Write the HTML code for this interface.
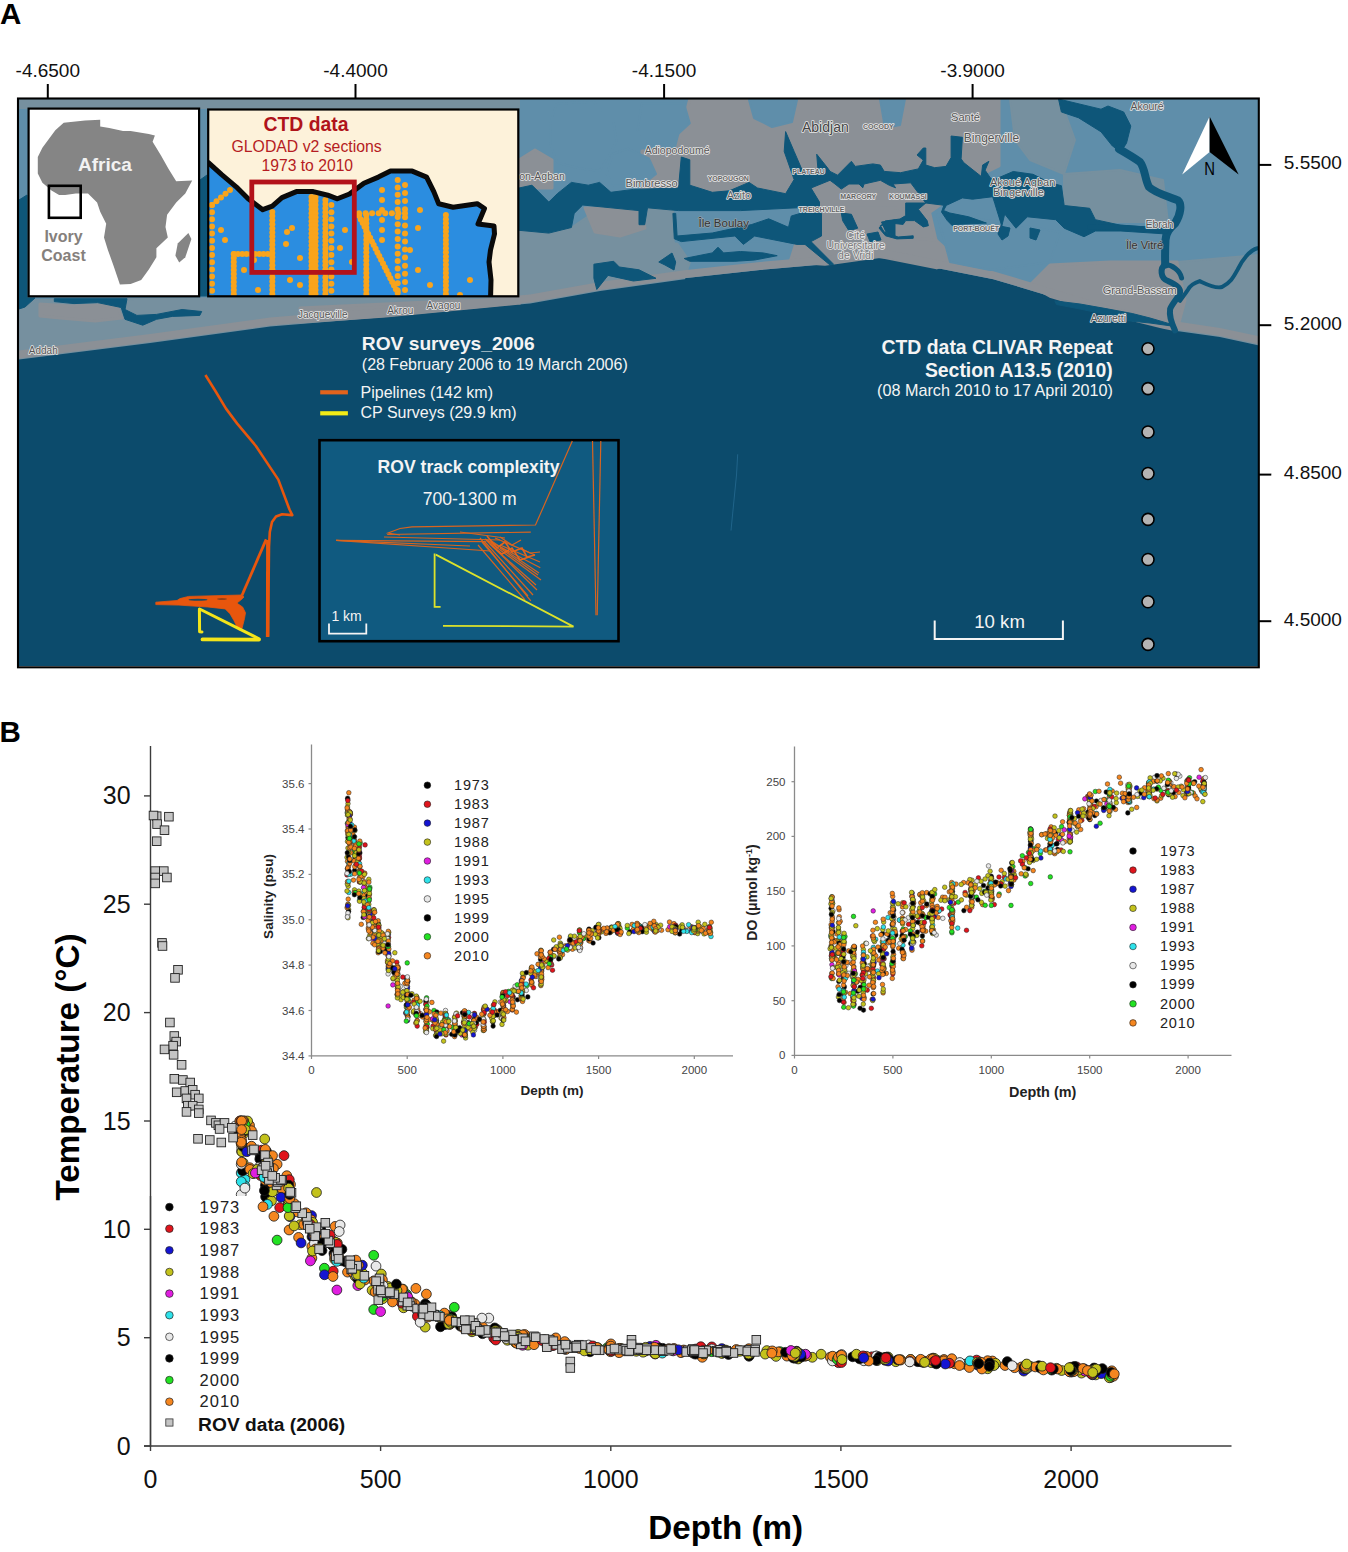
<!DOCTYPE html>
<html><head><meta charset="utf-8"><title>Figure</title>
<style>html,body{margin:0;padding:0;background:#fff;width:1348px;height:1552px;overflow:hidden}svg{display:block}.k0{fill:#000000;stroke:#1a1a1a;stroke-width:.8px}.s0{fill:#000000;stroke:#222;stroke-width:.5px}.k1{fill:#e0141c;stroke:#1a1a1a;stroke-width:.8px}.s1{fill:#e0141c;stroke:#222;stroke-width:.5px}.k2{fill:#1414d2;stroke:#1a1a1a;stroke-width:.8px}.s2{fill:#1414d2;stroke:#222;stroke-width:.5px}.k3{fill:#c3c21c;stroke:#1a1a1a;stroke-width:.8px}.s3{fill:#c3c21c;stroke:#222;stroke-width:.5px}.k4{fill:#e01ee0;stroke:#1a1a1a;stroke-width:.8px}.s4{fill:#e01ee0;stroke:#222;stroke-width:.5px}.k5{fill:#2ee2ea;stroke:#1a1a1a;stroke-width:.8px}.s5{fill:#2ee2ea;stroke:#222;stroke-width:.5px}.k6{fill:#e8e8e8;stroke:#1a1a1a;stroke-width:.8px}.s6{fill:#e8e8e8;stroke:#222;stroke-width:.5px}.k7{fill:#000000;stroke:#1a1a1a;stroke-width:.8px}.s7{fill:#000000;stroke:#222;stroke-width:.5px}.k8{fill:#22e222;stroke:#1a1a1a;stroke-width:.8px}.s8{fill:#22e222;stroke:#222;stroke-width:.5px}.k9{fill:#f5861f;stroke:#1a1a1a;stroke-width:.8px}.s9{fill:#f5861f;stroke:#222;stroke-width:.5px}.sq{width:8.6px;height:8.6px;fill:#c4c4c4;stroke:#222;stroke-width:.9px}</style>
</head><body>
<svg width="1348" height="1552" viewBox="0 0 1348 1552">
<rect width="1348" height="1552" fill="#fff"/>
<defs><clipPath id="mc"><rect x="19" y="99" width="1239" height="567"/></clipPath><clipPath id="cc"><rect x="208.2" y="109.5" width="310.1" height="186.8"/></clipPath></defs>
<g clip-path="url(#mc)">
<rect x="19" y="99" width="1239" height="567" fill="#0c4b6c"/>
<polygon points="19.0,99.0 1259.0,99.0 1259.7,344.4 1220.0,335.9 1163.4,327.4 1106.7,313.2 1050.0,296.2 993.3,279.2 936.7,267.9 880.0,256.5 860.0,259.0 825.1,264.2 760.0,270.0 684.2,278.3 600.0,290.0 530.0,302.4 385.7,315.9 270.0,325.5 150.0,342.0 19.0,358.6" fill="#5f8eaa"/>
<polygon points="519.0,232.0 571.0,228.0 600.0,208.0 673.0,208.0 675.0,240.0 690.0,262.0 684.2,278.3 600.0,290.0 530.0,302.4 519.0,303.5" fill="#76909f" stroke="#76909f" stroke-width="2" stroke-linejoin="round"/>
<polygon points="1064.0,174.0 1120.0,170.0 1163.0,180.0 1168.0,222.0 1100.0,222.0 1064.0,210.0" fill="#76909f" stroke="#76909f" stroke-width="2" stroke-linejoin="round"/>
<polygon points="1177.0,262.0 1259.0,255.0 1259.0,344.4 1220.0,335.9 1177.0,330.0" fill="#76909f" stroke="#76909f" stroke-width="2" stroke-linejoin="round"/>
<polygon points="19.0,300.0 520.0,296.0 520.0,303.0 385.7,315.9 270.0,325.5 150.0,342.0 19.0,358.6" fill="#76909f" stroke="#76909f" stroke-width="2" stroke-linejoin="round"/>
<polygon points="19.0,99.0 519.0,99.0 519.0,108.0 19.0,108.0" fill="#76909f" stroke="#76909f" stroke-width="2" stroke-linejoin="round"/>
<polygon points="1010.0,99.0 1060.0,99.0 1075.0,140.0 1064.0,174.0 1030.0,160.0 1015.0,140.0" fill="#76909f" stroke="#76909f" stroke-width="2" stroke-linejoin="round"/>
<polygon points="672.9,165.5 689.8,99.0 895.0,99.0 999.0,99.0 999.0,166.0 960.0,185.0 940.0,205.0 930.0,212.0 880.0,207.8 811.0,207.8 689.8,207.8" fill="#8b9096" stroke="#8b9096" stroke-width="3" stroke-linejoin="round"/>
<polygon points="519.0,160.0 535.0,150.0 552.0,160.0 552.0,188.0 519.0,188.0" fill="#8b9096" stroke="#8b9096" stroke-width="3" stroke-linejoin="round"/>
<polygon points="642.0,151.0 690.0,150.0 690.0,190.0 642.0,190.0" fill="#8b9096" stroke="#8b9096" stroke-width="3" stroke-linejoin="round"/>
<polygon points="585.0,208.0 640.0,208.0 645.0,228.0 620.0,236.0 595.0,232.0" fill="#8b9096" stroke="#8b9096" stroke-width="3" stroke-linejoin="round"/>
<polygon points="797.0,240.0 811.0,207.8 895.0,207.8 930.0,214.0 936.0,240.0 915.0,260.0 880.0,256.5 825.0,264.2 790.0,262.0" fill="#8b9096" stroke="#8b9096" stroke-width="3" stroke-linejoin="round"/>
<polygon points="1050.0,265.0 1110.0,262.0 1177.0,262.0 1185.0,300.0 1177.0,330.0 1163.4,327.4 1106.7,313.2 1050.0,296.2 1030.0,285.0" fill="#8b9096" stroke="#8b9096" stroke-width="3" stroke-linejoin="round"/>
<polygon points="880.0,236.0 936.0,240.0 960.0,262.0 936.7,267.9 880.0,256.5" fill="#8b9096" stroke="#8b9096" stroke-width="3" stroke-linejoin="round"/>
<polygon points="40.0,304.0 70.0,306.0 100.0,305.0 118.0,308.0 122.0,318.0 95.0,321.0 60.0,318.0 40.0,316.0" fill="#8b9096" stroke="#8b9096" stroke-width="3" stroke-linejoin="round"/>
<polygon points="300.0,308.0 385.0,304.0 450.0,301.0 520.0,300.0 520.0,303.0 385.7,315.9 300.0,322.0" fill="#8b9096" stroke="#8b9096" stroke-width="3" stroke-linejoin="round"/>
<polygon points="19.0,358.6 150.0,342.0 270.0,325.5 385.7,315.9 530.0,302.4 600.0,290.0 684.2,278.3 760.0,270.0 825.1,264.2 860.0,259.0 880.0,256.5 936.7,267.9 993.3,279.2 1050.0,296.2 1106.7,313.2 1163.4,327.4 1220.0,335.9 1259.7,344.4 1259.7,336.4 1220.0,327.9 1163.4,319.4 1106.7,305.2 1050.0,288.2 993.3,271.2 936.7,259.9 880.0,248.5 860.0,251.0 825.1,256.2 760.0,262.0 684.2,270.3 600.0,282.0 530.0,294.4 385.7,307.9 270.0,317.5 150.0,334.0 19.0,350.6" fill="#8b9096"/>
<polygon points="749.0,100.0 797.0,100.0 792.0,122.0 772.0,127.0 754.0,118.0" fill="#5f8eaa" stroke="#5f8eaa" stroke-width="2" stroke-linejoin="round"/>
<polygon points="550.0,123.0 557.0,103.5 594.0,102.0 613.7,123.0 616.5,141.5 606.6,159.8 599.6,171.0 578.4,168.3 557.3,162.7 550.2,144.3" fill="#5f8eaa" stroke="#5f8eaa" stroke-width="2" stroke-linejoin="round"/>
<polygon points="612.3,154.2 627.8,148.6 648.9,158.4 656.0,174.0 641.8,185.2 613.7,185.2 606.6,174.0" fill="#5f8eaa" stroke="#5f8eaa" stroke-width="2" stroke-linejoin="round"/>
<polygon points="641.8,103.5 684.1,103.5 689.8,123.2 670.0,141.5 648.9,144.3 637.6,130.2" fill="#5f8eaa" stroke="#5f8eaa" stroke-width="2" stroke-linejoin="round"/>
<polygon points="675.7,207.8 797.0,207.8 797.0,241.6 675.7,241.6" fill="#5f8eaa" stroke="#5f8eaa" stroke-width="2" stroke-linejoin="round"/>
<polygon points="937.0,214.0 1000.0,222.0 1060.0,232.0 1050.0,262.0 990.0,270.0 950.0,262.0" fill="#5f8eaa" stroke="#5f8eaa" stroke-width="2" stroke-linejoin="round"/>
<polygon points="880.0,99.0 905.0,99.0 900.0,125.0 885.0,128.0" fill="#5f8eaa" stroke="#5f8eaa" stroke-width="2" stroke-linejoin="round"/>
<polygon points="519.0,188.0 532.0,185.2 548.8,202.1 557.3,193.7 571.4,182.4 588.3,185.2 599.6,182.4 610.9,192.3 633.4,189.4 678.5,188.0 681.3,157.0 689.8,159.8 689.8,185.2 712.3,192.3 729.3,190.8 749.0,182.4 757.5,188.0 785.6,193.7 794.1,179.6 784.2,151.4 785.6,131.6 794.1,151.4 802.6,171.1 818.1,171.1 816.7,154.2 827.9,168.3 830.0,171.4 837.6,175.2 851.4,161.3 855.2,166.4 872.9,163.9 880.4,165.1 884.2,171.4 900.6,172.7 918.3,168.9 923.3,160.1 917.0,155.0 923.3,148.0 925.8,148.0 925.8,165.1 934.7,167.7 946.0,166.4 951.1,157.6 951.1,136.0 962.4,137.3 961.1,158.8 963.7,162.6 981.3,176.5 982.6,165.1 988.9,161.3 985.1,170.2 990.2,177.7 993.3,180.0 1013.2,171.5 1033.0,174.3 1050.0,182.8 1061.4,185.7 1064.2,205.5 1089.7,208.3 1095.4,219.7 1120.9,225.3 1163.4,228.2 1163.4,233.8 1120.9,231.0 1095.4,231.0 1084.0,236.7 1064.2,228.2 1055.7,219.7 1027.4,216.8 1016.0,228.2 1004.7,214.0 1001.8,226.1 994.8,203.5 992.7,196.7 972.5,199.2 962.4,197.9 946.0,205.5 925.8,203.0 910.7,182.8 893.0,184.0 895.6,187.8 889.3,185.3 880.4,180.3 864.0,184.0 862.8,187.8 859.0,184.0 848.9,184.0 841.3,189.1 835.0,184.0 830.0,180.3 811.0,188.0 819.5,202.1 819.5,207.8 797.0,207.8 740.5,210.6 678.5,210.6 647.5,207.8 644.7,224.7 639.0,224.7 639.0,210.6 610.9,207.8 582.7,205.0 574.2,213.4 571.4,227.5 548.8,233.1 519.0,230.3" fill="#0e5679" stroke="#0e5679" stroke-width="1" stroke-linejoin="round"/>
<polygon points="905.7,203.0 925.8,203.0 918.3,209.3 927.1,220.6 928.4,225.7 923.3,226.9 914.5,220.6 905.7,220.6 903.1,224.4 890.5,223.1 880.4,225.7 884.2,232.0 898.1,237.0 913.2,235.8 913.2,238.3 896.8,238.9 885.5,235.8 879.0,228.0 885.0,221.0 900.0,219.0 905.7,215.6" fill="#0e5679" stroke="#0e5679" stroke-width="1" stroke-linejoin="round"/>
<polygon points="944.0,205.0 946.0,206.0 943.5,210.5 949.8,213.0 968.7,216.8 986.4,223.1 956.1,224.4 952.3,225.7 947.3,220.6 941.5,212.0" fill="#0e5679" stroke="#0e5679" stroke-width="1" stroke-linejoin="round"/>
<polygon points="1000.0,226.0 1010.0,228.0 1008.0,236.0 1002.0,240.0 998.0,234.0" fill="#0e5679" stroke="#0e5679" stroke-width="1" stroke-linejoin="round"/>
<polygon points="1030.0,228.0 1040.0,230.0 1036.0,240.0 1030.0,238.0" fill="#0e5679" stroke="#0e5679" stroke-width="1" stroke-linejoin="round"/>
<polygon points="672.9,213.4 675.7,213.4 677.1,236.0 712.3,233.0 751.8,224.5 768.7,218.8 788.5,227.3 791.3,216.0 819.5,207.8 821.5,213.4 821.5,236.0 811.0,241.6 833.6,264.2 830.0,265.0 805.0,244.4 797.0,244.4 768.7,238.8 754.6,236.0 743.4,244.4 734.9,236.0 681.3,241.6 674.3,238.8" fill="#0e5679" stroke="#0e5679" stroke-width="1" stroke-linejoin="round"/>
<polygon points="684.2,258.5 712.3,252.9 718.0,247.2 723.6,252.9 740.5,251.5 763.1,252.9 777.2,255.7 754.6,260.0 734.9,261.3 689.8,261.3" fill="#0e5679" stroke="#0e5679" stroke-width="1" stroke-linejoin="round"/>
<polygon points="593.9,264.2 613.7,261.3 619.3,267.0 639.0,269.8 656.0,278.3 633.4,281.0 608.0,275.4 596.8,289.5 593.9,278.3" fill="#0e5679" stroke="#0e5679" stroke-width="1" stroke-linejoin="round"/>
<polygon points="658.8,262.0 672.0,253.0 675.7,262.0 674.0,270.0 665.0,265.0" fill="#0e5679" stroke="#0e5679" stroke-width="1" stroke-linejoin="round"/>
<polygon points="841.3,213.0 851.4,214.3 857.7,228.2 848.9,230.7 842.6,220.6" fill="#0e5679" stroke="#0e5679" stroke-width="1" stroke-linejoin="round"/>
<polygon points="867.0,234.0 878.0,232.0 881.0,240.0 870.0,241.6" fill="#0e5679" stroke="#0e5679" stroke-width="1" stroke-linejoin="round"/>
<polygon points="881.5,222.0 895.0,220.0 895.0,236.0 886.0,232.0" fill="#0e5679" stroke="#0e5679" stroke-width="1" stroke-linejoin="round"/>
<polygon points="1058.5,99.0 1101.0,109.2 1108.0,106.0 1123.7,112.0 1130.8,126.0 1126.5,143.2 1120.9,151.7 1112.4,146.0 1101.0,131.8 1078.4,117.7 1061.4,112.0" fill="#0e5679" stroke="#0e5679" stroke-width="1" stroke-linejoin="round"/>
<polygon points="54.3,298.7 127.0,298.7 125.0,309.5 136.9,315.4 156.5,314.4 182.1,309.5 201.7,311.5 199.8,315.4 172.3,316.4 156.5,319.3 142.8,325.2 125.0,319.3 121.2,307.5 97.6,302.6 74.0,303.6 54.3,301.6" fill="#0e5679" stroke="#0e5679" stroke-width="1" stroke-linejoin="round"/>
<polygon points="19.0,298.0 35.0,298.0 25.0,307.0 19.0,309.0" fill="#0e5679" stroke="#0e5679" stroke-width="1" stroke-linejoin="round"/>
<polygon points="1054.8,300.9 1080.0,304.0 1105.9,308.6 1132.2,313.5 1150.0,318.0 1170.1,323.9 1170.1,325.8 1150.0,323.0 1125.6,320.6 1105.9,314.5 1080.0,309.0 1056.5,304.5" fill="#0e5679" stroke="#0e5679" stroke-width="1" stroke-linejoin="round"/>
<polygon points="19.0,200.0 27.0,195.0 27.0,298.0 19.0,298.0" fill="#0e5679" stroke="#0e5679" stroke-width="1" stroke-linejoin="round"/>
<polygon points="200.0,180.0 207.0,175.0 207.0,296.0 200.0,296.0" fill="#0e5679" stroke="#0e5679" stroke-width="1" stroke-linejoin="round"/>
<path d="M1119,149 C1126,153 1133,157 1140,162 C1145,168 1145,180 1149,187 C1155,193 1170,197 1178,200.4 C1182,204 1181,214 1175,223.5 C1170,228 1166,232 1165.5,240 C1165,250 1165,258 1165.2,264.6" fill="none" stroke="#0e5679" stroke-width="8" stroke-linejoin="round" stroke-linecap="round"/>
<path d="M1165.2,264.6 C1160,268 1160,278 1168,281 C1175,284 1181,288 1180,292.6 C1178,298 1172,304 1170.1,309.1 C1169,316 1171,322 1175,330.5" fill="none" stroke="#0e5679" stroke-width="6" stroke-linejoin="round" stroke-linecap="round"/>
<path d="M1165.2,264.6 C1172,265 1180,270 1181.6,278" fill="none" stroke="#0e5679" stroke-width="5" stroke-linejoin="round" stroke-linecap="round"/>
<path d="M1257.4,248.2 C1250,250 1242,260 1237.6,269.6 C1233,278 1230,283 1222,287 C1215,289 1206,284 1199.7,281.1 C1194,283 1190,286 1188.2,289.3 C1185,294 1182,298 1180,300.9" fill="none" stroke="#0e5679" stroke-width="4" stroke-linejoin="round" stroke-linecap="round"/>
<path d="M1090,227 C1110,226 1140,229 1166,230.5" fill="none" stroke="#0e5679" stroke-width="5.5" stroke-linejoin="round" stroke-linecap="round"/>
<text x="802" y="131.9" style="font-family:'Liberation Sans',sans-serif;paint-order:stroke;stroke:#e6e6e6;stroke-width:1.6px;stroke-linejoin:round;font-size:14px;font-weight:normal;fill:#444">Abidjan</text>
<text x="863" y="128.8" style="font-family:'Liberation Sans',sans-serif;paint-order:stroke;stroke:#e6e6e6;stroke-width:1.6px;stroke-linejoin:round;font-size:7px;font-weight:bold;fill:#666">COCODY</text>
<text x="707.7" y="181" style="font-family:'Liberation Sans',sans-serif;paint-order:stroke;stroke:#e6e6e6;stroke-width:1.6px;stroke-linejoin:round;font-size:7px;font-weight:bold;fill:#666">YOPOUGON</text>
<text x="726.7" y="199.3" style="font-family:'Liberation Sans',sans-serif;paint-order:stroke;stroke:#e6e6e6;stroke-width:1.6px;stroke-linejoin:round;font-size:11px;font-weight:normal;fill:#666">Azito</text>
<text x="792.3" y="173.9" style="font-family:'Liberation Sans',sans-serif;paint-order:stroke;stroke:#e6e6e6;stroke-width:1.6px;stroke-linejoin:round;font-size:7px;font-weight:bold;fill:#666">PLATEAU</text>
<text x="840.2" y="198.6" style="font-family:'Liberation Sans',sans-serif;paint-order:stroke;stroke:#e6e6e6;stroke-width:1.6px;stroke-linejoin:round;font-size:7px;font-weight:bold;fill:#666">MARCORY</text>
<text x="798.6" y="212" style="font-family:'Liberation Sans',sans-serif;paint-order:stroke;stroke:#e6e6e6;stroke-width:1.6px;stroke-linejoin:round;font-size:7px;font-weight:bold;fill:#666">TREICHVILLE</text>
<text x="698.5" y="226.8" style="font-family:'Liberation Sans',sans-serif;paint-order:stroke;stroke:#e6e6e6;stroke-width:1.6px;stroke-linejoin:round;font-size:11.5px;font-weight:normal;fill:#333;stroke:#9aa6ad;stroke-width:1.2px">Île Boulay</text>
<text x="644.7" y="153.5" style="font-family:'Liberation Sans',sans-serif;paint-order:stroke;stroke:#e6e6e6;stroke-width:1.6px;stroke-linejoin:round;font-size:10.5px;font-weight:normal;fill:#555">Adiopodoumé</text>
<text x="625.6" y="187.3" style="font-family:'Liberation Sans',sans-serif;paint-order:stroke;stroke:#e6e6e6;stroke-width:1.6px;stroke-linejoin:round;font-size:11px;font-weight:normal;fill:#555">Bimbresso</text>
<text x="519.2" y="179.6" style="font-family:'Liberation Sans',sans-serif;paint-order:stroke;stroke:#e6e6e6;stroke-width:1.6px;stroke-linejoin:round;font-size:10.5px;font-weight:normal;fill:#555">on-Agban</text>
<text x="951.1" y="121.1" style="font-family:'Liberation Sans',sans-serif;paint-order:stroke;stroke:#e6e6e6;stroke-width:1.6px;stroke-linejoin:round;font-size:11px;font-weight:normal;fill:#555">Santé</text>
<text x="963.8" y="141.5" style="font-family:'Liberation Sans',sans-serif;paint-order:stroke;stroke:#e6e6e6;stroke-width:1.6px;stroke-linejoin:round;font-size:12px;font-weight:normal;fill:#555">Bingerville</text>
<text x="889.1" y="199.3" style="font-family:'Liberation Sans',sans-serif;paint-order:stroke;stroke:#e6e6e6;stroke-width:1.6px;stroke-linejoin:round;font-size:7px;font-weight:bold;fill:#666">KOUMASSI</text>
<text x="953.2" y="231" style="font-family:'Liberation Sans',sans-serif;paint-order:stroke;stroke:#e6e6e6;stroke-width:1.6px;stroke-linejoin:round;font-size:7px;font-weight:bold;fill:#666">PORT-BOUËT</text>
<text x="989.9" y="185.9" style="font-family:'Liberation Sans',sans-serif;paint-order:stroke;stroke:#e6e6e6;stroke-width:1.6px;stroke-linejoin:round;font-size:11px;font-weight:normal;fill:#555">Akoué Agban</text>
<text x="993" y="195.8" style="font-family:'Liberation Sans',sans-serif;paint-order:stroke;stroke:#e6e6e6;stroke-width:1.6px;stroke-linejoin:round;font-size:11px;font-weight:normal;fill:#555">Bingerville</text>
<text x="1130.4" y="110" style="font-family:'Liberation Sans',sans-serif;paint-order:stroke;stroke:#e6e6e6;stroke-width:1.6px;stroke-linejoin:round;font-size:10.5px;font-weight:normal;fill:#555">Akouré</text>
<text x="1145.4" y="227.6" style="font-family:'Liberation Sans',sans-serif;paint-order:stroke;stroke:#e6e6e6;stroke-width:1.6px;stroke-linejoin:round;font-size:10.5px;font-weight:normal;fill:#555">Ebrah</text>
<text x="1126" y="248.6" style="font-family:'Liberation Sans',sans-serif;paint-order:stroke;stroke:#e6e6e6;stroke-width:1.6px;stroke-linejoin:round;font-size:11px;font-weight:normal;fill:#333;stroke:#9aa6ad;stroke-width:1.2px">Île Vitré</text>
<text x="1102.7" y="293.6" style="font-family:'Liberation Sans',sans-serif;paint-order:stroke;stroke:#e6e6e6;stroke-width:1.6px;stroke-linejoin:round;font-size:11px;font-weight:normal;fill:#555">Grand-Bassam</text>
<text x="1090.4" y="321.5" style="font-family:'Liberation Sans',sans-serif;paint-order:stroke;stroke:#e6e6e6;stroke-width:1.6px;stroke-linejoin:round;font-size:10.5px;font-weight:normal;fill:#555">Azuretti</text>
<text x="298" y="318.4" style="font-family:'Liberation Sans',sans-serif;paint-order:stroke;stroke:#e6e6e6;stroke-width:1.6px;stroke-linejoin:round;font-size:10px;font-weight:normal;fill:#555">Jacqueville</text>
<text x="387.2" y="314" style="font-family:'Liberation Sans',sans-serif;paint-order:stroke;stroke:#e6e6e6;stroke-width:1.6px;stroke-linejoin:round;font-size:10px;font-weight:normal;fill:#555">Akrou</text>
<text x="426.6" y="309.4" style="font-family:'Liberation Sans',sans-serif;paint-order:stroke;stroke:#e6e6e6;stroke-width:1.6px;stroke-linejoin:round;font-size:10px;font-weight:normal;fill:#555">Avagou</text>
<text x="28.8" y="353.7" style="font-family:'Liberation Sans',sans-serif;paint-order:stroke;stroke:#e6e6e6;stroke-width:1.6px;stroke-linejoin:round;font-size:10px;font-weight:normal;fill:#555">Addah</text>
<text x="855.7" y="238.8" text-anchor="middle" style="font-family:'Liberation Sans',sans-serif;paint-order:stroke;stroke:#e6e6e6;stroke-width:1.6px;stroke-linejoin:round;font-size:10.5px;fill:#777">Cité</text>
<text x="855.7" y="248.7" text-anchor="middle" style="font-family:'Liberation Sans',sans-serif;paint-order:stroke;stroke:#e6e6e6;stroke-width:1.6px;stroke-linejoin:round;font-size:10.5px;fill:#777">Universitaire</text>
<text x="855.7" y="258.6" text-anchor="middle" style="font-family:'Liberation Sans',sans-serif;paint-order:stroke;stroke:#e6e6e6;stroke-width:1.6px;stroke-linejoin:round;font-size:10.5px;fill:#777">de Vridi</text>
<rect x="28.6" y="108.6" width="170.5" height="187.7" fill="#fff" stroke="#000" stroke-width="2.2"/>
<polygon points="37.8,156.9 42.4,147.8 55.3,130.3 63.7,122.7 85.0,120.4 100.2,119.7 100.2,126.5 109.3,128.0 123.0,131.0 130.6,131.0 148.8,134.1 154.9,135.6 152.6,141.7 161.0,155.4 168.6,169.0 176.2,181.2 192.2,180.5 185.3,193.4 176.2,202.5 167.1,214.7 165.5,226.9 167.8,237.5 156.4,248.2 156.4,257.3 148.8,269.4 141.2,280.1 130.6,283.9 119.9,284.6 113.8,266.4 107.8,249.7 104.0,237.5 106.2,223.8 100.2,211.7 97.1,202.5 88.0,193.4 75.8,193.4 65.2,194.9 59.1,194.9 51.5,190.4 42.4,182.8 37.8,173.6" fill="#858585"/>
<polygon points="188.4,233.0 191.4,239.0 185.3,257.3 179.2,262.6 175.4,255.8 177.7,243.6" fill="#858585"/>
<rect x="48.9" y="185.8" width="31.8" height="32" fill="none" stroke="#000" stroke-width="2.6"/>
<text x="105" y="171.4" text-anchor="middle" style="font-family:'Liberation Sans',sans-serif;font-weight:bold;font-size:19px;fill:#f2f2f2">Africa</text>
<text x="63.5" y="242" text-anchor="middle" style="font-family:'Liberation Sans',sans-serif;font-weight:bold;font-size:16px;fill:#85807c">Ivory</text>
<text x="63.5" y="261" text-anchor="middle" style="font-family:'Liberation Sans',sans-serif;font-weight:bold;font-size:16px;fill:#85807c">Coast</text>
<rect x="208.2" y="109.5" width="310.1" height="186.8" fill="#fdf2da"/>
<g clip-path="url(#cc)">
<polygon points="208.4,162.7 221.7,174.7 236.2,186.8 248.2,198.8 262.7,209.7 272.3,206.1 282.0,197.6 296.4,191.6 313.3,191.6 327.8,195.2 337.4,198.8 349.5,194.0 363.9,183.2 378.4,177.1 390.5,171.1 412.2,171.1 426.6,177.1 433.8,191.6 438.7,203.7 453.1,207.3 477.2,203.7 484.5,208.5 478.0,224.0 494.0,226.0 494.5,234.0 490.5,250.0 489.0,262.0 491.0,280.0 490.5,300.0 205.0,300.0 205.0,162.0" fill="#2b8de0"/>
<circle cx="272.3" cy="212.0" r="3.0" fill="#f9a41c"/>
<circle cx="272.3" cy="216.1" r="3.0" fill="#f9a41c"/>
<circle cx="272.3" cy="220.2" r="3.0" fill="#f9a41c"/>
<circle cx="272.3" cy="224.3" r="3.0" fill="#f9a41c"/>
<circle cx="272.3" cy="228.4" r="3.0" fill="#f9a41c"/>
<circle cx="272.3" cy="232.5" r="3.0" fill="#f9a41c"/>
<circle cx="272.3" cy="236.6" r="3.0" fill="#f9a41c"/>
<circle cx="272.3" cy="240.7" r="3.0" fill="#f9a41c"/>
<circle cx="272.3" cy="244.8" r="3.0" fill="#f9a41c"/>
<circle cx="272.3" cy="248.9" r="3.0" fill="#f9a41c"/>
<circle cx="272.3" cy="253.0" r="3.0" fill="#f9a41c"/>
<circle cx="272.3" cy="257.0" r="3.0" fill="#f9a41c"/>
<circle cx="272.3" cy="261.1" r="3.0" fill="#f9a41c"/>
<circle cx="272.3" cy="265.2" r="3.0" fill="#f9a41c"/>
<circle cx="272.3" cy="269.3" r="3.0" fill="#f9a41c"/>
<circle cx="272.3" cy="273.4" r="3.0" fill="#f9a41c"/>
<circle cx="272.3" cy="277.5" r="3.0" fill="#f9a41c"/>
<circle cx="272.3" cy="281.6" r="3.0" fill="#f9a41c"/>
<circle cx="272.3" cy="285.7" r="3.0" fill="#f9a41c"/>
<circle cx="272.3" cy="289.8" r="3.0" fill="#f9a41c"/>
<circle cx="272.3" cy="293.9" r="3.0" fill="#f9a41c"/>
<circle cx="272.3" cy="298.0" r="3.0" fill="#f9a41c"/>
<circle cx="311.5" cy="197.0" r="3.0" fill="#f9a41c"/>
<circle cx="311.5" cy="201.0" r="3.0" fill="#f9a41c"/>
<circle cx="311.5" cy="205.1" r="3.0" fill="#f9a41c"/>
<circle cx="311.5" cy="209.1" r="3.0" fill="#f9a41c"/>
<circle cx="311.5" cy="213.2" r="3.0" fill="#f9a41c"/>
<circle cx="311.5" cy="217.2" r="3.0" fill="#f9a41c"/>
<circle cx="311.5" cy="221.2" r="3.0" fill="#f9a41c"/>
<circle cx="311.5" cy="225.3" r="3.0" fill="#f9a41c"/>
<circle cx="311.5" cy="229.3" r="3.0" fill="#f9a41c"/>
<circle cx="311.5" cy="233.4" r="3.0" fill="#f9a41c"/>
<circle cx="311.5" cy="237.4" r="3.0" fill="#f9a41c"/>
<circle cx="311.5" cy="241.4" r="3.0" fill="#f9a41c"/>
<circle cx="311.5" cy="245.5" r="3.0" fill="#f9a41c"/>
<circle cx="311.5" cy="249.5" r="3.0" fill="#f9a41c"/>
<circle cx="311.5" cy="253.6" r="3.0" fill="#f9a41c"/>
<circle cx="311.5" cy="257.6" r="3.0" fill="#f9a41c"/>
<circle cx="311.5" cy="261.6" r="3.0" fill="#f9a41c"/>
<circle cx="311.5" cy="265.7" r="3.0" fill="#f9a41c"/>
<circle cx="311.5" cy="269.7" r="3.0" fill="#f9a41c"/>
<circle cx="311.5" cy="273.8" r="3.0" fill="#f9a41c"/>
<circle cx="311.5" cy="277.8" r="3.0" fill="#f9a41c"/>
<circle cx="311.5" cy="281.8" r="3.0" fill="#f9a41c"/>
<circle cx="311.5" cy="285.9" r="3.0" fill="#f9a41c"/>
<circle cx="311.5" cy="289.9" r="3.0" fill="#f9a41c"/>
<circle cx="311.5" cy="294.0" r="3.0" fill="#f9a41c"/>
<circle cx="311.5" cy="298.0" r="3.0" fill="#f9a41c"/>
<circle cx="315.5" cy="197.0" r="3.0" fill="#f9a41c"/>
<circle cx="315.5" cy="201.0" r="3.0" fill="#f9a41c"/>
<circle cx="315.5" cy="205.1" r="3.0" fill="#f9a41c"/>
<circle cx="315.5" cy="209.1" r="3.0" fill="#f9a41c"/>
<circle cx="315.5" cy="213.2" r="3.0" fill="#f9a41c"/>
<circle cx="315.5" cy="217.2" r="3.0" fill="#f9a41c"/>
<circle cx="315.5" cy="221.2" r="3.0" fill="#f9a41c"/>
<circle cx="315.5" cy="225.3" r="3.0" fill="#f9a41c"/>
<circle cx="315.5" cy="229.3" r="3.0" fill="#f9a41c"/>
<circle cx="315.5" cy="233.4" r="3.0" fill="#f9a41c"/>
<circle cx="315.5" cy="237.4" r="3.0" fill="#f9a41c"/>
<circle cx="315.5" cy="241.4" r="3.0" fill="#f9a41c"/>
<circle cx="315.5" cy="245.5" r="3.0" fill="#f9a41c"/>
<circle cx="315.5" cy="249.5" r="3.0" fill="#f9a41c"/>
<circle cx="315.5" cy="253.6" r="3.0" fill="#f9a41c"/>
<circle cx="315.5" cy="257.6" r="3.0" fill="#f9a41c"/>
<circle cx="315.5" cy="261.6" r="3.0" fill="#f9a41c"/>
<circle cx="315.5" cy="265.7" r="3.0" fill="#f9a41c"/>
<circle cx="315.5" cy="269.7" r="3.0" fill="#f9a41c"/>
<circle cx="315.5" cy="273.8" r="3.0" fill="#f9a41c"/>
<circle cx="315.5" cy="277.8" r="3.0" fill="#f9a41c"/>
<circle cx="315.5" cy="281.8" r="3.0" fill="#f9a41c"/>
<circle cx="315.5" cy="285.9" r="3.0" fill="#f9a41c"/>
<circle cx="315.5" cy="289.9" r="3.0" fill="#f9a41c"/>
<circle cx="315.5" cy="294.0" r="3.0" fill="#f9a41c"/>
<circle cx="315.5" cy="298.0" r="3.0" fill="#f9a41c"/>
<circle cx="325.4" cy="200.0" r="3.0" fill="#f9a41c"/>
<circle cx="325.4" cy="204.1" r="3.0" fill="#f9a41c"/>
<circle cx="325.4" cy="208.2" r="3.0" fill="#f9a41c"/>
<circle cx="325.4" cy="212.2" r="3.0" fill="#f9a41c"/>
<circle cx="325.4" cy="216.3" r="3.0" fill="#f9a41c"/>
<circle cx="325.4" cy="220.4" r="3.0" fill="#f9a41c"/>
<circle cx="325.4" cy="224.5" r="3.0" fill="#f9a41c"/>
<circle cx="325.4" cy="228.6" r="3.0" fill="#f9a41c"/>
<circle cx="325.4" cy="232.7" r="3.0" fill="#f9a41c"/>
<circle cx="325.4" cy="236.8" r="3.0" fill="#f9a41c"/>
<circle cx="325.4" cy="240.8" r="3.0" fill="#f9a41c"/>
<circle cx="325.4" cy="244.9" r="3.0" fill="#f9a41c"/>
<circle cx="325.4" cy="249.0" r="3.0" fill="#f9a41c"/>
<circle cx="325.4" cy="253.1" r="3.0" fill="#f9a41c"/>
<circle cx="325.4" cy="257.2" r="3.0" fill="#f9a41c"/>
<circle cx="325.4" cy="261.2" r="3.0" fill="#f9a41c"/>
<circle cx="325.4" cy="265.3" r="3.0" fill="#f9a41c"/>
<circle cx="325.4" cy="269.4" r="3.0" fill="#f9a41c"/>
<circle cx="325.4" cy="273.5" r="3.0" fill="#f9a41c"/>
<circle cx="325.4" cy="277.6" r="3.0" fill="#f9a41c"/>
<circle cx="325.4" cy="281.7" r="3.0" fill="#f9a41c"/>
<circle cx="325.4" cy="285.8" r="3.0" fill="#f9a41c"/>
<circle cx="325.4" cy="289.8" r="3.0" fill="#f9a41c"/>
<circle cx="325.4" cy="293.9" r="3.0" fill="#f9a41c"/>
<circle cx="325.4" cy="298.0" r="3.0" fill="#f9a41c"/>
<circle cx="331.4" cy="205.0" r="3.0" fill="#f9a41c"/>
<circle cx="331.4" cy="212.2" r="3.0" fill="#f9a41c"/>
<circle cx="331.4" cy="219.3" r="3.0" fill="#f9a41c"/>
<circle cx="331.4" cy="226.5" r="3.0" fill="#f9a41c"/>
<circle cx="331.4" cy="233.6" r="3.0" fill="#f9a41c"/>
<circle cx="331.4" cy="240.8" r="3.0" fill="#f9a41c"/>
<circle cx="331.4" cy="247.9" r="3.0" fill="#f9a41c"/>
<circle cx="331.4" cy="255.1" r="3.0" fill="#f9a41c"/>
<circle cx="331.4" cy="262.2" r="3.0" fill="#f9a41c"/>
<circle cx="331.4" cy="269.4" r="3.0" fill="#f9a41c"/>
<circle cx="331.4" cy="276.5" r="3.0" fill="#f9a41c"/>
<circle cx="331.4" cy="283.7" r="3.0" fill="#f9a41c"/>
<circle cx="331.4" cy="290.8" r="3.0" fill="#f9a41c"/>
<circle cx="331.4" cy="298.0" r="3.0" fill="#f9a41c"/>
<circle cx="445.9" cy="215.0" r="3.0" fill="#f9a41c"/>
<circle cx="445.9" cy="219.2" r="3.0" fill="#f9a41c"/>
<circle cx="445.9" cy="223.3" r="3.0" fill="#f9a41c"/>
<circle cx="445.9" cy="227.4" r="3.0" fill="#f9a41c"/>
<circle cx="445.9" cy="231.6" r="3.0" fill="#f9a41c"/>
<circle cx="445.9" cy="235.8" r="3.0" fill="#f9a41c"/>
<circle cx="445.9" cy="239.9" r="3.0" fill="#f9a41c"/>
<circle cx="445.9" cy="244.1" r="3.0" fill="#f9a41c"/>
<circle cx="445.9" cy="248.2" r="3.0" fill="#f9a41c"/>
<circle cx="445.9" cy="252.3" r="3.0" fill="#f9a41c"/>
<circle cx="445.9" cy="256.5" r="3.0" fill="#f9a41c"/>
<circle cx="445.9" cy="260.6" r="3.0" fill="#f9a41c"/>
<circle cx="445.9" cy="264.8" r="3.0" fill="#f9a41c"/>
<circle cx="445.9" cy="268.9" r="3.0" fill="#f9a41c"/>
<circle cx="445.9" cy="273.1" r="3.0" fill="#f9a41c"/>
<circle cx="445.9" cy="277.2" r="3.0" fill="#f9a41c"/>
<circle cx="445.9" cy="281.4" r="3.0" fill="#f9a41c"/>
<circle cx="445.9" cy="285.6" r="3.0" fill="#f9a41c"/>
<circle cx="445.9" cy="289.7" r="3.0" fill="#f9a41c"/>
<circle cx="445.9" cy="293.9" r="3.0" fill="#f9a41c"/>
<circle cx="445.9" cy="298.0" r="3.0" fill="#f9a41c"/>
<circle cx="359.0" cy="213.3" r="3.0" fill="#f9a41c"/>
<circle cx="365.6" cy="213.3" r="3.0" fill="#f9a41c"/>
<circle cx="372.1" cy="213.3" r="3.0" fill="#f9a41c"/>
<circle cx="378.7" cy="213.3" r="3.0" fill="#f9a41c"/>
<circle cx="385.3" cy="213.3" r="3.0" fill="#f9a41c"/>
<circle cx="391.9" cy="213.3" r="3.0" fill="#f9a41c"/>
<circle cx="398.4" cy="213.3" r="3.0" fill="#f9a41c"/>
<circle cx="405.0" cy="213.3" r="3.0" fill="#f9a41c"/>
<circle cx="359.0" cy="215.7" r="3.0" fill="#f9a41c"/>
<circle cx="360.8" cy="219.4" r="3.0" fill="#f9a41c"/>
<circle cx="362.7" cy="223.1" r="3.0" fill="#f9a41c"/>
<circle cx="364.5" cy="226.7" r="3.0" fill="#f9a41c"/>
<circle cx="366.4" cy="230.4" r="3.0" fill="#f9a41c"/>
<circle cx="368.2" cy="234.1" r="3.0" fill="#f9a41c"/>
<circle cx="370.1" cy="237.8" r="3.0" fill="#f9a41c"/>
<circle cx="371.9" cy="241.4" r="3.0" fill="#f9a41c"/>
<circle cx="373.7" cy="245.1" r="3.0" fill="#f9a41c"/>
<circle cx="375.6" cy="248.8" r="3.0" fill="#f9a41c"/>
<circle cx="377.4" cy="252.5" r="3.0" fill="#f9a41c"/>
<circle cx="379.3" cy="256.1" r="3.0" fill="#f9a41c"/>
<circle cx="381.1" cy="259.8" r="3.0" fill="#f9a41c"/>
<circle cx="383.0" cy="263.5" r="3.0" fill="#f9a41c"/>
<circle cx="384.8" cy="267.2" r="3.0" fill="#f9a41c"/>
<circle cx="386.6" cy="270.8" r="3.0" fill="#f9a41c"/>
<circle cx="388.5" cy="274.5" r="3.0" fill="#f9a41c"/>
<circle cx="390.3" cy="278.2" r="3.0" fill="#f9a41c"/>
<circle cx="392.2" cy="281.9" r="3.0" fill="#f9a41c"/>
<circle cx="394.0" cy="285.5" r="3.0" fill="#f9a41c"/>
<circle cx="395.9" cy="289.2" r="3.0" fill="#f9a41c"/>
<circle cx="397.7" cy="292.9" r="3.0" fill="#f9a41c"/>
<circle cx="366.3" cy="215.0" r="3.0" fill="#f9a41c"/>
<circle cx="366.3" cy="219.2" r="3.0" fill="#f9a41c"/>
<circle cx="366.3" cy="223.3" r="3.0" fill="#f9a41c"/>
<circle cx="366.3" cy="227.4" r="3.0" fill="#f9a41c"/>
<circle cx="366.3" cy="231.6" r="3.0" fill="#f9a41c"/>
<circle cx="366.3" cy="235.8" r="3.0" fill="#f9a41c"/>
<circle cx="366.3" cy="239.9" r="3.0" fill="#f9a41c"/>
<circle cx="366.3" cy="244.1" r="3.0" fill="#f9a41c"/>
<circle cx="366.3" cy="248.2" r="3.0" fill="#f9a41c"/>
<circle cx="366.3" cy="252.3" r="3.0" fill="#f9a41c"/>
<circle cx="366.3" cy="256.5" r="3.0" fill="#f9a41c"/>
<circle cx="366.3" cy="260.6" r="3.0" fill="#f9a41c"/>
<circle cx="366.3" cy="264.8" r="3.0" fill="#f9a41c"/>
<circle cx="366.3" cy="268.9" r="3.0" fill="#f9a41c"/>
<circle cx="366.3" cy="273.1" r="3.0" fill="#f9a41c"/>
<circle cx="366.3" cy="277.2" r="3.0" fill="#f9a41c"/>
<circle cx="366.3" cy="281.4" r="3.0" fill="#f9a41c"/>
<circle cx="366.3" cy="285.6" r="3.0" fill="#f9a41c"/>
<circle cx="366.3" cy="289.7" r="3.0" fill="#f9a41c"/>
<circle cx="366.3" cy="293.9" r="3.0" fill="#f9a41c"/>
<circle cx="366.3" cy="298.0" r="3.0" fill="#f9a41c"/>
<circle cx="397.7" cy="180.0" r="3.0" fill="#f9a41c"/>
<circle cx="397.7" cy="187.4" r="3.0" fill="#f9a41c"/>
<circle cx="397.7" cy="194.8" r="3.0" fill="#f9a41c"/>
<circle cx="397.7" cy="202.1" r="3.0" fill="#f9a41c"/>
<circle cx="397.7" cy="209.5" r="3.0" fill="#f9a41c"/>
<circle cx="397.7" cy="216.9" r="3.0" fill="#f9a41c"/>
<circle cx="397.7" cy="224.2" r="3.0" fill="#f9a41c"/>
<circle cx="397.7" cy="231.6" r="3.0" fill="#f9a41c"/>
<circle cx="397.7" cy="239.0" r="3.0" fill="#f9a41c"/>
<circle cx="397.7" cy="246.4" r="3.0" fill="#f9a41c"/>
<circle cx="397.7" cy="253.8" r="3.0" fill="#f9a41c"/>
<circle cx="397.7" cy="261.1" r="3.0" fill="#f9a41c"/>
<circle cx="397.7" cy="268.5" r="3.0" fill="#f9a41c"/>
<circle cx="397.7" cy="275.9" r="3.0" fill="#f9a41c"/>
<circle cx="397.7" cy="283.2" r="3.0" fill="#f9a41c"/>
<circle cx="397.7" cy="290.6" r="3.0" fill="#f9a41c"/>
<circle cx="397.7" cy="298.0" r="3.0" fill="#f9a41c"/>
<circle cx="405.0" cy="185.0" r="3.0" fill="#f9a41c"/>
<circle cx="405.0" cy="193.1" r="3.0" fill="#f9a41c"/>
<circle cx="405.0" cy="201.1" r="3.0" fill="#f9a41c"/>
<circle cx="405.0" cy="209.2" r="3.0" fill="#f9a41c"/>
<circle cx="405.0" cy="217.3" r="3.0" fill="#f9a41c"/>
<circle cx="405.0" cy="225.4" r="3.0" fill="#f9a41c"/>
<circle cx="405.0" cy="233.4" r="3.0" fill="#f9a41c"/>
<circle cx="405.0" cy="241.5" r="3.0" fill="#f9a41c"/>
<circle cx="405.0" cy="249.6" r="3.0" fill="#f9a41c"/>
<circle cx="405.0" cy="257.6" r="3.0" fill="#f9a41c"/>
<circle cx="405.0" cy="265.7" r="3.0" fill="#f9a41c"/>
<circle cx="405.0" cy="273.8" r="3.0" fill="#f9a41c"/>
<circle cx="405.0" cy="281.9" r="3.0" fill="#f9a41c"/>
<circle cx="405.0" cy="289.9" r="3.0" fill="#f9a41c"/>
<circle cx="405.0" cy="298.0" r="3.0" fill="#f9a41c"/>
<circle cx="233.8" cy="254.0" r="3.0" fill="#f9a41c"/>
<circle cx="233.8" cy="258.0" r="3.0" fill="#f9a41c"/>
<circle cx="233.8" cy="262.0" r="3.0" fill="#f9a41c"/>
<circle cx="233.8" cy="266.0" r="3.0" fill="#f9a41c"/>
<circle cx="233.8" cy="270.0" r="3.0" fill="#f9a41c"/>
<circle cx="233.8" cy="274.0" r="3.0" fill="#f9a41c"/>
<circle cx="233.8" cy="278.0" r="3.0" fill="#f9a41c"/>
<circle cx="233.8" cy="282.0" r="3.0" fill="#f9a41c"/>
<circle cx="233.8" cy="286.0" r="3.0" fill="#f9a41c"/>
<circle cx="233.8" cy="290.0" r="3.0" fill="#f9a41c"/>
<circle cx="233.8" cy="294.0" r="3.0" fill="#f9a41c"/>
<circle cx="233.8" cy="298.0" r="3.0" fill="#f9a41c"/>
<circle cx="233.8" cy="254.0" r="3.0" fill="#f9a41c"/>
<circle cx="238.0" cy="254.0" r="3.0" fill="#f9a41c"/>
<circle cx="242.3" cy="254.0" r="3.0" fill="#f9a41c"/>
<circle cx="246.5" cy="254.0" r="3.0" fill="#f9a41c"/>
<circle cx="250.8" cy="254.0" r="3.0" fill="#f9a41c"/>
<circle cx="255.0" cy="254.0" r="3.0" fill="#f9a41c"/>
<circle cx="259.3" cy="254.0" r="3.0" fill="#f9a41c"/>
<circle cx="263.5" cy="254.0" r="3.0" fill="#f9a41c"/>
<circle cx="267.8" cy="254.0" r="3.0" fill="#f9a41c"/>
<circle cx="272.0" cy="254.0" r="3.0" fill="#f9a41c"/>
<circle cx="212.0" cy="205.0" r="3.0" fill="#f9a41c"/>
<circle cx="212.0" cy="212.2" r="3.0" fill="#f9a41c"/>
<circle cx="212.0" cy="219.3" r="3.0" fill="#f9a41c"/>
<circle cx="212.0" cy="226.5" r="3.0" fill="#f9a41c"/>
<circle cx="212.0" cy="233.6" r="3.0" fill="#f9a41c"/>
<circle cx="212.0" cy="240.8" r="3.0" fill="#f9a41c"/>
<circle cx="212.0" cy="247.9" r="3.0" fill="#f9a41c"/>
<circle cx="212.0" cy="255.1" r="3.0" fill="#f9a41c"/>
<circle cx="212.0" cy="262.2" r="3.0" fill="#f9a41c"/>
<circle cx="212.0" cy="269.4" r="3.0" fill="#f9a41c"/>
<circle cx="212.0" cy="276.5" r="3.0" fill="#f9a41c"/>
<circle cx="212.0" cy="283.7" r="3.0" fill="#f9a41c"/>
<circle cx="212.0" cy="290.8" r="3.0" fill="#f9a41c"/>
<circle cx="212.0" cy="298.0" r="3.0" fill="#f9a41c"/>
<circle cx="212.0" cy="205.0" r="3.0" fill="#f9a41c"/>
<circle cx="216.5" cy="201.2" r="3.0" fill="#f9a41c"/>
<circle cx="221.0" cy="197.5" r="3.0" fill="#f9a41c"/>
<circle cx="225.5" cy="193.8" r="3.0" fill="#f9a41c"/>
<circle cx="230.0" cy="190.0" r="3.0" fill="#f9a41c"/>
<circle cx="382.0" cy="190.0" r="3.0" fill="#f9a41c"/>
<circle cx="382.0" cy="200.0" r="3.0" fill="#f9a41c"/>
<circle cx="382.0" cy="210.0" r="3.0" fill="#f9a41c"/>
<circle cx="382.0" cy="220.0" r="3.0" fill="#f9a41c"/>
<circle cx="382.0" cy="230.0" r="3.0" fill="#f9a41c"/>
<circle cx="382.0" cy="240.0" r="3.0" fill="#f9a41c"/>
<circle cx="287.0" cy="232.0" r="3.0" fill="#f9a41c"/>
<circle cx="292.0" cy="228.0" r="3.0" fill="#f9a41c"/>
<circle cx="286.0" cy="244.0" r="3.0" fill="#f9a41c"/>
<circle cx="300.0" cy="258.0" r="3.0" fill="#f9a41c"/>
<circle cx="340.0" cy="248.0" r="3.0" fill="#f9a41c"/>
<circle cx="244.0" cy="270.0" r="3.0" fill="#f9a41c"/>
<circle cx="254.0" cy="260.0" r="3.0" fill="#f9a41c"/>
<circle cx="345.0" cy="230.0" r="3.0" fill="#f9a41c"/>
<circle cx="420.0" cy="210.0" r="3.0" fill="#f9a41c"/>
<circle cx="418.0" cy="228.0" r="3.0" fill="#f9a41c"/>
<circle cx="470.0" cy="280.0" r="3.0" fill="#f9a41c"/>
<circle cx="460.0" cy="295.0" r="3.0" fill="#f9a41c"/>
<circle cx="430.0" cy="285.0" r="3.0" fill="#f9a41c"/>
<circle cx="290.0" cy="280.0" r="3.0" fill="#f9a41c"/>
<circle cx="300.0" cy="285.0" r="3.0" fill="#f9a41c"/>
<circle cx="410.0" cy="250.0" r="3.0" fill="#f9a41c"/>
<circle cx="418.0" cy="270.0" r="3.0" fill="#f9a41c"/>
<circle cx="352.0" cy="262.0" r="3.0" fill="#f9a41c"/>
<circle cx="258.0" cy="290.0" r="3.0" fill="#f9a41c"/>
<circle cx="225.0" cy="240.0" r="3.0" fill="#f9a41c"/>
<circle cx="221.0" cy="230.0" r="3.0" fill="#f9a41c"/>
<polyline points="208.4,162.7 221.7,174.7 236.2,186.8 248.2,198.8 262.7,209.7 272.3,206.1 282.0,197.6 296.4,191.6 313.3,191.6 327.8,195.2 337.4,198.8 349.5,194.0 363.9,183.2 378.4,177.1 390.5,171.1 412.2,171.1 426.6,177.1 433.8,191.6 438.7,203.7 453.1,207.3 477.2,203.7 484.5,208.5 478.0,224.0 494.0,226.0 494.5,234.0 490.5,250.0 489.0,262.0 491.0,280.0 490.5,300.0" fill="none" stroke="#0a0a0a" stroke-width="5" stroke-linejoin="round" stroke-linecap="round"/>
</g>
<rect x="208.2" y="109.5" width="310.1" height="186.8" fill="none" stroke="#000" stroke-width="2.2"/>
<rect x="251.8" y="182" width="102.5" height="90.4" fill="none" stroke="#b3121a" stroke-width="4.8"/>
<text x="306" y="131.3" text-anchor="middle" style="font-family:'Liberation Sans',sans-serif;font-weight:bold;font-size:19.4px;fill:#b0141a">CTD data</text>
<text x="306.6" y="151.8" text-anchor="middle" style="font-family:'Liberation Sans',sans-serif;font-size:15.8px;fill:#b51c22">GLODAD v2 sections</text>
<text x="307.3" y="171.1" text-anchor="middle" style="font-family:'Liberation Sans',sans-serif;font-size:15.7px;fill:#b51c22">1973 to 2010</text>
<polygon points="1209.6,116.6 1182.2,174.6 1209.6,152" fill="#fff"/>
<polygon points="1209.6,116.6 1238.6,174.6 1209.6,152" fill="#000"/>
<text transform="translate(1209.7,174.6) scale(0.8,1)" text-anchor="middle" style="font-family:'Liberation Sans',sans-serif;font-size:18.6px;fill:#000">N</text>
<text x="361.8" y="350" style="font-family:'Liberation Sans',sans-serif;fill:#f4f4f4;font-weight:bold;font-size:19.2px">ROV surveys_2006</text>
<text x="361.8" y="370.4" style="font-family:'Liberation Sans',sans-serif;fill:#f4f4f4;font-size:16px">(28 February 2006 to 19 March 2006)</text>
<line x1="320.2" y1="392.3" x2="347.9" y2="392.3" stroke="#e3631c" stroke-width="4.2"/>
<line x1="320.2" y1="413.3" x2="347.9" y2="413.3" stroke="#f2ec16" stroke-width="4.2"/>
<text x="360.5" y="397.6" style="font-family:'Liberation Sans',sans-serif;fill:#f4f4f4;font-size:16px">Pipelines (142 km)</text>
<text x="360.5" y="418.3" style="font-family:'Liberation Sans',sans-serif;fill:#f4f4f4;font-size:16px">CP Surveys (29.9 km)</text>
<polyline points="205.4,375.0 216.0,392.0 226.0,408.6 237.2,423.6 255.9,446.0 270.8,468.4 278.3,479.6 289.5,509.5 292.3,515.1 282.1,514.2 276.0,516.5 272.0,522.0 269.8,532.0 269.0,547.0 268.0,636.6" fill="none" stroke="#e8560d" stroke-width="2.6" stroke-linejoin="round"/>
<line x1="267.8" y1="540" x2="267.6" y2="637" stroke="#e8560d" stroke-width="3.4"/>
<polyline points="266.2,539.4 241.9,595.5" fill="none" stroke="#e8560d" stroke-width="2.8" stroke-linejoin="round"/>
<polygon points="155.8,602.2 177.0,600.5 180.0,598.6 188.6,596.4 241.6,595.0 244.0,597.0 240.6,600.2 236.8,603.1 242.6,607.0 245.5,612.8 244.5,618.6 241.6,630.1 238.7,630.1 233.9,620.5 230.0,613.8 225.2,608.9 207.9,607.0 178.9,605.1 155.8,604.6" fill="#e8560d" stroke="#e8560d" stroke-width="0.8" stroke-linejoin="round"/>
<ellipse cx="198" cy="599.8" rx="9.5" ry="1" fill="#1b4a63"/>
<ellipse cx="222" cy="599" rx="5" ry="0.7" fill="#7a3a1a"/>
<polyline points="199.4,609.5 199.6,631.8 202,632" fill="none" stroke="#f3e41a" stroke-width="3" stroke-linecap="round" stroke-linejoin="round"/>
<line x1="199.6" y1="609" x2="259" y2="638.8" stroke="#f3e41a" stroke-width="3" stroke-linecap="round"/>
<line x1="202.5" y1="639.4" x2="259" y2="639.6" stroke="#f3e41a" stroke-width="3.8" stroke-linecap="round"/>
<rect x="319.5" y="440.2" width="299" height="201" fill="#105a80" stroke="#000" stroke-width="2.6"/>
<text x="468.5" y="472.7" text-anchor="middle" style="font-family:'Liberation Sans',sans-serif;fill:#f4f4f4;font-weight:bold;font-size:17.6px">ROV track complexity</text>
<text x="469.6" y="504.8" text-anchor="middle" style="font-family:'Liberation Sans',sans-serif;fill:#f4f4f4;font-size:17.6px">700-1300 m</text>
<text x="346.6" y="620.6" text-anchor="middle" style="font-family:'Liberation Sans',sans-serif;fill:#f4f4f4;font-size:14px">1 km</text>
<polyline points="329,623.5 329,633.7 366.3,633.7 366.3,623.5" fill="none" stroke="#f4f4f4" stroke-width="1.8"/>
<polyline points="572.3,441.0 535.5,525.0 412.0,526.9 400.0,528.5 388.0,533.0 400.0,535.0" fill="none" stroke="#d9641e" stroke-width="1.2"/>
<polyline points="592.5,441.0 596.0,615.2" fill="none" stroke="#d9641e" stroke-width="1.2"/>
<polyline points="600.8,441.0 597.2,615.2" fill="none" stroke="#d9641e" stroke-width="1.2"/>
<polyline points="336.1,540.4 485.7,541.6" fill="none" stroke="#d9641e" stroke-width="1.2"/>
<polyline points="336.1,540.4 490.4,551.0" fill="none" stroke="#d9641e" stroke-width="1.2"/>
<polyline points="336.1,540.4 470.0,546.0" fill="none" stroke="#d9641e" stroke-width="1.2"/>
<polyline points="387.2,534.5 530.8,532.1" fill="none" stroke="#d9641e" stroke-width="1.2"/>
<polyline points="384.0,537.0 500.0,540.0" fill="none" stroke="#d9641e" stroke-width="1.2"/>
<polyline points="460.0,532.0 505.0,538.0" fill="none" stroke="#d9641e" stroke-width="1.2"/>
<polyline points="480.0,538.0 530.8,600.9" fill="none" stroke="#d9641e" stroke-width="1.2"/>
<polyline points="485.0,539.0 540.3,567.7" fill="none" stroke="#d9641e" stroke-width="1.2"/>
<polyline points="486.0,540.0 537.0,590.0" fill="none" stroke="#d9641e" stroke-width="1.2"/>
<polyline points="488.0,541.0 541.0,580.0" fill="none" stroke="#d9641e" stroke-width="1.2"/>
<polyline points="484.0,541.0 533.0,595.0" fill="none" stroke="#d9641e" stroke-width="1.2"/>
<polyline points="490.0,540.0 539.0,573.0" fill="none" stroke="#d9641e" stroke-width="1.2"/>
<polyline points="482.0,542.0 528.0,596.0" fill="none" stroke="#d9641e" stroke-width="1.2"/>
<polyline points="495.0,538.0 535.0,555.0" fill="none" stroke="#d9641e" stroke-width="1.2"/>
<polyline points="500.0,545.0 540.0,562.0" fill="none" stroke="#d9641e" stroke-width="1.2"/>
<polyline points="492.0,546.0 536.0,585.0" fill="none" stroke="#d9641e" stroke-width="1.2"/>
<polyline points="478.0,545.0 525.0,600.0" fill="none" stroke="#d9641e" stroke-width="1.2"/>
<polyline points="500.0,548.0 538.0,575.0" fill="none" stroke="#d9641e" stroke-width="1.2"/>
<polyline points="520.0,548.0 530.0,553.0 540.0,552.0" fill="none" stroke="#d9641e" stroke-width="1.2"/>
<polyline points="500.0,537.0 512.0,545.0 521.0,540.0" fill="none" stroke="#d9641e" stroke-width="1.2"/>
<path d="M 487 536 l 10 12 l 8 -6 l 7 10 l 10 -4 l 5 9 l 8 -2" fill="none" stroke="#e5651c" stroke-width="1.6"/>
<path d="M 490 544 l 12 10 l 10 -6 l 8 12 l 9 -3" fill="none" stroke="#e5651c" stroke-width="1.6"/>
<polyline points="434.6,553.4 434.6,606.9 440.6,606.9" fill="none" stroke="#dde22a" stroke-width="1.8"/>
<polyline points="435.8,554.6 573.5,626.6 443,625.8" fill="none" stroke="#dde22a" stroke-width="1.8"/>
<path d="M737.7,454.3 L736.5,475 L734,500 L731,530.5" fill="none" stroke="#20648a" stroke-width="1"/>
<text x="1112.8" y="353.5" text-anchor="end" style="font-family:'Liberation Sans',sans-serif;fill:#f4f4f4;font-weight:bold;font-size:19.4px">CTD data CLIVAR Repeat</text>
<text x="1112.8" y="376.8" text-anchor="end" style="font-family:'Liberation Sans',sans-serif;fill:#f4f4f4;font-weight:bold;font-size:19.4px">Section A13.5 (2010)</text>
<text x="1112.8" y="396.2" text-anchor="end" style="font-family:'Liberation Sans',sans-serif;fill:#f4f4f4;font-size:16.2px">(08 March 2010 to 17 April 2010)</text>
<circle cx="1148" cy="348.7" r="6" fill="#b3b3b3" stroke="#000" stroke-width="1.6"/>
<circle cx="1148" cy="388.6" r="6" fill="#b3b3b3" stroke="#000" stroke-width="1.6"/>
<circle cx="1148" cy="432" r="6" fill="#b3b3b3" stroke="#000" stroke-width="1.6"/>
<circle cx="1148" cy="473.5" r="6" fill="#b3b3b3" stroke="#000" stroke-width="1.6"/>
<circle cx="1148" cy="519.4" r="6" fill="#b3b3b3" stroke="#000" stroke-width="1.6"/>
<circle cx="1148" cy="559.5" r="6" fill="#b3b3b3" stroke="#000" stroke-width="1.6"/>
<circle cx="1148" cy="601.7" r="6" fill="#b3b3b3" stroke="#000" stroke-width="1.6"/>
<circle cx="1148" cy="644.4" r="6" fill="#b3b3b3" stroke="#000" stroke-width="1.6"/>
<polyline points="934.7,620.4 934.7,639 1062.9,639 1062.9,620.4" fill="none" stroke="#f4f4f4" stroke-width="2"/>
<text x="999.6" y="627.8" text-anchor="middle" style="font-family:'Liberation Sans',sans-serif;fill:#f4f4f4;font-size:18.6px">10 km</text>
</g>
<rect x="18" y="98.5" width="1240.8" height="568.8" fill="none" stroke="#000" stroke-width="2.1"/>
<line x1="47.8" y1="84" x2="47.8" y2="98" stroke="#000" stroke-width="2"/>
<text x="47.8" y="77" text-anchor="middle" style="font-family:'Liberation Sans',sans-serif;font-size:19px;fill:#111">-4.6500</text>
<line x1="355.5" y1="84" x2="355.5" y2="98" stroke="#000" stroke-width="2"/>
<text x="355.5" y="77" text-anchor="middle" style="font-family:'Liberation Sans',sans-serif;font-size:19px;fill:#111">-4.4000</text>
<line x1="664.1" y1="84" x2="664.1" y2="98" stroke="#000" stroke-width="2"/>
<text x="664.1" y="77" text-anchor="middle" style="font-family:'Liberation Sans',sans-serif;font-size:19px;fill:#111">-4.1500</text>
<line x1="972.6" y1="84" x2="972.6" y2="98" stroke="#000" stroke-width="2"/>
<text x="972.6" y="77" text-anchor="middle" style="font-family:'Liberation Sans',sans-serif;font-size:19px;fill:#111">-3.9000</text>
<line x1="1259" y1="164.9" x2="1271.3" y2="164.9" stroke="#000" stroke-width="2"/>
<text x="1283.8" y="169.4" style="font-family:'Liberation Sans',sans-serif;font-size:19px;fill:#111">5.5500</text>
<line x1="1259" y1="325.2" x2="1271.3" y2="325.2" stroke="#000" stroke-width="2"/>
<text x="1283.8" y="329.7" style="font-family:'Liberation Sans',sans-serif;font-size:19px;fill:#111">5.2000</text>
<line x1="1259" y1="474.6" x2="1271.3" y2="474.6" stroke="#000" stroke-width="2"/>
<text x="1283.8" y="479.1" style="font-family:'Liberation Sans',sans-serif;font-size:19px;fill:#111">4.8500</text>
<line x1="1259" y1="621.2" x2="1271.3" y2="621.2" stroke="#000" stroke-width="2"/>
<text x="1283.8" y="625.7" style="font-family:'Liberation Sans',sans-serif;font-size:19px;fill:#111">4.5000</text>
<text x="0" y="23.8" style="font-family:'Liberation Sans',sans-serif;font-weight:bold;font-size:29.5px;fill:#000">A</text>
<line x1="150.5" y1="746" x2="150.5" y2="1446.5" stroke="#3c3c3c" stroke-width="1.4"/>
<line x1="144" y1="1446" x2="1231.5" y2="1446" stroke="#3c3c3c" stroke-width="1.4"/>
<line x1="144" y1="1446.0" x2="150.5" y2="1446.0" stroke="#3c3c3c" stroke-width="1.4"/>
<text x="130.6" y="1454.5" text-anchor="end" style="font-family:'Liberation Sans',sans-serif;font-size:25px;fill:#111">0</text>
<line x1="144" y1="1337.7" x2="150.5" y2="1337.7" stroke="#3c3c3c" stroke-width="1.4"/>
<text x="130.6" y="1346.2" text-anchor="end" style="font-family:'Liberation Sans',sans-serif;font-size:25px;fill:#111">5</text>
<line x1="144" y1="1229.3" x2="150.5" y2="1229.3" stroke="#3c3c3c" stroke-width="1.4"/>
<text x="130.6" y="1237.8" text-anchor="end" style="font-family:'Liberation Sans',sans-serif;font-size:25px;fill:#111">10</text>
<line x1="144" y1="1121.0" x2="150.5" y2="1121.0" stroke="#3c3c3c" stroke-width="1.4"/>
<text x="130.6" y="1129.5" text-anchor="end" style="font-family:'Liberation Sans',sans-serif;font-size:25px;fill:#111">15</text>
<line x1="144" y1="1012.6" x2="150.5" y2="1012.6" stroke="#3c3c3c" stroke-width="1.4"/>
<text x="130.6" y="1021.1" text-anchor="end" style="font-family:'Liberation Sans',sans-serif;font-size:25px;fill:#111">20</text>
<line x1="144" y1="904.2" x2="150.5" y2="904.2" stroke="#3c3c3c" stroke-width="1.4"/>
<text x="130.6" y="912.8" text-anchor="end" style="font-family:'Liberation Sans',sans-serif;font-size:25px;fill:#111">25</text>
<line x1="144" y1="795.9" x2="150.5" y2="795.9" stroke="#3c3c3c" stroke-width="1.4"/>
<text x="130.6" y="804.4" text-anchor="end" style="font-family:'Liberation Sans',sans-serif;font-size:25px;fill:#111">30</text>
<line x1="150.5" y1="1446" x2="150.5" y2="1451" stroke="#3c3c3c" stroke-width="1.4"/>
<text x="150.5" y="1487.6" text-anchor="middle" style="font-family:'Liberation Sans',sans-serif;font-size:25px;fill:#111">0</text>
<line x1="380.6" y1="1446" x2="380.6" y2="1451" stroke="#3c3c3c" stroke-width="1.4"/>
<text x="380.6" y="1487.6" text-anchor="middle" style="font-family:'Liberation Sans',sans-serif;font-size:25px;fill:#111">500</text>
<line x1="610.8" y1="1446" x2="610.8" y2="1451" stroke="#3c3c3c" stroke-width="1.4"/>
<text x="610.8" y="1487.6" text-anchor="middle" style="font-family:'Liberation Sans',sans-serif;font-size:25px;fill:#111">1000</text>
<line x1="840.9" y1="1446" x2="840.9" y2="1451" stroke="#3c3c3c" stroke-width="1.4"/>
<text x="840.9" y="1487.6" text-anchor="middle" style="font-family:'Liberation Sans',sans-serif;font-size:25px;fill:#111">1500</text>
<line x1="1071.1" y1="1446" x2="1071.1" y2="1451" stroke="#3c3c3c" stroke-width="1.4"/>
<text x="1071.1" y="1487.6" text-anchor="middle" style="font-family:'Liberation Sans',sans-serif;font-size:25px;fill:#111">2000</text>
<text x="725.7" y="1539" text-anchor="middle" style="font-family:'Liberation Sans',sans-serif;font-weight:bold;font-size:33.2px;fill:#000">Depth (m)</text>
<text transform="translate(79,1067) rotate(-90)" text-anchor="middle" style="font-family:'Liberation Sans',sans-serif;font-weight:bold;font-size:33.2px;fill:#000">Temperature (°C)</text>
<circle cx="514.5" cy="1335.9" r="4.9" class="k9"/>
<circle cx="249.5" cy="1125.3" r="4.9" class="k9"/>
<circle cx="873.1" cy="1357.6" r="4.9" class="k3"/>
<circle cx="466.4" cy="1327.6" r="4.9" class="k9"/>
<circle cx="978.6" cy="1363.6" r="4.9" class="k5"/>
<circle cx="474.3" cy="1328.6" r="4.9" class="k3"/>
<circle cx="284.0" cy="1155.6" r="4.9" class="k1"/>
<circle cx="919.8" cy="1361.6" r="4.9" class="k9"/>
<circle cx="383.5" cy="1290.3" r="4.9" class="k0"/>
<circle cx="862.8" cy="1358.1" r="4.9" class="k3"/>
<circle cx="611.2" cy="1348.4" r="4.9" class="k6"/>
<circle cx="467.8" cy="1327.4" r="4.9" class="k3"/>
<circle cx="388.1" cy="1286.5" r="4.9" class="k3"/>
<circle cx="718.2" cy="1352.1" r="4.9" class="k0"/>
<circle cx="316.5" cy="1192.5" r="4.9" class="k3"/>
<circle cx="378.8" cy="1285.5" r="4.9" class="k8"/>
<circle cx="1023.8" cy="1371.1" r="4.9" class="k2"/>
<circle cx="334.9" cy="1248.1" r="4.9" class="k8"/>
<circle cx="939.8" cy="1360.9" r="4.9" class="k3"/>
<circle cx="519.1" cy="1336.8" r="4.9" class="k3"/>
<circle cx="1111.6" cy="1375.8" r="4.9" class="k9"/>
<circle cx="312.0" cy="1236.8" r="4.9" class="k0"/>
<circle cx="347.5" cy="1272.1" r="4.9" class="k9"/>
<circle cx="885.1" cy="1360.3" r="4.9" class="k0"/>
<circle cx="312.7" cy="1228.2" r="4.9" class="k3"/>
<circle cx="447.0" cy="1316.7" r="4.9" class="k8"/>
<circle cx="1111.7" cy="1373.1" r="4.9" class="k3"/>
<circle cx="265.6" cy="1196.8" r="4.9" class="k7"/>
<circle cx="271.5" cy="1200.8" r="4.9" class="k3"/>
<circle cx="507.4" cy="1340.3" r="4.9" class="k3"/>
<circle cx="405.6" cy="1297.2" r="4.9" class="k3"/>
<circle cx="723.0" cy="1352.1" r="4.9" class="k9"/>
<circle cx="780.2" cy="1351.7" r="4.9" class="k8"/>
<circle cx="244.9" cy="1121.0" r="4.9" class="k3"/>
<circle cx="944.0" cy="1359.5" r="4.9" class="k9"/>
<circle cx="1025.4" cy="1368.6" r="4.9" class="k9"/>
<circle cx="1112.0" cy="1376.4" r="4.9" class="k3"/>
<circle cx="1069.4" cy="1371.4" r="4.9" class="k3"/>
<circle cx="341.4" cy="1260.7" r="4.9" class="k0"/>
<circle cx="449.9" cy="1315.5" r="4.9" class="k6"/>
<circle cx="288.8" cy="1193.3" r="4.9" class="k3"/>
<circle cx="1023.4" cy="1368.1" r="4.9" class="k9"/>
<circle cx="426.7" cy="1307.3" r="4.9" class="k8"/>
<circle cx="711.8" cy="1346.9" r="4.9" class="k1"/>
<circle cx="776.0" cy="1356.4" r="4.9" class="k3"/>
<circle cx="277.1" cy="1164.3" r="4.9" class="k9"/>
<circle cx="793.3" cy="1353.0" r="4.9" class="k8"/>
<circle cx="922.7" cy="1362.3" r="4.9" class="k0"/>
<circle cx="523.8" cy="1340.5" r="4.9" class="k8"/>
<circle cx="711.8" cy="1349.0" r="4.9" class="k6"/>
<circle cx="887.6" cy="1359.2" r="4.9" class="k3"/>
<circle cx="621.1" cy="1348.4" r="4.9" class="k3"/>
<circle cx="311.5" cy="1215.6" r="4.9" class="k2"/>
<circle cx="877.8" cy="1356.8" r="4.9" class="k7"/>
<circle cx="886.9" cy="1358.3" r="4.9" class="k9"/>
<circle cx="451.2" cy="1323.1" r="4.9" class="k9"/>
<circle cx="593.5" cy="1347.2" r="4.9" class="k7"/>
<circle cx="662.7" cy="1348.3" r="4.9" class="k7"/>
<circle cx="798.0" cy="1358.5" r="4.9" class="k3"/>
<circle cx="241.2" cy="1173.0" r="4.9" class="k5"/>
<circle cx="354.4" cy="1266.3" r="4.9" class="k9"/>
<circle cx="778.2" cy="1351.9" r="4.9" class="k9"/>
<circle cx="635.6" cy="1348.0" r="4.9" class="k0"/>
<circle cx="949.7" cy="1361.7" r="4.9" class="k3"/>
<circle cx="564.8" cy="1343.9" r="4.9" class="k4"/>
<circle cx="311.0" cy="1221.0" r="4.9" class="k3"/>
<circle cx="799.3" cy="1353.4" r="4.9" class="k3"/>
<circle cx="300.2" cy="1224.7" r="4.9" class="k3"/>
<circle cx="805.1" cy="1356.3" r="4.9" class="k9"/>
<circle cx="910.6" cy="1359.5" r="4.9" class="k8"/>
<circle cx="494.8" cy="1333.8" r="4.9" class="k3"/>
<circle cx="609.6" cy="1349.8" r="4.9" class="k3"/>
<circle cx="668.9" cy="1348.6" r="4.9" class="k9"/>
<circle cx="402.7" cy="1292.3" r="4.9" class="k9"/>
<circle cx="334.3" cy="1241.6" r="4.9" class="k7"/>
<circle cx="426.6" cy="1307.9" r="4.9" class="k3"/>
<circle cx="450.5" cy="1323.8" r="4.9" class="k9"/>
<circle cx="681.0" cy="1352.7" r="4.9" class="k9"/>
<circle cx="497.4" cy="1329.7" r="4.9" class="k6"/>
<circle cx="841.0" cy="1357.6" r="4.9" class="k3"/>
<circle cx="588.6" cy="1345.0" r="4.9" class="k6"/>
<circle cx="748.1" cy="1352.9" r="4.9" class="k9"/>
<circle cx="636.3" cy="1351.3" r="4.9" class="k3"/>
<circle cx="594.2" cy="1348.4" r="4.9" class="k3"/>
<circle cx="332.9" cy="1246.0" r="4.9" class="k3"/>
<circle cx="337.3" cy="1243.0" r="4.9" class="k9"/>
<circle cx="288.3" cy="1204.4" r="4.9" class="k1"/>
<circle cx="931.7" cy="1361.4" r="4.9" class="k1"/>
<circle cx="1071.9" cy="1370.1" r="4.9" class="k0"/>
<circle cx="243.0" cy="1129.8" r="4.9" class="k3"/>
<circle cx="472.1" cy="1323.3" r="4.9" class="k0"/>
<circle cx="441.3" cy="1318.5" r="4.9" class="k3"/>
<circle cx="287.5" cy="1190.6" r="4.9" class="k1"/>
<circle cx="497.8" cy="1330.6" r="4.9" class="k3"/>
<circle cx="380.2" cy="1285.2" r="4.9" class="k3"/>
<circle cx="730.6" cy="1352.7" r="4.9" class="k3"/>
<circle cx="1081.5" cy="1373.1" r="4.9" class="k3"/>
<circle cx="241.6" cy="1151.3" r="4.9" class="k9"/>
<circle cx="656.5" cy="1351.1" r="4.9" class="k9"/>
<circle cx="288.6" cy="1201.1" r="4.9" class="k2"/>
<circle cx="336.9" cy="1247.3" r="4.9" class="k9"/>
<circle cx="564.8" cy="1349.2" r="4.9" class="k3"/>
<circle cx="656.1" cy="1349.1" r="4.9" class="k9"/>
<circle cx="524.7" cy="1334.5" r="4.9" class="k9"/>
<circle cx="265.4" cy="1185.3" r="4.9" class="k0"/>
<circle cx="510.1" cy="1337.0" r="4.9" class="k1"/>
<circle cx="496.8" cy="1331.0" r="4.9" class="k9"/>
<circle cx="876.1" cy="1356.1" r="4.9" class="k9"/>
<circle cx="359.1" cy="1276.1" r="4.9" class="k6"/>
<circle cx="838.6" cy="1357.3" r="4.9" class="k0"/>
<circle cx="579.4" cy="1348.5" r="4.9" class="k9"/>
<circle cx="994.8" cy="1364.5" r="4.9" class="k0"/>
<circle cx="497.7" cy="1336.5" r="4.9" class="k9"/>
<circle cx="1095.8" cy="1374.9" r="4.9" class="k3"/>
<circle cx="402.8" cy="1299.3" r="4.9" class="k3"/>
<circle cx="917.8" cy="1361.7" r="4.9" class="k0"/>
<circle cx="395.9" cy="1293.3" r="4.9" class="k9"/>
<circle cx="383.1" cy="1291.7" r="4.9" class="k9"/>
<circle cx="261.6" cy="1150.2" r="4.9" class="k1"/>
<circle cx="934.6" cy="1362.9" r="4.9" class="k9"/>
<circle cx="888.1" cy="1357.0" r="4.9" class="k3"/>
<circle cx="910.5" cy="1359.5" r="4.9" class="k9"/>
<circle cx="324.6" cy="1240.4" r="4.9" class="k9"/>
<circle cx="288.4" cy="1205.0" r="4.9" class="k9"/>
<circle cx="527.9" cy="1345.2" r="4.9" class="k3"/>
<circle cx="1021.6" cy="1366.9" r="4.9" class="k9"/>
<circle cx="356.5" cy="1272.2" r="4.9" class="k6"/>
<circle cx="380.4" cy="1288.6" r="4.9" class="k3"/>
<circle cx="703.7" cy="1351.2" r="4.9" class="k3"/>
<circle cx="379.0" cy="1285.0" r="4.9" class="k3"/>
<circle cx="1071.7" cy="1370.0" r="4.9" class="k3"/>
<circle cx="445.4" cy="1315.7" r="4.9" class="k6"/>
<circle cx="357.6" cy="1264.3" r="4.9" class="k2"/>
<circle cx="645.7" cy="1351.0" r="4.9" class="k9"/>
<circle cx="693.0" cy="1353.1" r="4.9" class="k9"/>
<circle cx="427.0" cy="1310.0" r="4.9" class="k9"/>
<circle cx="336.0" cy="1254.4" r="4.9" class="k3"/>
<circle cx="277.1" cy="1240.1" r="4.9" class="k8"/>
<circle cx="362.8" cy="1273.4" r="4.9" class="k3"/>
<circle cx="290.3" cy="1207.6" r="4.9" class="k3"/>
<circle cx="749.2" cy="1352.1" r="4.9" class="k3"/>
<circle cx="345.4" cy="1261.9" r="4.9" class="k0"/>
<circle cx="598.2" cy="1348.0" r="4.9" class="k8"/>
<circle cx="355.0" cy="1276.1" r="4.9" class="k3"/>
<circle cx="1108.4" cy="1375.6" r="4.9" class="k1"/>
<circle cx="737.1" cy="1351.2" r="4.9" class="k3"/>
<circle cx="607.4" cy="1347.6" r="4.9" class="k8"/>
<circle cx="841.4" cy="1357.9" r="4.9" class="k3"/>
<circle cx="867.7" cy="1358.9" r="4.9" class="k9"/>
<circle cx="895.8" cy="1361.7" r="4.9" class="k3"/>
<circle cx="790.6" cy="1355.8" r="4.9" class="k3"/>
<circle cx="650.0" cy="1346.5" r="4.9" class="k2"/>
<circle cx="357.7" cy="1270.7" r="4.9" class="k9"/>
<circle cx="1024.2" cy="1368.7" r="4.9" class="k9"/>
<circle cx="243.1" cy="1162.7" r="4.9" class="k3"/>
<circle cx="406.6" cy="1294.4" r="4.9" class="k8"/>
<circle cx="238.8" cy="1134.3" r="4.9" class="k0"/>
<circle cx="311.8" cy="1246.5" r="4.9" class="k9"/>
<circle cx="702.9" cy="1351.1" r="4.9" class="k7"/>
<circle cx="1030.2" cy="1366.3" r="4.9" class="k3"/>
<circle cx="977.8" cy="1361.4" r="4.9" class="k3"/>
<circle cx="931.2" cy="1362.6" r="4.9" class="k3"/>
<circle cx="552.7" cy="1345.0" r="4.9" class="k3"/>
<circle cx="936.4" cy="1360.3" r="4.9" class="k6"/>
<circle cx="721.9" cy="1353.5" r="4.9" class="k3"/>
<circle cx="683.7" cy="1350.0" r="4.9" class="k9"/>
<circle cx="262.8" cy="1173.8" r="4.9" class="k9"/>
<circle cx="403.8" cy="1302.4" r="4.9" class="k9"/>
<circle cx="379.5" cy="1298.3" r="4.9" class="k9"/>
<circle cx="427.9" cy="1313.1" r="4.9" class="k9"/>
<circle cx="425.5" cy="1305.2" r="4.9" class="k6"/>
<circle cx="838.5" cy="1362.7" r="4.9" class="k1"/>
<circle cx="646.3" cy="1350.5" r="4.9" class="k3"/>
<circle cx="555.8" cy="1337.9" r="4.9" class="k9"/>
<circle cx="260.2" cy="1155.7" r="4.9" class="k0"/>
<circle cx="702.4" cy="1349.5" r="4.9" class="k9"/>
<circle cx="1094.1" cy="1368.0" r="4.9" class="k0"/>
<circle cx="245.3" cy="1147.8" r="4.9" class="k3"/>
<circle cx="1110.7" cy="1377.5" r="4.9" class="k9"/>
<circle cx="427.7" cy="1315.7" r="4.9" class="k8"/>
<circle cx="244.9" cy="1179.5" r="4.9" class="k5"/>
<circle cx="269.0" cy="1177.0" r="4.9" class="k4"/>
<circle cx="532.1" cy="1338.3" r="4.9" class="k3"/>
<circle cx="704.3" cy="1349.9" r="4.9" class="k3"/>
<circle cx="992.4" cy="1361.0" r="4.9" class="k9"/>
<circle cx="838.2" cy="1360.0" r="4.9" class="k3"/>
<circle cx="830.3" cy="1357.1" r="4.9" class="k9"/>
<circle cx="657.2" cy="1348.7" r="4.9" class="k3"/>
<circle cx="380.8" cy="1294.5" r="4.9" class="k1"/>
<circle cx="786.9" cy="1356.1" r="4.9" class="k9"/>
<circle cx="498.5" cy="1336.2" r="4.9" class="k9"/>
<circle cx="382.1" cy="1287.0" r="4.9" class="k3"/>
<circle cx="278.5" cy="1187.3" r="4.9" class="k3"/>
<circle cx="450.0" cy="1321.4" r="4.9" class="k6"/>
<circle cx="410.5" cy="1302.6" r="4.9" class="k3"/>
<circle cx="887.0" cy="1357.2" r="4.9" class="k8"/>
<circle cx="247.6" cy="1121.0" r="4.9" class="k3"/>
<circle cx="496.8" cy="1335.9" r="4.9" class="k9"/>
<circle cx="400.5" cy="1295.9" r="4.9" class="k1"/>
<circle cx="380.6" cy="1290.5" r="4.9" class="k7"/>
<circle cx="314.4" cy="1243.4" r="4.9" class="k6"/>
<circle cx="524.1" cy="1336.3" r="4.9" class="k9"/>
<circle cx="242.6" cy="1170.8" r="4.9" class="k0"/>
<circle cx="954.5" cy="1363.8" r="4.9" class="k9"/>
<circle cx="766.8" cy="1350.6" r="4.9" class="k3"/>
<circle cx="657.4" cy="1350.3" r="4.9" class="k3"/>
<circle cx="266.5" cy="1151.5" r="4.9" class="k0"/>
<circle cx="357.4" cy="1271.1" r="4.9" class="k4"/>
<circle cx="241.1" cy="1121.0" r="4.9" class="k9"/>
<circle cx="471.2" cy="1327.3" r="4.9" class="k5"/>
<circle cx="693.3" cy="1352.4" r="4.9" class="k3"/>
<circle cx="655.9" cy="1345.3" r="4.9" class="k4"/>
<circle cx="728.5" cy="1354.5" r="4.9" class="k7"/>
<circle cx="1070.0" cy="1371.3" r="4.9" class="k5"/>
<circle cx="877.2" cy="1360.6" r="4.9" class="k3"/>
<circle cx="653.9" cy="1348.1" r="4.9" class="k3"/>
<circle cx="376.0" cy="1266.1" r="4.9" class="k6"/>
<circle cx="660.3" cy="1350.1" r="4.9" class="k9"/>
<circle cx="963.9" cy="1364.2" r="4.9" class="k9"/>
<circle cx="381.6" cy="1287.9" r="4.9" class="k1"/>
<circle cx="960.0" cy="1364.0" r="4.9" class="k6"/>
<circle cx="332.0" cy="1245.1" r="4.9" class="k7"/>
<circle cx="373.7" cy="1309.5" r="4.9" class="k8"/>
<circle cx="1094.5" cy="1371.6" r="4.9" class="k7"/>
<circle cx="450.4" cy="1319.6" r="4.9" class="k3"/>
<circle cx="619.8" cy="1351.0" r="4.9" class="k1"/>
<circle cx="725.9" cy="1350.1" r="4.9" class="k3"/>
<circle cx="436.1" cy="1315.0" r="4.9" class="k8"/>
<circle cx="1084.3" cy="1368.8" r="4.9" class="k2"/>
<circle cx="590.0" cy="1351.8" r="4.9" class="k0"/>
<circle cx="496.0" cy="1336.2" r="4.9" class="k3"/>
<circle cx="335.3" cy="1242.2" r="4.9" class="k3"/>
<circle cx="357.1" cy="1277.4" r="4.9" class="k6"/>
<circle cx="377.6" cy="1292.5" r="4.9" class="k9"/>
<circle cx="933.1" cy="1358.1" r="4.9" class="k9"/>
<circle cx="553.7" cy="1344.4" r="4.9" class="k1"/>
<circle cx="243.0" cy="1134.4" r="4.9" class="k3"/>
<circle cx="888.7" cy="1359.4" r="4.9" class="k7"/>
<circle cx="273.4" cy="1168.5" r="4.9" class="k9"/>
<circle cx="518.2" cy="1334.4" r="4.9" class="k3"/>
<circle cx="449.6" cy="1319.6" r="4.9" class="k9"/>
<circle cx="336.6" cy="1255.1" r="4.9" class="k3"/>
<circle cx="465.5" cy="1325.9" r="4.9" class="k2"/>
<circle cx="379.5" cy="1293.8" r="4.9" class="k1"/>
<circle cx="372.1" cy="1290.3" r="4.9" class="k3"/>
<circle cx="313.2" cy="1235.9" r="4.9" class="k2"/>
<circle cx="867.8" cy="1359.4" r="4.9" class="k9"/>
<circle cx="886.3" cy="1357.2" r="4.9" class="k3"/>
<circle cx="403.5" cy="1307.8" r="4.9" class="k3"/>
<circle cx="812.3" cy="1357.3" r="4.9" class="k3"/>
<circle cx="296.8" cy="1211.8" r="4.9" class="k9"/>
<circle cx="271.4" cy="1182.7" r="4.9" class="k9"/>
<circle cx="401.0" cy="1291.8" r="4.9" class="k9"/>
<circle cx="565.1" cy="1345.8" r="4.9" class="k9"/>
<circle cx="449.8" cy="1317.2" r="4.9" class="k3"/>
<circle cx="1069.8" cy="1368.4" r="4.9" class="k5"/>
<circle cx="1038.8" cy="1365.7" r="4.9" class="k0"/>
<circle cx="839.0" cy="1356.5" r="4.9" class="k7"/>
<circle cx="841.6" cy="1357.0" r="4.9" class="k9"/>
<circle cx="451.8" cy="1316.6" r="4.9" class="k7"/>
<circle cx="1056.5" cy="1368.3" r="4.9" class="k3"/>
<circle cx="509.5" cy="1336.9" r="4.9" class="k9"/>
<circle cx="863.9" cy="1360.8" r="4.9" class="k6"/>
<circle cx="1071.2" cy="1372.1" r="4.9" class="k2"/>
<circle cx="488.8" cy="1318.1" r="4.9" class="k6"/>
<circle cx="1084.9" cy="1371.2" r="4.9" class="k4"/>
<circle cx="427.4" cy="1313.9" r="4.9" class="k6"/>
<circle cx="886.4" cy="1358.5" r="4.9" class="k9"/>
<circle cx="471.7" cy="1326.3" r="4.9" class="k3"/>
<circle cx="840.4" cy="1357.1" r="4.9" class="k3"/>
<circle cx="496.7" cy="1335.0" r="4.9" class="k3"/>
<circle cx="403.7" cy="1296.6" r="4.9" class="k2"/>
<circle cx="839.4" cy="1359.4" r="4.9" class="k3"/>
<circle cx="703.8" cy="1350.9" r="4.9" class="k3"/>
<circle cx="934.3" cy="1359.9" r="4.9" class="k9"/>
<circle cx="333.2" cy="1271.2" r="4.9" class="k1"/>
<circle cx="242.1" cy="1132.7" r="4.9" class="k1"/>
<circle cx="336.6" cy="1255.6" r="4.9" class="k6"/>
<circle cx="377.8" cy="1283.9" r="4.9" class="k3"/>
<circle cx="673.2" cy="1350.9" r="4.9" class="k4"/>
<circle cx="711.7" cy="1351.7" r="4.9" class="k8"/>
<circle cx="610.7" cy="1348.5" r="4.9" class="k6"/>
<circle cx="553.0" cy="1345.7" r="4.9" class="k1"/>
<circle cx="612.0" cy="1350.4" r="4.9" class="k3"/>
<circle cx="450.5" cy="1320.1" r="4.9" class="k9"/>
<circle cx="522.6" cy="1345.3" r="4.9" class="k4"/>
<circle cx="426.2" cy="1304.9" r="4.9" class="k0"/>
<circle cx="289.9" cy="1216.6" r="4.9" class="k2"/>
<circle cx="656.2" cy="1351.8" r="4.9" class="k3"/>
<circle cx="1110.2" cy="1374.5" r="4.9" class="k2"/>
<circle cx="749.6" cy="1355.0" r="4.9" class="k9"/>
<circle cx="978.5" cy="1361.7" r="4.9" class="k7"/>
<circle cx="494.7" cy="1327.9" r="4.9" class="k0"/>
<circle cx="721.8" cy="1348.6" r="4.9" class="k2"/>
<circle cx="311.3" cy="1229.7" r="4.9" class="k6"/>
<circle cx="806.7" cy="1355.6" r="4.9" class="k9"/>
<circle cx="427.3" cy="1314.2" r="4.9" class="k6"/>
<circle cx="609.0" cy="1348.5" r="4.9" class="k9"/>
<circle cx="1109.4" cy="1377.8" r="4.9" class="k3"/>
<circle cx="315.4" cy="1249.0" r="4.9" class="k9"/>
<circle cx="259.8" cy="1159.1" r="4.9" class="k0"/>
<circle cx="772.3" cy="1350.9" r="4.9" class="k9"/>
<circle cx="518.0" cy="1340.4" r="4.9" class="k0"/>
<circle cx="1068.9" cy="1369.8" r="4.9" class="k7"/>
<circle cx="984.9" cy="1363.7" r="4.9" class="k6"/>
<circle cx="373.9" cy="1280.8" r="4.9" class="k9"/>
<circle cx="673.9" cy="1348.4" r="4.9" class="k9"/>
<circle cx="335.1" cy="1256.3" r="4.9" class="k3"/>
<circle cx="355.4" cy="1273.2" r="4.9" class="k1"/>
<circle cx="1112.8" cy="1373.6" r="4.9" class="k9"/>
<circle cx="494.7" cy="1332.5" r="4.9" class="k0"/>
<circle cx="243.8" cy="1121.0" r="4.9" class="k9"/>
<circle cx="633.9" cy="1348.2" r="4.9" class="k7"/>
<circle cx="381.4" cy="1284.0" r="4.9" class="k6"/>
<circle cx="303.7" cy="1224.5" r="4.9" class="k9"/>
<circle cx="923.6" cy="1362.1" r="4.9" class="k9"/>
<circle cx="794.9" cy="1353.7" r="4.9" class="k0"/>
<circle cx="272.5" cy="1191.8" r="4.9" class="k3"/>
<circle cx="335.2" cy="1249.8" r="4.9" class="k9"/>
<circle cx="403.6" cy="1296.0" r="4.9" class="k9"/>
<circle cx="840.9" cy="1355.2" r="4.9" class="k7"/>
<circle cx="702.3" cy="1357.3" r="4.9" class="k9"/>
<circle cx="884.6" cy="1357.5" r="4.9" class="k9"/>
<circle cx="749.2" cy="1354.6" r="4.9" class="k3"/>
<circle cx="249.7" cy="1167.7" r="4.9" class="k9"/>
<circle cx="645.6" cy="1347.3" r="4.9" class="k3"/>
<circle cx="426.7" cy="1306.9" r="4.9" class="k1"/>
<circle cx="264.7" cy="1139.0" r="4.9" class="k3"/>
<circle cx="594.0" cy="1346.8" r="4.9" class="k0"/>
<circle cx="884.7" cy="1359.7" r="4.9" class="k3"/>
<circle cx="524.0" cy="1336.9" r="4.9" class="k3"/>
<circle cx="259.1" cy="1167.1" r="4.9" class="k6"/>
<circle cx="287.4" cy="1186.0" r="4.9" class="k9"/>
<circle cx="470.6" cy="1326.1" r="4.9" class="k9"/>
<circle cx="936.0" cy="1360.0" r="4.9" class="k3"/>
<circle cx="584.3" cy="1350.9" r="4.9" class="k3"/>
<circle cx="520.6" cy="1342.9" r="4.9" class="k3"/>
<circle cx="652.6" cy="1351.4" r="4.9" class="k3"/>
<circle cx="740.2" cy="1350.6" r="4.9" class="k3"/>
<circle cx="361.8" cy="1279.7" r="4.9" class="k9"/>
<circle cx="338.5" cy="1255.7" r="4.9" class="k9"/>
<circle cx="977.6" cy="1365.0" r="4.9" class="k7"/>
<circle cx="414.9" cy="1304.0" r="4.9" class="k9"/>
<circle cx="323.3" cy="1238.8" r="4.9" class="k9"/>
<circle cx="495.6" cy="1331.0" r="4.9" class="k1"/>
<circle cx="887.0" cy="1359.3" r="4.9" class="k9"/>
<circle cx="473.6" cy="1328.5" r="4.9" class="k7"/>
<circle cx="749.0" cy="1356.3" r="4.9" class="k7"/>
<circle cx="659.1" cy="1347.9" r="4.9" class="k7"/>
<circle cx="923.6" cy="1361.0" r="4.9" class="k9"/>
<circle cx="534.0" cy="1344.7" r="4.9" class="k9"/>
<circle cx="242.2" cy="1126.7" r="4.9" class="k9"/>
<circle cx="841.7" cy="1354.6" r="4.9" class="k6"/>
<circle cx="452.2" cy="1322.7" r="4.9" class="k8"/>
<circle cx="472.7" cy="1326.2" r="4.9" class="k3"/>
<circle cx="695.4" cy="1354.2" r="4.9" class="k7"/>
<circle cx="794.3" cy="1352.7" r="4.9" class="k9"/>
<circle cx="610.6" cy="1349.1" r="4.9" class="k3"/>
<circle cx="289.2" cy="1216.0" r="4.9" class="k3"/>
<circle cx="662.3" cy="1353.1" r="4.9" class="k5"/>
<circle cx="274.8" cy="1178.2" r="4.9" class="k0"/>
<circle cx="412.6" cy="1306.4" r="4.9" class="k1"/>
<circle cx="1113.5" cy="1376.2" r="4.9" class="k9"/>
<circle cx="563.4" cy="1346.2" r="4.9" class="k3"/>
<circle cx="265.3" cy="1149.4" r="4.9" class="k9"/>
<circle cx="266.6" cy="1155.9" r="4.9" class="k9"/>
<circle cx="933.4" cy="1360.0" r="4.9" class="k3"/>
<circle cx="445.1" cy="1324.6" r="4.9" class="k0"/>
<circle cx="310.3" cy="1229.3" r="4.9" class="k0"/>
<circle cx="995.6" cy="1363.3" r="4.9" class="k3"/>
<circle cx="263.8" cy="1167.1" r="4.9" class="k1"/>
<circle cx="402.9" cy="1289.1" r="4.9" class="k3"/>
<circle cx="516.6" cy="1339.6" r="4.9" class="k0"/>
<circle cx="1092.5" cy="1374.8" r="4.9" class="k2"/>
<circle cx="936.5" cy="1363.3" r="4.9" class="k3"/>
<circle cx="1071.5" cy="1370.0" r="4.9" class="k1"/>
<circle cx="425.2" cy="1327.1" r="4.9" class="k3"/>
<circle cx="260.6" cy="1175.6" r="4.9" class="k1"/>
<circle cx="852.7" cy="1356.8" r="4.9" class="k7"/>
<circle cx="404.5" cy="1298.8" r="4.9" class="k3"/>
<circle cx="244.1" cy="1130.8" r="4.9" class="k0"/>
<circle cx="978.8" cy="1363.5" r="4.9" class="k7"/>
<circle cx="279.7" cy="1207.6" r="4.9" class="k1"/>
<circle cx="621.0" cy="1349.6" r="4.9" class="k9"/>
<circle cx="518.1" cy="1336.0" r="4.9" class="k9"/>
<circle cx="519.8" cy="1339.0" r="4.9" class="k9"/>
<circle cx="544.1" cy="1339.6" r="4.9" class="k7"/>
<circle cx="519.4" cy="1339.3" r="4.9" class="k5"/>
<circle cx="749.4" cy="1353.7" r="4.9" class="k3"/>
<circle cx="871.9" cy="1356.8" r="4.9" class="k1"/>
<circle cx="294.3" cy="1203.6" r="4.9" class="k9"/>
<circle cx="440.5" cy="1326.8" r="4.9" class="k0"/>
<circle cx="447.4" cy="1316.0" r="4.9" class="k7"/>
<circle cx="444.4" cy="1313.1" r="4.9" class="k9"/>
<circle cx="1091.1" cy="1370.3" r="4.9" class="k9"/>
<circle cx="1111.4" cy="1371.6" r="4.9" class="k3"/>
<circle cx="459.8" cy="1322.4" r="4.9" class="k3"/>
<circle cx="240.3" cy="1137.1" r="4.9" class="k9"/>
<circle cx="472.0" cy="1331.8" r="4.9" class="k3"/>
<circle cx="983.0" cy="1363.6" r="4.9" class="k7"/>
<circle cx="542.1" cy="1340.6" r="4.9" class="k1"/>
<circle cx="793.7" cy="1355.2" r="4.9" class="k9"/>
<circle cx="272.5" cy="1155.6" r="4.9" class="k9"/>
<circle cx="708.0" cy="1350.6" r="4.9" class="k9"/>
<circle cx="417.4" cy="1316.3" r="4.9" class="k1"/>
<circle cx="651.0" cy="1349.7" r="4.9" class="k9"/>
<circle cx="473.3" cy="1325.7" r="4.9" class="k9"/>
<circle cx="794.5" cy="1353.1" r="4.9" class="k9"/>
<circle cx="426.5" cy="1305.9" r="4.9" class="k3"/>
<circle cx="495.4" cy="1330.7" r="4.9" class="k3"/>
<circle cx="249.9" cy="1169.4" r="4.9" class="k9"/>
<circle cx="515.5" cy="1342.7" r="4.9" class="k3"/>
<circle cx="1061.6" cy="1370.5" r="4.9" class="k3"/>
<circle cx="395.6" cy="1299.3" r="4.9" class="k3"/>
<circle cx="748.4" cy="1350.5" r="4.9" class="k0"/>
<circle cx="381.9" cy="1281.6" r="4.9" class="k9"/>
<circle cx="267.4" cy="1204.4" r="4.9" class="k5"/>
<circle cx="288.6" cy="1199.8" r="4.9" class="k3"/>
<circle cx="805.5" cy="1354.2" r="4.9" class="k4"/>
<circle cx="866.3" cy="1356.3" r="4.9" class="k9"/>
<circle cx="1027.3" cy="1368.3" r="4.9" class="k3"/>
<circle cx="678.4" cy="1349.8" r="4.9" class="k2"/>
<circle cx="1071.4" cy="1367.4" r="4.9" class="k7"/>
<circle cx="482.5" cy="1326.6" r="4.9" class="k9"/>
<circle cx="288.0" cy="1207.6" r="4.9" class="k8"/>
<circle cx="244.9" cy="1186.0" r="4.9" class="k5"/>
<circle cx="876.4" cy="1356.0" r="4.9" class="k6"/>
<circle cx="993.9" cy="1365.6" r="4.9" class="k3"/>
<circle cx="324.4" cy="1268.2" r="4.9" class="k8"/>
<circle cx="289.1" cy="1230.0" r="4.9" class="k9"/>
<circle cx="241.2" cy="1194.6" r="4.9" class="k6"/>
<circle cx="591.5" cy="1349.7" r="4.9" class="k2"/>
<circle cx="607.4" cy="1349.0" r="4.9" class="k6"/>
<circle cx="793.8" cy="1355.0" r="4.9" class="k9"/>
<circle cx="798.2" cy="1359.0" r="4.9" class="k3"/>
<circle cx="703.3" cy="1350.4" r="4.9" class="k9"/>
<circle cx="380.6" cy="1311.6" r="4.9" class="k4"/>
<circle cx="1109.4" cy="1373.1" r="4.9" class="k3"/>
<circle cx="482.5" cy="1333.7" r="4.9" class="k7"/>
<circle cx="364.9" cy="1280.0" r="4.9" class="k9"/>
<circle cx="794.9" cy="1358.2" r="4.9" class="k7"/>
<circle cx="821.1" cy="1354.2" r="4.9" class="k3"/>
<circle cx="401.7" cy="1303.2" r="4.9" class="k1"/>
<circle cx="357.8" cy="1285.6" r="4.9" class="k4"/>
<circle cx="244.1" cy="1128.7" r="4.9" class="k3"/>
<circle cx="610.4" cy="1351.7" r="4.9" class="k9"/>
<circle cx="749.7" cy="1351.4" r="4.9" class="k9"/>
<circle cx="362.3" cy="1265.2" r="4.9" class="k2"/>
<circle cx="422.7" cy="1314.8" r="4.9" class="k0"/>
<circle cx="307.4" cy="1223.2" r="4.9" class="k9"/>
<circle cx="311.1" cy="1219.8" r="4.9" class="k9"/>
<circle cx="324.5" cy="1274.8" r="4.9" class="k2"/>
<circle cx="289.1" cy="1194.6" r="4.9" class="k3"/>
<circle cx="472.6" cy="1329.6" r="4.9" class="k9"/>
<circle cx="263.0" cy="1206.7" r="4.9" class="k9"/>
<circle cx="241.7" cy="1147.5" r="4.9" class="k6"/>
<circle cx="1094.7" cy="1369.8" r="4.9" class="k5"/>
<circle cx="987.6" cy="1360.7" r="4.9" class="k9"/>
<circle cx="257.4" cy="1169.2" r="4.9" class="k3"/>
<circle cx="609.1" cy="1348.2" r="4.9" class="k0"/>
<circle cx="840.6" cy="1359.0" r="4.9" class="k3"/>
<circle cx="406.2" cy="1295.7" r="4.9" class="k5"/>
<circle cx="884.7" cy="1357.8" r="4.9" class="k3"/>
<circle cx="655.1" cy="1351.7" r="4.9" class="k6"/>
<circle cx="724.3" cy="1352.6" r="4.9" class="k0"/>
<circle cx="311.9" cy="1258.1" r="4.9" class="k9"/>
<circle cx="322.7" cy="1242.5" r="4.9" class="k7"/>
<circle cx="1071.1" cy="1367.2" r="4.9" class="k9"/>
<circle cx="910.0" cy="1361.5" r="4.9" class="k1"/>
<circle cx="1078.6" cy="1370.1" r="4.9" class="k3"/>
<circle cx="376.5" cy="1284.4" r="4.9" class="k9"/>
<circle cx="403.6" cy="1296.3" r="4.9" class="k6"/>
<circle cx="886.7" cy="1357.9" r="4.9" class="k9"/>
<circle cx="265.4" cy="1180.4" r="4.9" class="k9"/>
<circle cx="335.1" cy="1226.4" r="4.9" class="k9"/>
<circle cx="474.9" cy="1323.5" r="4.9" class="k3"/>
<circle cx="1073.7" cy="1371.7" r="4.9" class="k9"/>
<circle cx="879.1" cy="1357.0" r="4.9" class="k7"/>
<circle cx="235.3" cy="1126.0" r="4.9" class="k6"/>
<circle cx="1025.4" cy="1368.4" r="4.9" class="k5"/>
<circle cx="241.2" cy="1181.6" r="4.9" class="k5"/>
<circle cx="978.4" cy="1363.4" r="4.9" class="k1"/>
<circle cx="320.8" cy="1229.3" r="4.9" class="k0"/>
<circle cx="567.3" cy="1347.2" r="4.9" class="k9"/>
<circle cx="645.2" cy="1350.0" r="4.9" class="k6"/>
<circle cx="519.3" cy="1336.9" r="4.9" class="k1"/>
<circle cx="319.7" cy="1248.4" r="4.9" class="k3"/>
<circle cx="656.9" cy="1348.6" r="4.9" class="k9"/>
<circle cx="358.4" cy="1265.2" r="4.9" class="k9"/>
<circle cx="1035.3" cy="1366.9" r="4.9" class="k9"/>
<circle cx="377.8" cy="1291.2" r="4.9" class="k9"/>
<circle cx="497.3" cy="1334.1" r="4.9" class="k5"/>
<circle cx="335.5" cy="1257.6" r="4.9" class="k1"/>
<circle cx="440.2" cy="1315.8" r="4.9" class="k5"/>
<circle cx="951.0" cy="1362.3" r="4.9" class="k7"/>
<circle cx="1101.4" cy="1373.6" r="4.9" class="k2"/>
<circle cx="832.4" cy="1360.9" r="4.9" class="k6"/>
<circle cx="334.6" cy="1259.3" r="4.9" class="k3"/>
<circle cx="897.8" cy="1359.8" r="4.9" class="k7"/>
<circle cx="393.4" cy="1294.4" r="4.9" class="k6"/>
<circle cx="1076.4" cy="1366.8" r="4.9" class="k1"/>
<circle cx="336.0" cy="1256.1" r="4.9" class="k9"/>
<circle cx="1110.4" cy="1376.3" r="4.9" class="k8"/>
<circle cx="876.2" cy="1360.4" r="4.9" class="k7"/>
<circle cx="241.9" cy="1151.7" r="4.9" class="k3"/>
<circle cx="1072.9" cy="1370.2" r="4.9" class="k3"/>
<circle cx="322.0" cy="1250.6" r="4.9" class="k0"/>
<circle cx="375.1" cy="1292.0" r="4.9" class="k9"/>
<circle cx="336.7" cy="1257.4" r="4.9" class="k3"/>
<circle cx="724.4" cy="1350.1" r="4.9" class="k3"/>
<circle cx="610.1" cy="1350.2" r="4.9" class="k1"/>
<circle cx="801.2" cy="1357.1" r="4.9" class="k0"/>
<circle cx="355.9" cy="1260.1" r="4.9" class="k9"/>
<circle cx="290.5" cy="1184.5" r="4.9" class="k9"/>
<circle cx="277.1" cy="1181.6" r="4.9" class="k0"/>
<circle cx="566.0" cy="1347.3" r="4.9" class="k7"/>
<circle cx="314.3" cy="1235.6" r="4.9" class="k9"/>
<circle cx="411.3" cy="1301.8" r="4.9" class="k9"/>
<circle cx="886.6" cy="1357.4" r="4.9" class="k7"/>
<circle cx="979.3" cy="1365.8" r="4.9" class="k2"/>
<circle cx="1040.5" cy="1368.1" r="4.9" class="k7"/>
<circle cx="703.8" cy="1353.7" r="4.9" class="k0"/>
<circle cx="460.3" cy="1326.1" r="4.9" class="k0"/>
<circle cx="240.3" cy="1121.0" r="4.9" class="k1"/>
<circle cx="481.9" cy="1318.1" r="4.9" class="k6"/>
<circle cx="357.9" cy="1279.0" r="4.9" class="k7"/>
<circle cx="402.2" cy="1289.2" r="4.9" class="k9"/>
<circle cx="887.5" cy="1360.0" r="4.9" class="k7"/>
<circle cx="298.6" cy="1237.4" r="4.9" class="k9"/>
<circle cx="795.5" cy="1354.0" r="4.9" class="k4"/>
<circle cx="282.2" cy="1189.1" r="4.9" class="k9"/>
<circle cx="932.7" cy="1360.0" r="4.9" class="k3"/>
<circle cx="611.0" cy="1350.3" r="4.9" class="k9"/>
<circle cx="859.6" cy="1358.9" r="4.9" class="k0"/>
<circle cx="888.1" cy="1361.0" r="4.9" class="k2"/>
<circle cx="841.3" cy="1358.2" r="4.9" class="k3"/>
<circle cx="517.3" cy="1337.7" r="4.9" class="k8"/>
<circle cx="976.6" cy="1360.1" r="4.9" class="k1"/>
<circle cx="565.8" cy="1345.4" r="4.9" class="k9"/>
<circle cx="933.0" cy="1359.3" r="4.9" class="k6"/>
<circle cx="658.0" cy="1350.3" r="4.9" class="k9"/>
<circle cx="337.9" cy="1255.9" r="4.9" class="k9"/>
<circle cx="856.4" cy="1354.2" r="4.9" class="k3"/>
<circle cx="336.9" cy="1290.0" r="4.9" class="k4"/>
<circle cx="241.2" cy="1164.3" r="4.9" class="k6"/>
<circle cx="748.8" cy="1348.7" r="4.9" class="k9"/>
<circle cx="266.3" cy="1178.1" r="4.9" class="k3"/>
<circle cx="610.9" cy="1343.9" r="4.9" class="k9"/>
<circle cx="1111.8" cy="1374.3" r="4.9" class="k3"/>
<circle cx="832.7" cy="1356.2" r="4.9" class="k9"/>
<circle cx="1111.8" cy="1370.8" r="4.9" class="k9"/>
<circle cx="373.7" cy="1255.3" r="4.9" class="k8"/>
<circle cx="341.9" cy="1249.3" r="4.9" class="k7"/>
<circle cx="1051.7" cy="1370.1" r="4.9" class="k0"/>
<circle cx="592.7" cy="1345.9" r="4.9" class="k1"/>
<circle cx="643.1" cy="1352.2" r="4.9" class="k3"/>
<circle cx="335.5" cy="1247.7" r="4.9" class="k7"/>
<circle cx="381.5" cy="1286.8" r="4.9" class="k0"/>
<circle cx="987.7" cy="1368.8" r="4.9" class="k3"/>
<circle cx="981.0" cy="1362.2" r="4.9" class="k9"/>
<circle cx="885.5" cy="1359.4" r="4.9" class="k3"/>
<circle cx="936.9" cy="1362.8" r="4.9" class="k9"/>
<circle cx="245.3" cy="1125.0" r="4.9" class="k8"/>
<circle cx="294.1" cy="1225.9" r="4.9" class="k3"/>
<circle cx="608.7" cy="1349.3" r="4.9" class="k9"/>
<circle cx="415.9" cy="1288.4" r="4.9" class="k9"/>
<circle cx="909.7" cy="1361.9" r="4.9" class="k6"/>
<circle cx="702.9" cy="1350.5" r="4.9" class="k3"/>
<circle cx="1070.7" cy="1369.2" r="4.9" class="k3"/>
<circle cx="266.0" cy="1172.2" r="4.9" class="k4"/>
<circle cx="1005.0" cy="1365.5" r="4.9" class="k9"/>
<circle cx="471.2" cy="1330.1" r="4.9" class="k1"/>
<circle cx="495.5" cy="1332.1" r="4.9" class="k3"/>
<circle cx="447.1" cy="1318.9" r="4.9" class="k9"/>
<circle cx="1111.2" cy="1372.5" r="4.9" class="k0"/>
<circle cx="745.7" cy="1351.6" r="4.9" class="k2"/>
<circle cx="497.6" cy="1334.2" r="4.9" class="k3"/>
<circle cx="522.5" cy="1337.4" r="4.9" class="k6"/>
<circle cx="565.9" cy="1344.3" r="4.9" class="k8"/>
<circle cx="863.1" cy="1355.9" r="4.9" class="k1"/>
<circle cx="1007.3" cy="1361.6" r="4.9" class="k0"/>
<circle cx="270.4" cy="1178.8" r="4.9" class="k3"/>
<circle cx="404.7" cy="1299.7" r="4.9" class="k0"/>
<circle cx="425.9" cy="1309.4" r="4.9" class="k4"/>
<circle cx="1057.6" cy="1369.0" r="4.9" class="k9"/>
<circle cx="1069.5" cy="1371.8" r="4.9" class="k9"/>
<circle cx="1050.4" cy="1369.0" r="4.9" class="k8"/>
<circle cx="658.1" cy="1349.6" r="4.9" class="k3"/>
<circle cx="925.1" cy="1361.8" r="4.9" class="k9"/>
<circle cx="837.2" cy="1359.3" r="4.9" class="k8"/>
<circle cx="381.3" cy="1274.0" r="4.9" class="k3"/>
<circle cx="352.2" cy="1271.7" r="4.9" class="k9"/>
<circle cx="239.8" cy="1121.0" r="4.9" class="k9"/>
<circle cx="242.9" cy="1146.6" r="4.9" class="k7"/>
<circle cx="244.9" cy="1188.1" r="4.9" class="k6"/>
<circle cx="428.2" cy="1317.0" r="4.9" class="k9"/>
<circle cx="796.6" cy="1351.2" r="4.9" class="k7"/>
<circle cx="969.4" cy="1364.5" r="4.9" class="k3"/>
<circle cx="969.4" cy="1367.5" r="4.9" class="k9"/>
<circle cx="463.3" cy="1327.9" r="4.9" class="k9"/>
<circle cx="838.4" cy="1357.2" r="4.9" class="k9"/>
<circle cx="397.0" cy="1290.6" r="4.9" class="k3"/>
<circle cx="748.6" cy="1354.0" r="4.9" class="k3"/>
<circle cx="453.2" cy="1320.7" r="4.9" class="k9"/>
<circle cx="930.8" cy="1359.0" r="4.9" class="k9"/>
<circle cx="286.8" cy="1175.7" r="4.9" class="k9"/>
<circle cx="1014.6" cy="1367.7" r="4.9" class="k9"/>
<circle cx="748.1" cy="1350.9" r="4.9" class="k3"/>
<circle cx="656.7" cy="1352.3" r="4.9" class="k3"/>
<circle cx="1026.2" cy="1366.7" r="4.9" class="k9"/>
<circle cx="619.1" cy="1352.7" r="4.9" class="k9"/>
<circle cx="448.3" cy="1322.5" r="4.9" class="k9"/>
<circle cx="671.8" cy="1350.0" r="4.9" class="k9"/>
<circle cx="311.0" cy="1222.5" r="4.9" class="k3"/>
<circle cx="450.3" cy="1318.9" r="4.9" class="k8"/>
<circle cx="1071.1" cy="1370.6" r="4.9" class="k9"/>
<circle cx="785.5" cy="1352.3" r="4.9" class="k7"/>
<circle cx="1096.4" cy="1371.2" r="4.9" class="k0"/>
<circle cx="1092.9" cy="1372.8" r="4.9" class="k7"/>
<circle cx="356.4" cy="1275.1" r="4.9" class="k6"/>
<circle cx="793.3" cy="1358.0" r="4.9" class="k0"/>
<circle cx="449.7" cy="1324.5" r="4.9" class="k9"/>
<circle cx="566.1" cy="1346.0" r="4.9" class="k9"/>
<circle cx="449.7" cy="1323.5" r="4.9" class="k6"/>
<circle cx="264.4" cy="1190.6" r="4.9" class="k7"/>
<circle cx="360.0" cy="1283.9" r="4.9" class="k3"/>
<circle cx="472.4" cy="1328.4" r="4.9" class="k9"/>
<circle cx="1026.3" cy="1364.5" r="4.9" class="k9"/>
<circle cx="1071.0" cy="1368.4" r="4.9" class="k9"/>
<circle cx="314.3" cy="1234.4" r="4.9" class="k9"/>
<circle cx="934.7" cy="1360.7" r="4.9" class="k9"/>
<circle cx="970.0" cy="1360.9" r="4.9" class="k5"/>
<circle cx="977.2" cy="1362.2" r="4.9" class="k3"/>
<circle cx="267.1" cy="1166.0" r="4.9" class="k2"/>
<circle cx="241.3" cy="1143.7" r="4.9" class="k3"/>
<circle cx="1091.6" cy="1374.2" r="4.9" class="k9"/>
<circle cx="522.8" cy="1334.9" r="4.9" class="k9"/>
<circle cx="800.7" cy="1354.3" r="4.9" class="k2"/>
<circle cx="493.7" cy="1338.1" r="4.9" class="k1"/>
<circle cx="261.3" cy="1173.7" r="4.9" class="k3"/>
<circle cx="241.6" cy="1140.5" r="4.9" class="k9"/>
<circle cx="1012.2" cy="1365.7" r="4.9" class="k6"/>
<circle cx="695.3" cy="1349.1" r="4.9" class="k1"/>
<circle cx="356.7" cy="1272.2" r="4.9" class="k3"/>
<circle cx="241.6" cy="1162.1" r="4.9" class="k9"/>
<circle cx="337.1" cy="1244.4" r="4.9" class="k1"/>
<circle cx="429.2" cy="1312.8" r="4.9" class="k3"/>
<circle cx="497.4" cy="1337.5" r="4.9" class="k3"/>
<circle cx="382.8" cy="1298.7" r="4.9" class="k3"/>
<circle cx="425.2" cy="1303.9" r="4.9" class="k7"/>
<circle cx="289.3" cy="1179.7" r="4.9" class="k1"/>
<circle cx="241.0" cy="1121.0" r="4.9" class="k1"/>
<circle cx="265.9" cy="1162.9" r="4.9" class="k9"/>
<circle cx="981.9" cy="1369.0" r="4.9" class="k9"/>
<circle cx="978.5" cy="1363.2" r="4.9" class="k3"/>
<circle cx="564.8" cy="1344.9" r="4.9" class="k2"/>
<circle cx="266.3" cy="1158.0" r="4.9" class="k3"/>
<circle cx="330.1" cy="1235.2" r="4.9" class="k1"/>
<circle cx="420.2" cy="1322.2" r="4.9" class="k6"/>
<circle cx="241.1" cy="1143.2" r="4.9" class="k9"/>
<circle cx="363.8" cy="1278.1" r="4.9" class="k5"/>
<circle cx="989.6" cy="1363.0" r="4.9" class="k0"/>
<circle cx="796.8" cy="1352.0" r="4.9" class="k3"/>
<circle cx="516.7" cy="1343.3" r="4.9" class="k9"/>
<circle cx="242.9" cy="1121.0" r="4.9" class="k9"/>
<circle cx="425.7" cy="1311.7" r="4.9" class="k9"/>
<circle cx="920.7" cy="1359.3" r="4.9" class="k9"/>
<circle cx="452.9" cy="1320.0" r="4.9" class="k3"/>
<circle cx="841.3" cy="1355.2" r="4.9" class="k9"/>
<circle cx="407.8" cy="1297.1" r="4.9" class="k4"/>
<circle cx="312.6" cy="1222.4" r="4.9" class="k3"/>
<circle cx="943.8" cy="1360.9" r="4.9" class="k9"/>
<circle cx="425.6" cy="1306.9" r="4.9" class="k0"/>
<circle cx="312.5" cy="1251.0" r="4.9" class="k3"/>
<circle cx="701.9" cy="1349.3" r="4.9" class="k3"/>
<circle cx="520.1" cy="1340.8" r="4.9" class="k3"/>
<circle cx="900.7" cy="1359.7" r="4.9" class="k3"/>
<circle cx="246.8" cy="1151.7" r="4.9" class="k2"/>
<circle cx="989.3" cy="1366.4" r="4.9" class="k7"/>
<circle cx="841.5" cy="1362.5" r="4.9" class="k1"/>
<circle cx="796.0" cy="1353.7" r="4.9" class="k9"/>
<circle cx="564.7" cy="1341.6" r="4.9" class="k9"/>
<circle cx="951.8" cy="1358.7" r="4.9" class="k9"/>
<circle cx="590.4" cy="1349.9" r="4.9" class="k3"/>
<circle cx="310.1" cy="1224.1" r="4.9" class="k1"/>
<circle cx="610.8" cy="1346.1" r="4.9" class="k9"/>
<circle cx="266.4" cy="1178.3" r="4.9" class="k9"/>
<circle cx="657.1" cy="1349.5" r="4.9" class="k0"/>
<circle cx="794.5" cy="1356.5" r="4.9" class="k3"/>
<circle cx="253.1" cy="1173.7" r="4.9" class="k3"/>
<circle cx="473.7" cy="1326.8" r="4.9" class="k9"/>
<circle cx="265.3" cy="1171.4" r="4.9" class="k9"/>
<circle cx="1102.3" cy="1368.6" r="4.9" class="k0"/>
<circle cx="745.5" cy="1351.0" r="4.9" class="k9"/>
<circle cx="793.9" cy="1354.5" r="4.9" class="k9"/>
<circle cx="497.0" cy="1336.3" r="4.9" class="k0"/>
<circle cx="978.0" cy="1363.5" r="4.9" class="k9"/>
<circle cx="281.1" cy="1197.3" r="4.9" class="k2"/>
<circle cx="334.9" cy="1257.9" r="4.9" class="k9"/>
<circle cx="739.8" cy="1351.3" r="4.9" class="k3"/>
<circle cx="340.1" cy="1225.0" r="4.9" class="k6"/>
<circle cx="454.3" cy="1307.3" r="4.9" class="k8"/>
<circle cx="1094.7" cy="1369.7" r="4.9" class="k3"/>
<circle cx="597.1" cy="1347.4" r="4.9" class="k9"/>
<circle cx="1053.3" cy="1369.1" r="4.9" class="k7"/>
<circle cx="495.7" cy="1340.0" r="4.9" class="k1"/>
<circle cx="255.4" cy="1173.0" r="4.9" class="k4"/>
<circle cx="358.7" cy="1275.3" r="4.9" class="k5"/>
<circle cx="392.1" cy="1297.5" r="4.9" class="k6"/>
<circle cx="518.6" cy="1341.9" r="4.9" class="k9"/>
<circle cx="333.9" cy="1253.5" r="4.9" class="k0"/>
<circle cx="1074.5" cy="1366.4" r="4.9" class="k7"/>
<circle cx="949.3" cy="1363.2" r="4.9" class="k1"/>
<circle cx="357.6" cy="1274.7" r="4.9" class="k3"/>
<circle cx="251.5" cy="1130.7" r="4.9" class="k9"/>
<circle cx="748.3" cy="1350.6" r="4.9" class="k9"/>
<circle cx="934.3" cy="1358.4" r="4.9" class="k3"/>
<circle cx="885.9" cy="1357.8" r="4.9" class="k1"/>
<circle cx="241.6" cy="1121.0" r="4.9" class="k9"/>
<circle cx="333.0" cy="1276.5" r="4.9" class="k9"/>
<circle cx="736.3" cy="1349.5" r="4.9" class="k9"/>
<circle cx="475.9" cy="1329.6" r="4.9" class="k0"/>
<circle cx="932.7" cy="1358.9" r="4.9" class="k9"/>
<circle cx="339.2" cy="1231.5" r="4.9" class="k6"/>
<circle cx="792.2" cy="1355.6" r="4.9" class="k9"/>
<circle cx="379.7" cy="1289.3" r="4.9" class="k3"/>
<circle cx="272.9" cy="1175.5" r="4.9" class="k3"/>
<circle cx="868.8" cy="1361.0" r="4.9" class="k9"/>
<circle cx="959.8" cy="1362.5" r="4.9" class="k6"/>
<circle cx="245.2" cy="1129.7" r="4.9" class="k3"/>
<circle cx="565.4" cy="1347.0" r="4.9" class="k3"/>
<circle cx="426.4" cy="1294.1" r="4.9" class="k9"/>
<circle cx="448.8" cy="1324.0" r="4.9" class="k3"/>
<circle cx="1071.7" cy="1370.6" r="4.9" class="k3"/>
<circle cx="655.1" cy="1354.0" r="4.9" class="k1"/>
<circle cx="700.8" cy="1346.7" r="4.9" class="k1"/>
<circle cx="1114.3" cy="1373.9" r="4.9" class="k9"/>
<circle cx="392.5" cy="1301.9" r="4.9" class="k9"/>
<circle cx="289.7" cy="1198.6" r="4.9" class="k9"/>
<circle cx="978.6" cy="1363.6" r="4.9" class="k7"/>
<circle cx="241.6" cy="1129.6" r="4.9" class="k9"/>
<circle cx="1025.2" cy="1368.3" r="4.9" class="k6"/>
<circle cx="790.9" cy="1350.5" r="4.9" class="k4"/>
<circle cx="310.4" cy="1260.9" r="4.9" class="k4"/>
<circle cx="1023.9" cy="1367.4" r="4.9" class="k0"/>
<circle cx="390.2" cy="1288.1" r="4.9" class="k3"/>
<circle cx="1082.9" cy="1368.5" r="4.9" class="k9"/>
<circle cx="619.2" cy="1348.3" r="4.9" class="k9"/>
<circle cx="1070.9" cy="1370.3" r="4.9" class="k0"/>
<circle cx="704.0" cy="1353.9" r="4.9" class="k3"/>
<circle cx="396.4" cy="1284.1" r="4.9" class="k7"/>
<circle cx="765.2" cy="1354.1" r="4.9" class="k3"/>
<circle cx="306.1" cy="1212.8" r="4.9" class="k9"/>
<circle cx="1069.2" cy="1367.7" r="4.9" class="k3"/>
<circle cx="933.9" cy="1361.6" r="4.9" class="k1"/>
<circle cx="334.9" cy="1255.6" r="4.9" class="k9"/>
<circle cx="900.5" cy="1360.1" r="4.9" class="k9"/>
<circle cx="450.0" cy="1319.6" r="4.9" class="k3"/>
<circle cx="654.5" cy="1347.3" r="4.9" class="k9"/>
<circle cx="842.0" cy="1359.5" r="4.9" class="k3"/>
<circle cx="1091.0" cy="1373.4" r="4.9" class="k1"/>
<circle cx="382.4" cy="1279.8" r="4.9" class="k9"/>
<circle cx="436.7" cy="1316.1" r="4.9" class="k2"/>
<circle cx="301.1" cy="1242.9" r="4.9" class="k2"/>
<circle cx="899.2" cy="1359.7" r="4.9" class="k9"/>
<circle cx="382.4" cy="1296.3" r="4.9" class="k8"/>
<circle cx="518.4" cy="1337.2" r="4.9" class="k3"/>
<circle cx="381.1" cy="1287.1" r="4.9" class="k4"/>
<circle cx="611.8" cy="1351.1" r="4.9" class="k1"/>
<circle cx="288.8" cy="1185.2" r="4.9" class="k7"/>
<circle cx="863.7" cy="1357.9" r="4.9" class="k2"/>
<circle cx="427.2" cy="1307.3" r="4.9" class="k0"/>
<circle cx="1026.5" cy="1368.6" r="4.9" class="k6"/>
<circle cx="251.5" cy="1146.2" r="4.9" class="k9"/>
<circle cx="1043.4" cy="1369.9" r="4.9" class="k9"/>
<circle cx="613.1" cy="1349.3" r="4.9" class="k9"/>
<circle cx="1094.1" cy="1371.9" r="4.9" class="k7"/>
<circle cx="748.3" cy="1350.2" r="4.9" class="k9"/>
<circle cx="924.6" cy="1362.3" r="4.9" class="k3"/>
<circle cx="336.8" cy="1261.4" r="4.9" class="k5"/>
<circle cx="273.9" cy="1216.3" r="4.9" class="k9"/>
<circle cx="306.3" cy="1219.3" r="4.9" class="k9"/>
<circle cx="795.2" cy="1353.1" r="4.9" class="k3"/>
<circle cx="450.7" cy="1322.3" r="4.9" class="k3"/>
<circle cx="771.8" cy="1353.2" r="4.9" class="k9"/>
<circle cx="383.0" cy="1285.6" r="4.9" class="k6"/>
<circle cx="449.4" cy="1320.4" r="4.9" class="k9"/>
<circle cx="314.9" cy="1232.8" r="4.9" class="k1"/>
<circle cx="288.6" cy="1188.1" r="4.9" class="k3"/>
<circle cx="945.3" cy="1364.0" r="4.9" class="k2"/>
<circle cx="936.3" cy="1363.9" r="4.9" class="k7"/>
<circle cx="703.1" cy="1350.9" r="4.9" class="k3"/>
<circle cx="264.1" cy="1177.2" r="4.9" class="k5"/>
<circle cx="655.3" cy="1353.8" r="4.9" class="k3"/>
<circle cx="1025.9" cy="1368.1" r="4.9" class="k3"/>
<circle cx="1042.1" cy="1366.2" r="4.9" class="k3"/>
<circle cx="472.6" cy="1328.7" r="4.9" class="k3"/>
<circle cx="1025.4" cy="1366.4" r="4.9" class="k9"/>
<circle cx="241.3" cy="1142.2" r="4.9" class="k9"/>
<circle cx="935.6" cy="1360.5" r="4.9" class="k1"/>
<circle cx="1096.3" cy="1369.0" r="4.9" class="k3"/>
<circle cx="1050.5" cy="1367.7" r="4.9" class="k1"/>
<circle cx="506.3" cy="1338.5" r="4.9" class="k6"/>
<circle cx="1087.4" cy="1370.5" r="4.9" class="k9"/>
<circle cx="1026.7" cy="1364.0" r="4.9" class="k3"/>
<circle cx="642.0" cy="1349.0" r="4.9" class="k9"/>
<circle cx="959.5" cy="1365.5" r="4.9" class="k9"/>
<circle cx="1092.7" cy="1372.5" r="4.9" class="k3"/>
<circle cx="470.2" cy="1325.1" r="4.9" class="k9"/>
<circle cx="566.0" cy="1349.4" r="4.9" class="k9"/>
<circle cx="289.6" cy="1194.5" r="4.9" class="k0"/>
<rect x="152.4" y="811.9" class="sq"/>
<rect x="149.2" y="811.2" class="sq"/>
<rect x="164.6" y="812.4" class="sq"/>
<rect x="152.8" y="819.8" class="sq"/>
<rect x="160.2" y="825.9" class="sq"/>
<rect x="152.4" y="836.9" class="sq"/>
<rect x="150.9" y="866.8" class="sq"/>
<rect x="159.5" y="866.8" class="sq"/>
<rect x="162.6" y="873.2" class="sq"/>
<rect x="150.9" y="873.2" class="sq"/>
<rect x="150.9" y="879.1" class="sq"/>
<rect x="157.7" y="938.6" class="sq"/>
<rect x="158.2" y="941.7" class="sq"/>
<rect x="173.7" y="965.5" class="sq"/>
<rect x="170.7" y="973.6" class="sq"/>
<rect x="165.6" y="1018.2" class="sq"/>
<rect x="170.0" y="1031.7" class="sq"/>
<rect x="171.9" y="1037.3" class="sq"/>
<rect x="168.8" y="1041.4" class="sq"/>
<rect x="160.2" y="1045.1" class="sq"/>
<rect x="169.3" y="1050.5" class="sq"/>
<rect x="177.3" y="1060.5" class="sq"/>
<rect x="170.0" y="1074.5" class="sq"/>
<rect x="178.6" y="1075.7" class="sq"/>
<rect x="185.9" y="1078.2" class="sq"/>
<rect x="172.4" y="1088.0" class="sq"/>
<rect x="181.0" y="1086.7" class="sq"/>
<rect x="188.4" y="1085.5" class="sq"/>
<rect x="190.8" y="1090.4" class="sq"/>
<rect x="194.5" y="1094.1" class="sq"/>
<rect x="182.2" y="1094.1" class="sq"/>
<rect x="183.5" y="1101.4" class="sq"/>
<rect x="188.4" y="1101.4" class="sq"/>
<rect x="194.5" y="1105.1" class="sq"/>
<rect x="182.2" y="1107.6" class="sq"/>
<rect x="194.5" y="1108.8" class="sq"/>
<rect x="206.7" y="1116.1" class="sq"/>
<rect x="211.6" y="1118.6" class="sq"/>
<rect x="214.1" y="1121.0" class="sq"/>
<rect x="220.2" y="1118.6" class="sq"/>
<rect x="227.5" y="1123.5" class="sq"/>
<rect x="215.3" y="1124.7" class="sq"/>
<rect x="193.7" y="1134.5" class="sq"/>
<rect x="205.5" y="1135.7" class="sq"/>
<rect x="217.0" y="1138.2" class="sq"/>
<rect x="228.8" y="1133.3" class="sq"/>
<rect x="248.4" y="1130.8" class="sq"/>
<rect x="325.9" y="1238.9" class="sq"/>
<rect x="390.0" y="1290.0" class="sq"/>
<rect x="424.0" y="1304.9" class="sq"/>
<rect x="558.9" y="1340.9" class="sq"/>
<rect x="331.5" y="1252.0" class="sq"/>
<rect x="272.3" y="1181.1" class="sq"/>
<rect x="469.5" y="1318.9" class="sq"/>
<rect x="688.3" y="1346.0" class="sq"/>
<rect x="701.8" y="1346.1" class="sq"/>
<rect x="375.2" y="1279.1" class="sq"/>
<rect x="519.2" y="1335.0" class="sq"/>
<rect x="459.4" y="1321.8" class="sq"/>
<rect x="619.7" y="1344.8" class="sq"/>
<rect x="516.5" y="1340.1" class="sq"/>
<rect x="373.7" y="1285.5" class="sq"/>
<rect x="247.7" y="1146.1" class="sq"/>
<rect x="324.2" y="1236.3" class="sq"/>
<rect x="314.1" y="1223.9" class="sq"/>
<rect x="398.4" y="1297.3" class="sq"/>
<rect x="405.3" y="1298.0" class="sq"/>
<rect x="287.2" y="1188.5" class="sq"/>
<rect x="595.3" y="1346.0" class="sq"/>
<rect x="451.4" y="1317.4" class="sq"/>
<rect x="309.4" y="1226.4" class="sq"/>
<rect x="419.9" y="1304.6" class="sq"/>
<rect x="516.7" y="1334.4" class="sq"/>
<rect x="429.9" y="1310.4" class="sq"/>
<rect x="658.7" y="1346.8" class="sq"/>
<rect x="273.6" y="1177.7" class="sq"/>
<rect x="403.0" y="1301.4" class="sq"/>
<rect x="561.8" y="1341.6" class="sq"/>
<rect x="552.0" y="1340.4" class="sq"/>
<rect x="658.5" y="1346.1" class="sq"/>
<rect x="285.9" y="1187.7" class="sq"/>
<rect x="344.6" y="1256.3" class="sq"/>
<rect x="496.4" y="1328.7" class="sq"/>
<rect x="385.6" y="1289.3" class="sq"/>
<rect x="260.7" y="1150.9" class="sq"/>
<rect x="352.8" y="1261.3" class="sq"/>
<rect x="503.9" y="1332.6" class="sq"/>
<rect x="745.0" y="1345.4" class="sq"/>
<rect x="493.1" y="1332.0" class="sq"/>
<rect x="345.0" y="1257.0" class="sq"/>
<rect x="264.9" y="1163.1" class="sq"/>
<rect x="633.1" y="1345.6" class="sq"/>
<rect x="606.4" y="1345.3" class="sq"/>
<rect x="277.9" y="1176.0" class="sq"/>
<rect x="750.9" y="1345.2" class="sq"/>
<rect x="435.5" y="1312.6" class="sq"/>
<rect x="511.7" y="1334.4" class="sq"/>
<rect x="291.8" y="1203.1" class="sq"/>
<rect x="346.9" y="1265.1" class="sq"/>
<rect x="623.8" y="1347.1" class="sq"/>
<rect x="649.8" y="1345.8" class="sq"/>
<rect x="272.4" y="1176.1" class="sq"/>
<rect x="333.6" y="1247.1" class="sq"/>
<rect x="622.6" y="1344.6" class="sq"/>
<rect x="276.7" y="1175.4" class="sq"/>
<rect x="614.9" y="1345.4" class="sq"/>
<rect x="382.3" y="1288.8" class="sq"/>
<rect x="712.4" y="1346.4" class="sq"/>
<rect x="631.4" y="1345.6" class="sq"/>
<rect x="303.6" y="1220.7" class="sq"/>
<rect x="636.5" y="1345.4" class="sq"/>
<rect x="621.1" y="1344.3" class="sq"/>
<rect x="574.5" y="1340.4" class="sq"/>
<rect x="586.9" y="1343.7" class="sq"/>
<rect x="683.4" y="1346.1" class="sq"/>
<rect x="259.1" y="1163.3" class="sq"/>
<rect x="270.8" y="1173.5" class="sq"/>
<rect x="529.7" y="1332.0" class="sq"/>
<rect x="263.7" y="1158.2" class="sq"/>
<rect x="406.1" y="1301.8" class="sq"/>
<rect x="735.4" y="1345.9" class="sq"/>
<rect x="518.6" y="1334.0" class="sq"/>
<rect x="622.1" y="1346.2" class="sq"/>
<rect x="472.8" y="1324.7" class="sq"/>
<rect x="375.2" y="1274.1" class="sq"/>
<rect x="264.6" y="1175.6" class="sq"/>
<rect x="571.3" y="1342.1" class="sq"/>
<rect x="310.9" y="1231.8" class="sq"/>
<rect x="715.9" y="1345.5" class="sq"/>
<rect x="481.6" y="1327.4" class="sq"/>
<rect x="557.7" y="1344.8" class="sq"/>
<rect x="545.4" y="1335.3" class="sq"/>
<rect x="639.1" y="1344.7" class="sq"/>
<rect x="610.2" y="1344.2" class="sq"/>
<rect x="521.2" y="1337.0" class="sq"/>
<rect x="507.3" y="1330.2" class="sq"/>
<rect x="713.4" y="1347.5" class="sq"/>
<rect x="688.4" y="1344.7" class="sq"/>
<rect x="420.7" y="1304.5" class="sq"/>
<rect x="542.3" y="1338.6" class="sq"/>
<rect x="412.8" y="1304.2" class="sq"/>
<rect x="722.0" y="1346.4" class="sq"/>
<rect x="633.2" y="1343.7" class="sq"/>
<rect x="562.1" y="1340.8" class="sq"/>
<rect x="376.1" y="1288.7" class="sq"/>
<rect x="374.0" y="1295.8" class="sq"/>
<rect x="682.0" y="1347.7" class="sq"/>
<rect x="462.0" y="1322.7" class="sq"/>
<rect x="302.6" y="1212.6" class="sq"/>
<rect x="498.7" y="1328.6" class="sq"/>
<rect x="457.1" y="1318.0" class="sq"/>
<rect x="257.3" y="1165.9" class="sq"/>
<rect x="321.0" y="1218.5" class="sq"/>
<rect x="688.4" y="1347.3" class="sq"/>
<rect x="346.0" y="1256.0" class="sq"/>
<rect x="334.2" y="1254.6" class="sq"/>
<rect x="692.4" y="1347.0" class="sq"/>
<rect x="418.1" y="1305.2" class="sq"/>
<rect x="312.1" y="1222.9" class="sq"/>
<rect x="399.1" y="1293.1" class="sq"/>
<rect x="729.1" y="1348.7" class="sq"/>
<rect x="378.0" y="1288.2" class="sq"/>
<rect x="632.6" y="1343.3" class="sq"/>
<rect x="531.4" y="1332.9" class="sq"/>
<rect x="418.8" y="1310.1" class="sq"/>
<rect x="249.7" y="1145.1" class="sq"/>
<rect x="348.0" y="1264.5" class="sq"/>
<rect x="509.2" y="1335.4" class="sq"/>
<rect x="569.2" y="1343.8" class="sq"/>
<rect x="743.0" y="1347.1" class="sq"/>
<rect x="563.6" y="1343.6" class="sq"/>
<rect x="297.9" y="1209.0" class="sq"/>
<rect x="431.5" y="1312.1" class="sq"/>
<rect x="482.3" y="1328.5" class="sq"/>
<rect x="371.8" y="1276.9" class="sq"/>
<rect x="376.4" y="1286.0" class="sq"/>
<rect x="716.0" y="1348.1" class="sq"/>
<rect x="642.6" y="1344.0" class="sq"/>
<rect x="471.3" y="1322.6" class="sq"/>
<rect x="577.6" y="1340.8" class="sq"/>
<rect x="687.6" y="1345.9" class="sq"/>
<rect x="291.1" y="1203.8" class="sq"/>
<rect x="481.3" y="1325.7" class="sq"/>
<rect x="305.4" y="1224.4" class="sq"/>
<rect x="722.0" y="1347.3" class="sq"/>
<rect x="465.7" y="1316.0" class="sq"/>
<rect x="360.1" y="1271.5" class="sq"/>
<rect x="321.1" y="1229.4" class="sq"/>
<rect x="750.6" y="1347.6" class="sq"/>
<rect x="314.8" y="1244.8" class="sq"/>
<rect x="542.5" y="1342.9" class="sq"/>
<rect x="346.0" y="1260.2" class="sq"/>
<rect x="500.2" y="1331.8" class="sq"/>
<rect x="427.2" y="1303.0" class="sq"/>
<rect x="549.1" y="1336.9" class="sq"/>
<rect x="471.1" y="1321.5" class="sq"/>
<rect x="696.0" y="1346.4" class="sq"/>
<rect x="385.6" y="1287.8" class="sq"/>
<rect x="262.9" y="1168.8" class="sq"/>
<rect x="491.8" y="1328.1" class="sq"/>
<rect x="641.9" y="1345.9" class="sq"/>
<rect x="267.9" y="1171.6" class="sq"/>
<rect x="572.0" y="1341.3" class="sq"/>
<rect x="698.7" y="1348.8" class="sq"/>
<rect x="624.9" y="1346.6" class="sq"/>
<rect x="403.3" y="1298.1" class="sq"/>
<rect x="689.4" y="1347.0" class="sq"/>
<rect x="461.6" y="1325.1" class="sq"/>
<rect x="424.9" y="1311.7" class="sq"/>
<rect x="572.1" y="1343.1" class="sq"/>
<rect x="634.0" y="1344.6" class="sq"/>
<rect x="460.5" y="1315.9" class="sq"/>
<rect x="540.1" y="1334.7" class="sq"/>
<rect x="475.5" y="1326.6" class="sq"/>
<rect x="690.1" y="1345.8" class="sq"/>
<rect x="261.3" y="1161.5" class="sq"/>
<rect x="561.1" y="1340.3" class="sq"/>
<rect x="664.9" y="1346.3" class="sq"/>
<rect x="419.1" y="1304.4" class="sq"/>
<rect x="591.7" y="1345.7" class="sq"/>
<rect x="666.8" y="1344.7" class="sq"/>
<rect x="292.0" y="1201.9" class="sq"/>
<rect x="566.0" y="1357.2" class="sq"/>
<rect x="566.0" y="1363.7" class="sq"/>
<rect x="627.2" y="1335.5" class="sq"/>
<rect x="627.2" y="1339.9" class="sq"/>
<rect x="752.0" y="1335.5" class="sq"/>
<rect x="153" y="1196" width="100" height="240" fill="#fff"/>
<circle cx="169.4" cy="1207.1" r="3.8" fill="#000000" stroke="#222" stroke-width="0.7"/>
<text x="199.6" y="1212.8" style="font-family:'Liberation Sans',sans-serif;font-size:16.5px;fill:#222;letter-spacing:1px">1973</text>
<circle cx="169.4" cy="1228.7" r="3.8" fill="#e0141c" stroke="#222" stroke-width="0.7"/>
<text x="199.6" y="1234.4" style="font-family:'Liberation Sans',sans-serif;font-size:16.5px;fill:#222;letter-spacing:1px">1983</text>
<circle cx="169.4" cy="1250.3" r="3.8" fill="#1414d2" stroke="#222" stroke-width="0.7"/>
<text x="199.6" y="1256.0" style="font-family:'Liberation Sans',sans-serif;font-size:16.5px;fill:#222;letter-spacing:1px">1987</text>
<circle cx="169.4" cy="1272.0" r="3.8" fill="#c3c21c" stroke="#222" stroke-width="0.7"/>
<text x="199.6" y="1277.7" style="font-family:'Liberation Sans',sans-serif;font-size:16.5px;fill:#222;letter-spacing:1px">1988</text>
<circle cx="169.4" cy="1293.6" r="3.8" fill="#e01ee0" stroke="#222" stroke-width="0.7"/>
<text x="199.6" y="1299.3" style="font-family:'Liberation Sans',sans-serif;font-size:16.5px;fill:#222;letter-spacing:1px">1991</text>
<circle cx="169.4" cy="1315.2" r="3.8" fill="#2ee2ea" stroke="#222" stroke-width="0.7"/>
<text x="199.6" y="1320.9" style="font-family:'Liberation Sans',sans-serif;font-size:16.5px;fill:#222;letter-spacing:1px">1993</text>
<circle cx="169.4" cy="1336.8" r="3.8" fill="#e8e8e8" stroke="#222" stroke-width="0.7"/>
<text x="199.6" y="1342.5" style="font-family:'Liberation Sans',sans-serif;font-size:16.5px;fill:#222;letter-spacing:1px">1995</text>
<circle cx="169.4" cy="1358.4" r="3.8" fill="#000000" stroke="#222" stroke-width="0.7"/>
<text x="199.6" y="1364.1" style="font-family:'Liberation Sans',sans-serif;font-size:16.5px;fill:#222;letter-spacing:1px">1999</text>
<circle cx="169.4" cy="1380.1" r="3.8" fill="#22e222" stroke="#222" stroke-width="0.7"/>
<text x="199.6" y="1385.8" style="font-family:'Liberation Sans',sans-serif;font-size:16.5px;fill:#222;letter-spacing:1px">2000</text>
<circle cx="169.4" cy="1401.7" r="3.8" fill="#f5861f" stroke="#222" stroke-width="0.7"/>
<text x="199.6" y="1407.4" style="font-family:'Liberation Sans',sans-serif;font-size:16.5px;fill:#222;letter-spacing:1px">2010</text>
<rect x="165.8" y="1418.9" width="7.2" height="7.2" fill="#c4c4c4" stroke="#333" stroke-width="0.8"/>
<text x="198.1" y="1431" style="font-family:'Liberation Sans',sans-serif;font-weight:bold;font-size:19.2px;fill:#111">ROV data (2006)</text>
<line x1="150.5" y1="1196" x2="150.5" y2="1446.5" stroke="#3c3c3c" stroke-width="1.4"/>
<rect x="312" y="745" width="425" height="310" fill="#fff"/>
<line x1="311.5" y1="744.6" x2="311.5" y2="1056.5" stroke="#8a8a8a" stroke-width="1.3"/>
<line x1="311" y1="1055.9" x2="733" y2="1055.9" stroke="#8a8a8a" stroke-width="1.3"/>
<line x1="308.5" y1="1055.9" x2="311.5" y2="1055.9" stroke="#8a8a8a" stroke-width="1.2"/>
<text x="304.5" y="1059.9" text-anchor="end" style="font-family:'Liberation Sans',sans-serif;font-size:11.5px;fill:#444">34.4</text>
<line x1="308.5" y1="1010.5" x2="311.5" y2="1010.5" stroke="#8a8a8a" stroke-width="1.2"/>
<text x="304.5" y="1014.5" text-anchor="end" style="font-family:'Liberation Sans',sans-serif;font-size:11.5px;fill:#444">34.6</text>
<line x1="308.5" y1="965.1" x2="311.5" y2="965.1" stroke="#8a8a8a" stroke-width="1.2"/>
<text x="304.5" y="969.1" text-anchor="end" style="font-family:'Liberation Sans',sans-serif;font-size:11.5px;fill:#444">34.8</text>
<line x1="308.5" y1="919.8" x2="311.5" y2="919.8" stroke="#8a8a8a" stroke-width="1.2"/>
<text x="304.5" y="923.8" text-anchor="end" style="font-family:'Liberation Sans',sans-serif;font-size:11.5px;fill:#444">35.0</text>
<line x1="308.5" y1="874.4" x2="311.5" y2="874.4" stroke="#8a8a8a" stroke-width="1.2"/>
<text x="304.5" y="878.4" text-anchor="end" style="font-family:'Liberation Sans',sans-serif;font-size:11.5px;fill:#444">35.2</text>
<line x1="308.5" y1="829.0" x2="311.5" y2="829.0" stroke="#8a8a8a" stroke-width="1.2"/>
<text x="304.5" y="833.0" text-anchor="end" style="font-family:'Liberation Sans',sans-serif;font-size:11.5px;fill:#444">35.4</text>
<line x1="308.5" y1="783.6" x2="311.5" y2="783.6" stroke="#8a8a8a" stroke-width="1.2"/>
<text x="304.5" y="787.6" text-anchor="end" style="font-family:'Liberation Sans',sans-serif;font-size:11.5px;fill:#444">35.6</text>
<line x1="311.5" y1="1055.9" x2="311.5" y2="1059" stroke="#8a8a8a" stroke-width="1.2"/>
<text x="311.5" y="1074" text-anchor="middle" style="font-family:'Liberation Sans',sans-serif;font-size:11.5px;fill:#444">0</text>
<line x1="407.2" y1="1055.9" x2="407.2" y2="1059" stroke="#8a8a8a" stroke-width="1.2"/>
<text x="407.2" y="1074" text-anchor="middle" style="font-family:'Liberation Sans',sans-serif;font-size:11.5px;fill:#444">500</text>
<line x1="502.9" y1="1055.9" x2="502.9" y2="1059" stroke="#8a8a8a" stroke-width="1.2"/>
<text x="502.9" y="1074" text-anchor="middle" style="font-family:'Liberation Sans',sans-serif;font-size:11.5px;fill:#444">1000</text>
<line x1="598.6" y1="1055.9" x2="598.6" y2="1059" stroke="#8a8a8a" stroke-width="1.2"/>
<text x="598.6" y="1074" text-anchor="middle" style="font-family:'Liberation Sans',sans-serif;font-size:11.5px;fill:#444">1500</text>
<line x1="694.3" y1="1055.9" x2="694.3" y2="1059" stroke="#8a8a8a" stroke-width="1.2"/>
<text x="694.3" y="1074" text-anchor="middle" style="font-family:'Liberation Sans',sans-serif;font-size:11.5px;fill:#444">2000</text>
<text x="552" y="1095" text-anchor="middle" style="font-family:'Liberation Sans',sans-serif;font-weight:bold;font-size:13.5px;fill:#222">Depth (m)</text>
<text transform="translate(272.5,896.5) rotate(-90)" text-anchor="middle" style="font-family:'Liberation Sans',sans-serif;font-weight:bold;font-size:13.5px;fill:#222">Salinity (psu)</text>
<circle cx="445.4" cy="1016.0" r="2.3" class="s4"/>
<circle cx="473.7" cy="1020.5" r="2.3" class="s9"/>
<circle cx="523.5" cy="975.9" r="2.3" class="s3"/>
<circle cx="388.3" cy="944.5" r="2.3" class="s9"/>
<circle cx="579.6" cy="938.5" r="2.3" class="s0"/>
<circle cx="541.7" cy="971.0" r="2.3" class="s6"/>
<circle cx="397.4" cy="982.3" r="2.3" class="s8"/>
<circle cx="598.7" cy="937.5" r="2.3" class="s9"/>
<circle cx="350.2" cy="826.7" r="2.3" class="s9"/>
<circle cx="484.1" cy="1029.9" r="2.3" class="s3"/>
<circle cx="410.3" cy="994.3" r="2.3" class="s1"/>
<circle cx="601.4" cy="931.9" r="2.3" class="s3"/>
<circle cx="636.1" cy="926.1" r="2.3" class="s8"/>
<circle cx="387.0" cy="952.6" r="2.3" class="s9"/>
<circle cx="656.2" cy="927.1" r="2.3" class="s6"/>
<circle cx="615.9" cy="927.7" r="2.3" class="s9"/>
<circle cx="475.0" cy="1023.2" r="2.3" class="s9"/>
<circle cx="436.0" cy="1029.9" r="2.3" class="s6"/>
<circle cx="512.2" cy="1010.0" r="2.3" class="s1"/>
<circle cx="436.6" cy="1032.9" r="2.3" class="s9"/>
<circle cx="407.3" cy="1015.9" r="2.3" class="s9"/>
<circle cx="661.5" cy="930.3" r="2.3" class="s9"/>
<circle cx="541.7" cy="968.9" r="2.3" class="s0"/>
<circle cx="651.7" cy="925.0" r="2.3" class="s3"/>
<circle cx="352.8" cy="828.5" r="2.3" class="s9"/>
<circle cx="454.6" cy="1036.6" r="2.3" class="s9"/>
<circle cx="707.7" cy="928.2" r="2.3" class="s9"/>
<circle cx="674.9" cy="927.6" r="2.3" class="s3"/>
<circle cx="521.5" cy="984.1" r="2.3" class="s3"/>
<circle cx="503.1" cy="1020.1" r="2.3" class="s8"/>
<circle cx="388.1" cy="973.9" r="2.3" class="s6"/>
<circle cx="445.7" cy="1013.5" r="2.3" class="s6"/>
<circle cx="349.9" cy="844.7" r="2.3" class="s9"/>
<circle cx="348.8" cy="892.5" r="2.3" class="s5"/>
<circle cx="397.7" cy="974.0" r="2.3" class="s7"/>
<circle cx="640.4" cy="926.7" r="2.3" class="s0"/>
<circle cx="640.4" cy="928.7" r="2.3" class="s1"/>
<circle cx="369.8" cy="887.2" r="2.3" class="s8"/>
<circle cx="602.1" cy="929.6" r="2.3" class="s9"/>
<circle cx="475.2" cy="1027.3" r="2.3" class="s1"/>
<circle cx="687.2" cy="930.1" r="2.3" class="s9"/>
<circle cx="646.4" cy="926.0" r="2.3" class="s3"/>
<circle cx="521.6" cy="984.8" r="2.3" class="s1"/>
<circle cx="363.3" cy="911.5" r="2.3" class="s9"/>
<circle cx="645.7" cy="928.4" r="2.3" class="s9"/>
<circle cx="348.0" cy="917.8" r="2.3" class="s3"/>
<circle cx="633.4" cy="929.9" r="2.3" class="s9"/>
<circle cx="492.9" cy="1022.0" r="2.3" class="s7"/>
<circle cx="706.5" cy="927.9" r="2.3" class="s6"/>
<circle cx="407.2" cy="1000.9" r="2.3" class="s9"/>
<circle cx="675.4" cy="932.3" r="2.3" class="s9"/>
<circle cx="560.1" cy="956.3" r="2.3" class="s9"/>
<circle cx="401.0" cy="999.7" r="2.3" class="s3"/>
<circle cx="349.8" cy="814.4" r="2.3" class="s1"/>
<circle cx="598.5" cy="927.9" r="2.3" class="s9"/>
<circle cx="540.9" cy="975.6" r="2.3" class="s3"/>
<circle cx="347.5" cy="841.4" r="2.3" class="s3"/>
<circle cx="579.7" cy="949.4" r="2.3" class="s9"/>
<circle cx="531.6" cy="968.1" r="2.3" class="s4"/>
<circle cx="373.3" cy="920.8" r="2.3" class="s7"/>
<circle cx="359.8" cy="874.4" r="2.3" class="s6"/>
<circle cx="579.9" cy="933.1" r="2.3" class="s9"/>
<circle cx="378.9" cy="925.5" r="2.3" class="s9"/>
<circle cx="484.1" cy="1007.0" r="2.3" class="s3"/>
<circle cx="448.8" cy="1020.1" r="2.3" class="s5"/>
<circle cx="420.4" cy="1013.6" r="2.3" class="s6"/>
<circle cx="543.3" cy="961.3" r="2.3" class="s4"/>
<circle cx="570.3" cy="937.1" r="2.3" class="s5"/>
<circle cx="434.0" cy="1010.5" r="2.3" class="s8"/>
<circle cx="502.8" cy="1003.6" r="2.3" class="s9"/>
<circle cx="478.0" cy="1018.6" r="2.3" class="s6"/>
<circle cx="454.4" cy="1030.9" r="2.3" class="s3"/>
<circle cx="368.9" cy="900.8" r="2.3" class="s9"/>
<circle cx="468.1" cy="1022.6" r="2.3" class="s7"/>
<circle cx="351.0" cy="826.0" r="2.3" class="s9"/>
<circle cx="373.1" cy="927.7" r="2.3" class="s6"/>
<circle cx="455.2" cy="1031.9" r="2.3" class="s3"/>
<circle cx="599.7" cy="931.4" r="2.3" class="s9"/>
<circle cx="552.3" cy="956.3" r="2.3" class="s5"/>
<circle cx="709.6" cy="926.6" r="2.3" class="s3"/>
<circle cx="531.5" cy="982.3" r="2.3" class="s0"/>
<circle cx="358.7" cy="859.3" r="2.3" class="s3"/>
<circle cx="536.9" cy="976.4" r="2.3" class="s6"/>
<circle cx="656.3" cy="930.0" r="2.3" class="s9"/>
<circle cx="388.2" cy="969.6" r="2.3" class="s5"/>
<circle cx="364.6" cy="904.2" r="2.3" class="s3"/>
<circle cx="369.6" cy="888.7" r="2.3" class="s5"/>
<circle cx="398.2" cy="989.7" r="2.3" class="s9"/>
<circle cx="476.6" cy="1021.6" r="2.3" class="s8"/>
<circle cx="348.1" cy="871.1" r="2.3" class="s9"/>
<circle cx="578.3" cy="943.0" r="2.3" class="s7"/>
<circle cx="381.2" cy="945.2" r="2.3" class="s3"/>
<circle cx="464.4" cy="1032.4" r="2.3" class="s2"/>
<circle cx="372.3" cy="915.7" r="2.3" class="s3"/>
<circle cx="411.9" cy="993.8" r="2.3" class="s3"/>
<circle cx="617.8" cy="925.6" r="2.3" class="s2"/>
<circle cx="483.7" cy="1029.9" r="2.3" class="s8"/>
<circle cx="618.4" cy="926.1" r="2.3" class="s9"/>
<circle cx="388.6" cy="937.5" r="2.3" class="s1"/>
<circle cx="560.6" cy="952.0" r="2.3" class="s3"/>
<circle cx="702.6" cy="931.6" r="2.3" class="s6"/>
<circle cx="620.6" cy="933.3" r="2.3" class="s7"/>
<circle cx="349.0" cy="818.9" r="2.3" class="s9"/>
<circle cx="455.2" cy="1025.0" r="2.3" class="s9"/>
<circle cx="434.7" cy="1025.7" r="2.3" class="s2"/>
<circle cx="378.0" cy="924.9" r="2.3" class="s8"/>
<circle cx="501.1" cy="1018.2" r="2.3" class="s3"/>
<circle cx="387.6" cy="939.1" r="2.3" class="s0"/>
<circle cx="656.1" cy="930.1" r="2.3" class="s6"/>
<circle cx="417.1" cy="1007.3" r="2.3" class="s3"/>
<circle cx="551.2" cy="955.6" r="2.3" class="s3"/>
<circle cx="348.2" cy="904.6" r="2.3" class="s5"/>
<circle cx="492.2" cy="1014.5" r="2.3" class="s9"/>
<circle cx="347.6" cy="809.9" r="2.3" class="s8"/>
<circle cx="463.8" cy="1016.0" r="2.3" class="s3"/>
<circle cx="598.1" cy="931.9" r="2.3" class="s8"/>
<circle cx="704.1" cy="933.9" r="2.3" class="s3"/>
<circle cx="407.4" cy="1011.3" r="2.3" class="s3"/>
<circle cx="629.8" cy="932.2" r="2.3" class="s3"/>
<circle cx="369.6" cy="935.8" r="2.3" class="s3"/>
<circle cx="359.3" cy="870.5" r="2.3" class="s9"/>
<circle cx="397.4" cy="986.0" r="2.3" class="s9"/>
<circle cx="531.8" cy="983.4" r="2.3" class="s3"/>
<circle cx="675.1" cy="929.7" r="2.3" class="s9"/>
<circle cx="407.4" cy="978.5" r="2.3" class="s3"/>
<circle cx="580.6" cy="947.9" r="2.3" class="s9"/>
<circle cx="416.7" cy="997.1" r="2.3" class="s9"/>
<circle cx="694.3" cy="929.7" r="2.3" class="s1"/>
<circle cx="375.6" cy="943.0" r="2.3" class="s3"/>
<circle cx="483.8" cy="1009.4" r="2.3" class="s3"/>
<circle cx="521.9" cy="996.8" r="2.3" class="s6"/>
<circle cx="444.5" cy="1029.1" r="2.3" class="s6"/>
<circle cx="696.8" cy="932.1" r="2.3" class="s9"/>
<circle cx="364.4" cy="907.7" r="2.3" class="s0"/>
<circle cx="522.7" cy="977.2" r="2.3" class="s3"/>
<circle cx="694.9" cy="932.7" r="2.3" class="s9"/>
<circle cx="636.8" cy="929.6" r="2.3" class="s1"/>
<circle cx="456.5" cy="1013.1" r="2.3" class="s3"/>
<circle cx="373.9" cy="932.5" r="2.3" class="s3"/>
<circle cx="709.3" cy="933.2" r="2.3" class="s3"/>
<circle cx="348.0" cy="803.7" r="2.3" class="s3"/>
<circle cx="655.5" cy="926.1" r="2.3" class="s8"/>
<circle cx="354.6" cy="870.5" r="2.3" class="s0"/>
<circle cx="476.7" cy="1017.4" r="2.3" class="s9"/>
<circle cx="636.5" cy="926.8" r="2.3" class="s9"/>
<circle cx="426.4" cy="1015.2" r="2.3" class="s9"/>
<circle cx="374.7" cy="933.9" r="2.3" class="s9"/>
<circle cx="534.9" cy="973.2" r="2.3" class="s9"/>
<circle cx="407.6" cy="981.0" r="2.3" class="s9"/>
<circle cx="347.9" cy="799.4" r="2.3" class="s6"/>
<circle cx="579.3" cy="941.0" r="2.3" class="s8"/>
<circle cx="361.2" cy="881.9" r="2.3" class="s9"/>
<circle cx="370.4" cy="914.1" r="2.3" class="s2"/>
<circle cx="350.8" cy="874.3" r="2.3" class="s5"/>
<circle cx="523.2" cy="977.9" r="2.3" class="s9"/>
<circle cx="694.4" cy="931.2" r="2.3" class="s7"/>
<circle cx="589.1" cy="930.1" r="2.3" class="s6"/>
<circle cx="348.2" cy="867.6" r="2.3" class="s9"/>
<circle cx="369.3" cy="926.2" r="2.3" class="s3"/>
<circle cx="540.5" cy="969.4" r="2.3" class="s9"/>
<circle cx="675.0" cy="925.2" r="2.3" class="s9"/>
<circle cx="354.7" cy="842.8" r="2.3" class="s9"/>
<circle cx="611.5" cy="927.1" r="2.3" class="s0"/>
<circle cx="347.6" cy="809.2" r="2.3" class="s9"/>
<circle cx="464.1" cy="1021.2" r="2.3" class="s0"/>
<circle cx="675.3" cy="930.4" r="2.3" class="s9"/>
<circle cx="427.0" cy="1010.6" r="2.3" class="s6"/>
<circle cx="498.4" cy="1011.5" r="2.3" class="s9"/>
<circle cx="656.1" cy="925.9" r="2.3" class="s3"/>
<circle cx="358.8" cy="891.1" r="2.3" class="s3"/>
<circle cx="694.9" cy="928.4" r="2.3" class="s9"/>
<circle cx="382.9" cy="933.9" r="2.3" class="s9"/>
<circle cx="483.6" cy="1020.0" r="2.3" class="s8"/>
<circle cx="517.3" cy="991.3" r="2.3" class="s8"/>
<circle cx="347.2" cy="812.7" r="2.3" class="s5"/>
<circle cx="405.9" cy="993.1" r="2.3" class="s9"/>
<circle cx="698.2" cy="922.2" r="2.3" class="s3"/>
<circle cx="378.7" cy="946.1" r="2.3" class="s9"/>
<circle cx="426.4" cy="1000.3" r="2.3" class="s1"/>
<circle cx="545.3" cy="961.8" r="2.3" class="s9"/>
<circle cx="378.8" cy="942.5" r="2.3" class="s3"/>
<circle cx="354.6" cy="873.8" r="2.3" class="s9"/>
<circle cx="629.8" cy="931.9" r="2.3" class="s0"/>
<circle cx="445.2" cy="1029.1" r="2.3" class="s3"/>
<circle cx="370.2" cy="932.5" r="2.3" class="s9"/>
<circle cx="484.0" cy="1019.8" r="2.3" class="s3"/>
<circle cx="347.0" cy="874.9" r="2.3" class="s1"/>
<circle cx="612.0" cy="927.4" r="2.3" class="s3"/>
<circle cx="388.2" cy="966.9" r="2.3" class="s9"/>
<circle cx="359.0" cy="871.8" r="2.3" class="s3"/>
<circle cx="364.3" cy="873.3" r="2.3" class="s9"/>
<circle cx="618.1" cy="933.4" r="2.3" class="s9"/>
<circle cx="435.3" cy="1021.0" r="2.3" class="s2"/>
<circle cx="531.0" cy="980.0" r="2.3" class="s1"/>
<circle cx="347.8" cy="811.8" r="2.3" class="s9"/>
<circle cx="492.9" cy="1020.4" r="2.3" class="s8"/>
<circle cx="406.3" cy="982.2" r="2.3" class="s6"/>
<circle cx="436.5" cy="1020.6" r="2.3" class="s2"/>
<circle cx="551.6" cy="955.0" r="2.3" class="s3"/>
<circle cx="427.0" cy="1027.2" r="2.3" class="s8"/>
<circle cx="445.0" cy="1030.7" r="2.3" class="s3"/>
<circle cx="436.3" cy="1034.8" r="2.3" class="s4"/>
<circle cx="360.3" cy="870.9" r="2.3" class="s9"/>
<circle cx="388.0" cy="938.4" r="2.3" class="s3"/>
<circle cx="455.3" cy="1021.0" r="2.3" class="s9"/>
<circle cx="387.8" cy="945.4" r="2.3" class="s0"/>
<circle cx="378.9" cy="937.8" r="2.3" class="s3"/>
<circle cx="378.1" cy="928.0" r="2.3" class="s9"/>
<circle cx="444.4" cy="1019.7" r="2.3" class="s3"/>
<circle cx="388.3" cy="952.8" r="2.3" class="s3"/>
<circle cx="426.6" cy="1020.2" r="2.3" class="s1"/>
<circle cx="389.0" cy="955.9" r="2.3" class="s9"/>
<circle cx="406.3" cy="1005.5" r="2.3" class="s1"/>
<circle cx="483.9" cy="1027.1" r="2.3" class="s1"/>
<circle cx="444.9" cy="1020.8" r="2.3" class="s9"/>
<circle cx="359.3" cy="877.8" r="2.3" class="s9"/>
<circle cx="551.7" cy="964.9" r="2.3" class="s1"/>
<circle cx="348.8" cy="874.4" r="2.3" class="s5"/>
<circle cx="503.3" cy="1018.9" r="2.3" class="s6"/>
<circle cx="405.6" cy="997.9" r="2.3" class="s7"/>
<circle cx="691.4" cy="927.2" r="2.3" class="s4"/>
<circle cx="455.1" cy="1020.1" r="2.3" class="s3"/>
<circle cx="436.8" cy="1012.0" r="2.3" class="s7"/>
<circle cx="379.1" cy="950.8" r="2.3" class="s3"/>
<circle cx="378.2" cy="952.8" r="2.3" class="s9"/>
<circle cx="484.1" cy="1010.2" r="2.3" class="s3"/>
<circle cx="393.6" cy="969.7" r="2.3" class="s7"/>
<circle cx="655.3" cy="927.1" r="2.3" class="s1"/>
<circle cx="571.2" cy="940.8" r="2.3" class="s9"/>
<circle cx="494.5" cy="1010.4" r="2.3" class="s1"/>
<circle cx="637.5" cy="924.3" r="2.3" class="s3"/>
<circle cx="446.0" cy="1034.9" r="2.3" class="s1"/>
<circle cx="378.4" cy="941.2" r="2.3" class="s6"/>
<circle cx="369.0" cy="911.9" r="2.3" class="s9"/>
<circle cx="388.1" cy="950.2" r="2.3" class="s3"/>
<circle cx="673.9" cy="923.6" r="2.3" class="s9"/>
<circle cx="521.5" cy="989.9" r="2.3" class="s9"/>
<circle cx="464.7" cy="1033.7" r="2.3" class="s3"/>
<circle cx="506.3" cy="1000.4" r="2.3" class="s3"/>
<circle cx="362.0" cy="880.1" r="2.3" class="s6"/>
<circle cx="364.9" cy="884.5" r="2.3" class="s3"/>
<circle cx="378.3" cy="923.7" r="2.3" class="s8"/>
<circle cx="540.6" cy="959.5" r="2.3" class="s7"/>
<circle cx="464.4" cy="1021.8" r="2.3" class="s1"/>
<circle cx="526.9" cy="985.6" r="2.3" class="s8"/>
<circle cx="483.8" cy="1014.1" r="2.3" class="s3"/>
<circle cx="559.8" cy="948.1" r="2.3" class="s9"/>
<circle cx="541.2" cy="981.1" r="2.3" class="s6"/>
<circle cx="395.3" cy="967.7" r="2.3" class="s6"/>
<circle cx="350.3" cy="814.6" r="2.3" class="s7"/>
<circle cx="364.8" cy="916.1" r="2.3" class="s9"/>
<circle cx="464.9" cy="1011.2" r="2.3" class="s9"/>
<circle cx="562.3" cy="950.6" r="2.3" class="s9"/>
<circle cx="675.3" cy="931.8" r="2.3" class="s3"/>
<circle cx="645.2" cy="930.3" r="2.3" class="s0"/>
<circle cx="679.6" cy="934.0" r="2.3" class="s0"/>
<circle cx="436.1" cy="1020.8" r="2.3" class="s9"/>
<circle cx="357.2" cy="856.3" r="2.3" class="s3"/>
<circle cx="369.1" cy="910.6" r="2.3" class="s9"/>
<circle cx="674.7" cy="931.0" r="2.3" class="s5"/>
<circle cx="406.3" cy="978.9" r="2.3" class="s5"/>
<circle cx="435.6" cy="1029.4" r="2.3" class="s9"/>
<circle cx="695.0" cy="930.8" r="2.3" class="s3"/>
<circle cx="711.0" cy="936.5" r="2.3" class="s5"/>
<circle cx="417.2" cy="1002.5" r="2.3" class="s7"/>
<circle cx="374.0" cy="909.7" r="2.3" class="s9"/>
<circle cx="639.0" cy="925.3" r="2.3" class="s3"/>
<circle cx="560.7" cy="943.8" r="2.3" class="s6"/>
<circle cx="560.1" cy="949.7" r="2.3" class="s0"/>
<circle cx="522.3" cy="997.2" r="2.3" class="s5"/>
<circle cx="464.8" cy="1017.8" r="2.3" class="s1"/>
<circle cx="368.8" cy="879.3" r="2.3" class="s3"/>
<circle cx="560.8" cy="949.2" r="2.3" class="s3"/>
<circle cx="347.8" cy="904.2" r="2.3" class="s9"/>
<circle cx="380.4" cy="951.4" r="2.3" class="s0"/>
<circle cx="359.8" cy="873.1" r="2.3" class="s9"/>
<circle cx="348.2" cy="886.3" r="2.3" class="s3"/>
<circle cx="431.9" cy="1002.4" r="2.3" class="s9"/>
<circle cx="384.3" cy="943.3" r="2.3" class="s6"/>
<circle cx="578.8" cy="938.2" r="2.3" class="s9"/>
<circle cx="598.0" cy="931.1" r="2.3" class="s9"/>
<circle cx="350.3" cy="861.2" r="2.3" class="s3"/>
<circle cx="588.7" cy="940.5" r="2.3" class="s9"/>
<circle cx="572.5" cy="949.2" r="2.3" class="s9"/>
<circle cx="474.5" cy="1014.4" r="2.3" class="s3"/>
<circle cx="406.4" cy="977.7" r="2.3" class="s0"/>
<circle cx="599.0" cy="924.4" r="2.3" class="s6"/>
<circle cx="359.9" cy="852.9" r="2.3" class="s0"/>
<circle cx="359.6" cy="846.0" r="2.3" class="s9"/>
<circle cx="355.0" cy="857.8" r="2.3" class="s7"/>
<circle cx="347.5" cy="861.4" r="2.3" class="s9"/>
<circle cx="493.1" cy="1026.1" r="2.3" class="s7"/>
<circle cx="443.4" cy="1030.1" r="2.3" class="s9"/>
<circle cx="348.8" cy="851.7" r="2.3" class="s5"/>
<circle cx="464.9" cy="1031.8" r="2.3" class="s9"/>
<circle cx="407.3" cy="1014.9" r="2.3" class="s3"/>
<circle cx="656.1" cy="924.6" r="2.3" class="s3"/>
<circle cx="374.1" cy="912.1" r="2.3" class="s1"/>
<circle cx="347.9" cy="823.3" r="2.3" class="s3"/>
<circle cx="407.5" cy="986.7" r="2.3" class="s2"/>
<circle cx="373.2" cy="938.8" r="2.3" class="s4"/>
<circle cx="426.2" cy="1002.1" r="2.3" class="s3"/>
<circle cx="426.5" cy="1031.5" r="2.3" class="s6"/>
<circle cx="550.9" cy="963.5" r="2.3" class="s6"/>
<circle cx="427.3" cy="1010.4" r="2.3" class="s3"/>
<circle cx="369.0" cy="890.0" r="2.3" class="s2"/>
<circle cx="406.4" cy="1007.4" r="2.3" class="s3"/>
<circle cx="697.7" cy="933.6" r="2.3" class="s3"/>
<circle cx="407.5" cy="1020.5" r="2.3" class="s2"/>
<circle cx="378.7" cy="932.0" r="2.3" class="s6"/>
<circle cx="437.2" cy="1033.0" r="2.3" class="s3"/>
<circle cx="390.3" cy="965.3" r="2.3" class="s3"/>
<circle cx="652.9" cy="929.5" r="2.3" class="s9"/>
<circle cx="693.7" cy="929.4" r="2.3" class="s7"/>
<circle cx="574.5" cy="936.2" r="2.3" class="s3"/>
<circle cx="369.8" cy="923.0" r="2.3" class="s3"/>
<circle cx="444.9" cy="1027.5" r="2.3" class="s9"/>
<circle cx="388.3" cy="934.6" r="2.3" class="s2"/>
<circle cx="531.4" cy="968.5" r="2.3" class="s9"/>
<circle cx="599.2" cy="928.4" r="2.3" class="s9"/>
<circle cx="445.5" cy="1021.3" r="2.3" class="s9"/>
<circle cx="347.9" cy="848.1" r="2.3" class="s3"/>
<circle cx="492.5" cy="1012.5" r="2.3" class="s9"/>
<circle cx="561.1" cy="947.4" r="2.3" class="s9"/>
<circle cx="503.1" cy="992.4" r="2.3" class="s3"/>
<circle cx="464.6" cy="1027.1" r="2.3" class="s3"/>
<circle cx="637.9" cy="927.8" r="2.3" class="s3"/>
<circle cx="465.1" cy="1012.3" r="2.3" class="s9"/>
<circle cx="457.4" cy="1030.7" r="2.3" class="s9"/>
<circle cx="617.6" cy="932.9" r="2.3" class="s2"/>
<circle cx="369.0" cy="924.0" r="2.3" class="s9"/>
<circle cx="388.7" cy="932.3" r="2.3" class="s3"/>
<circle cx="553.6" cy="949.3" r="2.3" class="s0"/>
<circle cx="493.6" cy="1014.7" r="2.3" class="s9"/>
<circle cx="483.6" cy="1009.4" r="2.3" class="s1"/>
<circle cx="436.1" cy="1014.1" r="2.3" class="s8"/>
<circle cx="375.3" cy="931.8" r="2.3" class="s3"/>
<circle cx="353.9" cy="848.4" r="2.3" class="s1"/>
<circle cx="348.6" cy="909.4" r="2.3" class="s3"/>
<circle cx="388.5" cy="968.5" r="2.3" class="s8"/>
<circle cx="435.4" cy="1029.0" r="2.3" class="s7"/>
<circle cx="541.0" cy="972.0" r="2.3" class="s9"/>
<circle cx="561.7" cy="949.3" r="2.3" class="s3"/>
<circle cx="710.1" cy="931.3" r="2.3" class="s9"/>
<circle cx="416.4" cy="1002.0" r="2.3" class="s9"/>
<circle cx="541.0" cy="950.2" r="2.3" class="s8"/>
<circle cx="512.8" cy="996.8" r="2.3" class="s2"/>
<circle cx="581.0" cy="939.4" r="2.3" class="s9"/>
<circle cx="354.6" cy="852.6" r="2.3" class="s6"/>
<circle cx="426.5" cy="1008.8" r="2.3" class="s9"/>
<circle cx="465.6" cy="1012.5" r="2.3" class="s3"/>
<circle cx="348.0" cy="883.7" r="2.3" class="s9"/>
<circle cx="683.1" cy="927.8" r="2.3" class="s2"/>
<circle cx="374.8" cy="938.4" r="2.3" class="s2"/>
<circle cx="504.7" cy="1001.3" r="2.3" class="s9"/>
<circle cx="347.9" cy="853.3" r="2.3" class="s9"/>
<circle cx="515.1" cy="986.2" r="2.3" class="s6"/>
<circle cx="513.1" cy="996.8" r="2.3" class="s0"/>
<circle cx="368.5" cy="910.1" r="2.3" class="s3"/>
<circle cx="363.7" cy="892.5" r="2.3" class="s5"/>
<circle cx="397.0" cy="994.5" r="2.3" class="s9"/>
<circle cx="368.9" cy="882.1" r="2.3" class="s9"/>
<circle cx="522.3" cy="990.5" r="2.3" class="s3"/>
<circle cx="349.8" cy="812.2" r="2.3" class="s9"/>
<circle cx="569.2" cy="948.2" r="2.3" class="s9"/>
<circle cx="579.8" cy="939.6" r="2.3" class="s9"/>
<circle cx="349.7" cy="814.6" r="2.3" class="s1"/>
<circle cx="386.6" cy="938.4" r="2.3" class="s3"/>
<circle cx="649.7" cy="925.7" r="2.3" class="s3"/>
<circle cx="387.7" cy="945.4" r="2.3" class="s1"/>
<circle cx="358.6" cy="862.1" r="2.3" class="s1"/>
<circle cx="388.5" cy="946.6" r="2.3" class="s3"/>
<circle cx="484.1" cy="1027.1" r="2.3" class="s9"/>
<circle cx="349.4" cy="847.9" r="2.3" class="s9"/>
<circle cx="637.1" cy="928.7" r="2.3" class="s2"/>
<circle cx="388.3" cy="931.3" r="2.3" class="s9"/>
<circle cx="347.9" cy="837.7" r="2.3" class="s7"/>
<circle cx="360.4" cy="871.3" r="2.3" class="s3"/>
<circle cx="688.6" cy="930.4" r="2.3" class="s6"/>
<circle cx="447.3" cy="1019.1" r="2.3" class="s5"/>
<circle cx="377.8" cy="929.3" r="2.3" class="s3"/>
<circle cx="364.6" cy="888.6" r="2.3" class="s9"/>
<circle cx="347.4" cy="868.7" r="2.3" class="s0"/>
<circle cx="694.6" cy="931.7" r="2.3" class="s9"/>
<circle cx="617.4" cy="928.1" r="2.3" class="s3"/>
<circle cx="407.5" cy="1007.7" r="2.3" class="s5"/>
<circle cx="415.7" cy="1014.7" r="2.3" class="s3"/>
<circle cx="540.6" cy="975.4" r="2.3" class="s9"/>
<circle cx="682.1" cy="924.8" r="2.3" class="s3"/>
<circle cx="579.5" cy="932.4" r="2.3" class="s8"/>
<circle cx="356.1" cy="847.2" r="2.3" class="s3"/>
<circle cx="606.0" cy="933.4" r="2.3" class="s9"/>
<circle cx="435.3" cy="1016.3" r="2.3" class="s3"/>
<circle cx="642.2" cy="931.7" r="2.3" class="s0"/>
<circle cx="588.8" cy="930.1" r="2.3" class="s9"/>
<circle cx="397.0" cy="969.4" r="2.3" class="s3"/>
<circle cx="407.7" cy="982.0" r="2.3" class="s0"/>
<circle cx="425.9" cy="1027.8" r="2.3" class="s9"/>
<circle cx="464.6" cy="1012.5" r="2.3" class="s3"/>
<circle cx="426.6" cy="1027.4" r="2.3" class="s0"/>
<circle cx="368.4" cy="901.8" r="2.3" class="s3"/>
<circle cx="359.2" cy="858.8" r="2.3" class="s1"/>
<circle cx="347.5" cy="815.2" r="2.3" class="s3"/>
<circle cx="354.5" cy="840.8" r="2.3" class="s9"/>
<circle cx="350.1" cy="812.2" r="2.3" class="s7"/>
<circle cx="637.0" cy="924.5" r="2.3" class="s3"/>
<circle cx="618.2" cy="923.6" r="2.3" class="s3"/>
<circle cx="397.6" cy="978.3" r="2.3" class="s3"/>
<circle cx="465.6" cy="1038.0" r="2.3" class="s3"/>
<circle cx="673.6" cy="926.7" r="2.3" class="s3"/>
<circle cx="617.6" cy="932.1" r="2.3" class="s9"/>
<circle cx="541.8" cy="979.3" r="2.3" class="s9"/>
<circle cx="476.8" cy="1024.3" r="2.3" class="s1"/>
<circle cx="397.8" cy="995.9" r="2.3" class="s9"/>
<circle cx="638.0" cy="928.1" r="2.3" class="s8"/>
<circle cx="426.3" cy="1030.8" r="2.3" class="s9"/>
<circle cx="674.9" cy="930.4" r="2.3" class="s1"/>
<circle cx="569.4" cy="945.4" r="2.3" class="s9"/>
<circle cx="364.8" cy="873.2" r="2.3" class="s9"/>
<circle cx="373.5" cy="921.4" r="2.3" class="s4"/>
<circle cx="541.2" cy="965.1" r="2.3" class="s9"/>
<circle cx="503.2" cy="993.1" r="2.3" class="s9"/>
<circle cx="445.7" cy="1028.6" r="2.3" class="s3"/>
<circle cx="598.6" cy="927.5" r="2.3" class="s6"/>
<circle cx="369.0" cy="898.3" r="2.3" class="s2"/>
<circle cx="521.1" cy="987.3" r="2.3" class="s3"/>
<circle cx="407.4" cy="988.4" r="2.3" class="s2"/>
<circle cx="379.1" cy="935.3" r="2.3" class="s7"/>
<circle cx="697.4" cy="926.8" r="2.3" class="s3"/>
<circle cx="494.6" cy="1012.2" r="2.3" class="s9"/>
<circle cx="565.3" cy="945.9" r="2.3" class="s9"/>
<circle cx="364.7" cy="886.8" r="2.3" class="s3"/>
<circle cx="416.9" cy="1004.2" r="2.3" class="s9"/>
<circle cx="426.2" cy="1021.3" r="2.3" class="s5"/>
<circle cx="653.8" cy="924.8" r="2.3" class="s9"/>
<circle cx="426.0" cy="1003.9" r="2.3" class="s6"/>
<circle cx="617.0" cy="925.5" r="2.3" class="s8"/>
<circle cx="446.0" cy="1018.0" r="2.3" class="s3"/>
<circle cx="559.4" cy="937.2" r="2.3" class="s9"/>
<circle cx="464.7" cy="1029.8" r="2.3" class="s3"/>
<circle cx="616.9" cy="928.9" r="2.3" class="s9"/>
<circle cx="436.1" cy="1035.1" r="2.3" class="s3"/>
<circle cx="396.8" cy="962.2" r="2.3" class="s1"/>
<circle cx="560.0" cy="956.6" r="2.3" class="s3"/>
<circle cx="636.4" cy="930.4" r="2.3" class="s3"/>
<circle cx="353.7" cy="839.2" r="2.3" class="s9"/>
<circle cx="589.9" cy="941.1" r="2.3" class="s9"/>
<circle cx="399.7" cy="995.7" r="2.3" class="s3"/>
<circle cx="709.5" cy="929.0" r="2.3" class="s9"/>
<circle cx="351.1" cy="837.8" r="2.3" class="s3"/>
<circle cx="607.7" cy="930.9" r="2.3" class="s3"/>
<circle cx="540.3" cy="970.4" r="2.3" class="s0"/>
<circle cx="373.8" cy="925.0" r="2.3" class="s9"/>
<circle cx="676.7" cy="927.9" r="2.3" class="s9"/>
<circle cx="608.4" cy="930.6" r="2.3" class="s3"/>
<circle cx="355.5" cy="851.4" r="2.3" class="s3"/>
<circle cx="709.3" cy="930.6" r="2.3" class="s9"/>
<circle cx="675.6" cy="927.1" r="2.3" class="s5"/>
<circle cx="387.5" cy="952.9" r="2.3" class="s2"/>
<circle cx="598.4" cy="930.0" r="2.3" class="s1"/>
<circle cx="446.2" cy="1024.9" r="2.3" class="s9"/>
<circle cx="521.9" cy="1000.0" r="2.3" class="s2"/>
<circle cx="500.3" cy="1002.1" r="2.3" class="s6"/>
<circle cx="378.7" cy="927.7" r="2.3" class="s0"/>
<circle cx="387.6" cy="962.6" r="2.3" class="s9"/>
<circle cx="513.2" cy="990.0" r="2.3" class="s9"/>
<circle cx="656.8" cy="928.1" r="2.3" class="s3"/>
<circle cx="373.7" cy="910.1" r="2.3" class="s9"/>
<circle cx="522.4" cy="973.3" r="2.3" class="s3"/>
<circle cx="348.8" cy="837.0" r="2.3" class="s0"/>
<circle cx="503.0" cy="997.9" r="2.3" class="s6"/>
<circle cx="445.8" cy="1031.8" r="2.3" class="s9"/>
<circle cx="598.7" cy="937.8" r="2.3" class="s0"/>
<circle cx="550.0" cy="958.2" r="2.3" class="s9"/>
<circle cx="445.3" cy="1014.3" r="2.3" class="s6"/>
<circle cx="408.5" cy="1002.8" r="2.3" class="s7"/>
<circle cx="646.4" cy="932.2" r="2.3" class="s3"/>
<circle cx="502.7" cy="1009.8" r="2.3" class="s5"/>
<circle cx="598.5" cy="927.9" r="2.3" class="s3"/>
<circle cx="377.8" cy="945.3" r="2.3" class="s3"/>
<circle cx="442.4" cy="1022.4" r="2.3" class="s3"/>
<circle cx="700.2" cy="926.9" r="2.3" class="s3"/>
<circle cx="502.5" cy="996.2" r="2.3" class="s9"/>
<circle cx="680.1" cy="926.9" r="2.3" class="s3"/>
<circle cx="368.5" cy="901.4" r="2.3" class="s6"/>
<circle cx="464.5" cy="1018.3" r="2.3" class="s3"/>
<circle cx="402.8" cy="977.1" r="2.3" class="s1"/>
<circle cx="348.6" cy="911.4" r="2.3" class="s0"/>
<circle cx="406.2" cy="986.3" r="2.3" class="s6"/>
<circle cx="492.9" cy="1013.4" r="2.3" class="s5"/>
<circle cx="416.8" cy="1010.5" r="2.3" class="s3"/>
<circle cx="694.3" cy="928.4" r="2.3" class="s3"/>
<circle cx="426.1" cy="1025.2" r="2.3" class="s9"/>
<circle cx="463.5" cy="1022.7" r="2.3" class="s1"/>
<circle cx="653.8" cy="921.3" r="2.3" class="s9"/>
<circle cx="531.5" cy="967.6" r="2.3" class="s3"/>
<circle cx="378.7" cy="947.9" r="2.3" class="s9"/>
<circle cx="636.4" cy="924.9" r="2.3" class="s1"/>
<circle cx="347.3" cy="883.9" r="2.3" class="s3"/>
<circle cx="578.4" cy="944.0" r="2.3" class="s9"/>
<circle cx="588.6" cy="934.0" r="2.3" class="s0"/>
<circle cx="443.6" cy="1041.1" r="2.3" class="s3"/>
<circle cx="618.8" cy="930.7" r="2.3" class="s9"/>
<circle cx="349.0" cy="838.4" r="2.3" class="s3"/>
<circle cx="502.0" cy="1024.4" r="2.3" class="s3"/>
<circle cx="416.1" cy="1009.0" r="2.3" class="s9"/>
<circle cx="435.7" cy="1020.9" r="2.3" class="s8"/>
<circle cx="540.9" cy="985.6" r="2.3" class="s9"/>
<circle cx="560.4" cy="949.6" r="2.3" class="s8"/>
<circle cx="655.8" cy="929.1" r="2.3" class="s2"/>
<circle cx="359.5" cy="882.0" r="2.3" class="s9"/>
<circle cx="654.6" cy="931.5" r="2.3" class="s2"/>
<circle cx="372.9" cy="943.3" r="2.3" class="s9"/>
<circle cx="521.8" cy="985.7" r="2.3" class="s9"/>
<circle cx="354.5" cy="889.9" r="2.3" class="s3"/>
<circle cx="637.3" cy="928.9" r="2.3" class="s0"/>
<circle cx="540.7" cy="984.7" r="2.3" class="s3"/>
<circle cx="580.9" cy="942.4" r="2.3" class="s9"/>
<circle cx="492.4" cy="1021.3" r="2.3" class="s3"/>
<circle cx="406.1" cy="997.4" r="2.3" class="s9"/>
<circle cx="354.4" cy="827.1" r="2.3" class="s9"/>
<circle cx="397.5" cy="994.5" r="2.3" class="s0"/>
<circle cx="426.5" cy="1028.1" r="2.3" class="s3"/>
<circle cx="526.3" cy="990.4" r="2.3" class="s6"/>
<circle cx="405.7" cy="1013.1" r="2.3" class="s2"/>
<circle cx="503.4" cy="1006.8" r="2.3" class="s1"/>
<circle cx="519.7" cy="991.6" r="2.3" class="s7"/>
<circle cx="364.3" cy="881.7" r="2.3" class="s9"/>
<circle cx="617.7" cy="928.7" r="2.3" class="s9"/>
<circle cx="385.6" cy="949.3" r="2.3" class="s0"/>
<circle cx="357.5" cy="855.7" r="2.3" class="s3"/>
<circle cx="368.2" cy="917.6" r="2.3" class="s3"/>
<circle cx="369.0" cy="894.2" r="2.3" class="s7"/>
<circle cx="521.5" cy="981.5" r="2.3" class="s9"/>
<circle cx="482.8" cy="1017.4" r="2.3" class="s3"/>
<circle cx="348.6" cy="865.9" r="2.3" class="s9"/>
<circle cx="461.9" cy="1035.0" r="2.3" class="s4"/>
<circle cx="388.9" cy="949.0" r="2.3" class="s9"/>
<circle cx="483.3" cy="1030.5" r="2.3" class="s3"/>
<circle cx="368.8" cy="921.1" r="2.3" class="s3"/>
<circle cx="363.7" cy="895.2" r="2.3" class="s9"/>
<circle cx="589.1" cy="930.6" r="2.3" class="s9"/>
<circle cx="367.2" cy="893.6" r="2.3" class="s9"/>
<circle cx="364.2" cy="907.1" r="2.3" class="s1"/>
<circle cx="436.1" cy="1018.9" r="2.3" class="s6"/>
<circle cx="397.9" cy="974.4" r="2.3" class="s3"/>
<circle cx="531.9" cy="969.5" r="2.3" class="s3"/>
<circle cx="360.0" cy="881.6" r="2.3" class="s5"/>
<circle cx="378.1" cy="923.3" r="2.3" class="s7"/>
<circle cx="562.5" cy="954.7" r="2.3" class="s9"/>
<circle cx="347.5" cy="881.6" r="2.3" class="s9"/>
<circle cx="521.4" cy="980.5" r="2.3" class="s2"/>
<circle cx="698.6" cy="931.3" r="2.3" class="s3"/>
<circle cx="541.3" cy="983.7" r="2.3" class="s3"/>
<circle cx="503.2" cy="1010.2" r="2.3" class="s3"/>
<circle cx="468.6" cy="1012.5" r="2.3" class="s5"/>
<circle cx="512.6" cy="1005.1" r="2.3" class="s8"/>
<circle cx="403.3" cy="997.4" r="2.3" class="s3"/>
<circle cx="375.3" cy="929.2" r="2.3" class="s7"/>
<circle cx="407.6" cy="993.0" r="2.3" class="s3"/>
<circle cx="675.3" cy="931.9" r="2.3" class="s3"/>
<circle cx="598.3" cy="925.4" r="2.3" class="s9"/>
<circle cx="387.6" cy="939.5" r="2.3" class="s8"/>
<circle cx="408.3" cy="1008.7" r="2.3" class="s9"/>
<circle cx="503.2" cy="1005.9" r="2.3" class="s3"/>
<circle cx="566.1" cy="947.2" r="2.3" class="s2"/>
<circle cx="355.7" cy="865.2" r="2.3" class="s3"/>
<circle cx="454.5" cy="1034.4" r="2.3" class="s3"/>
<circle cx="485.4" cy="1006.9" r="2.3" class="s6"/>
<circle cx="589.3" cy="937.6" r="2.3" class="s3"/>
<circle cx="589.1" cy="934.1" r="2.3" class="s9"/>
<circle cx="548.1" cy="967.6" r="2.3" class="s9"/>
<circle cx="441.2" cy="1024.9" r="2.3" class="s3"/>
<circle cx="459.4" cy="1029.1" r="2.3" class="s8"/>
<circle cx="633.9" cy="929.8" r="2.3" class="s9"/>
<circle cx="426.2" cy="1027.5" r="2.3" class="s7"/>
<circle cx="597.3" cy="935.3" r="2.3" class="s1"/>
<circle cx="541.3" cy="970.9" r="2.3" class="s9"/>
<circle cx="560.6" cy="952.5" r="2.3" class="s3"/>
<circle cx="440.9" cy="1013.2" r="2.3" class="s9"/>
<circle cx="435.6" cy="1025.4" r="2.3" class="s9"/>
<circle cx="503.0" cy="1015.3" r="2.3" class="s0"/>
<circle cx="574.7" cy="942.4" r="2.3" class="s3"/>
<circle cx="546.4" cy="960.4" r="2.3" class="s3"/>
<circle cx="578.9" cy="945.3" r="2.3" class="s4"/>
<circle cx="435.7" cy="1035.6" r="2.3" class="s3"/>
<circle cx="454.5" cy="1017.3" r="2.3" class="s9"/>
<circle cx="363.2" cy="917.5" r="2.3" class="s0"/>
<circle cx="540.5" cy="957.0" r="2.3" class="s9"/>
<circle cx="560.2" cy="943.1" r="2.3" class="s3"/>
<circle cx="474.4" cy="1013.4" r="2.3" class="s1"/>
<circle cx="427.3" cy="1024.0" r="2.3" class="s8"/>
<circle cx="569.8" cy="944.7" r="2.3" class="s1"/>
<circle cx="607.4" cy="928.3" r="2.3" class="s9"/>
<circle cx="406.8" cy="994.6" r="2.3" class="s9"/>
<circle cx="465.0" cy="1030.3" r="2.3" class="s5"/>
<circle cx="649.8" cy="926.5" r="2.3" class="s3"/>
<circle cx="617.7" cy="924.8" r="2.3" class="s9"/>
<circle cx="406.5" cy="1005.1" r="2.3" class="s8"/>
<circle cx="589.0" cy="929.1" r="2.3" class="s0"/>
<circle cx="455.3" cy="1033.4" r="2.3" class="s3"/>
<circle cx="398.0" cy="969.7" r="2.3" class="s8"/>
<circle cx="463.8" cy="1034.6" r="2.3" class="s9"/>
<circle cx="641.5" cy="927.0" r="2.3" class="s0"/>
<circle cx="416.9" cy="1012.5" r="2.3" class="s2"/>
<circle cx="417.8" cy="1010.1" r="2.3" class="s9"/>
<circle cx="445.5" cy="1010.5" r="2.3" class="s6"/>
<circle cx="362.9" cy="876.6" r="2.3" class="s9"/>
<circle cx="409.4" cy="1007.2" r="2.3" class="s9"/>
<circle cx="686.8" cy="931.4" r="2.3" class="s5"/>
<circle cx="607.0" cy="928.0" r="2.3" class="s9"/>
<circle cx="393.1" cy="978.9" r="2.3" class="s3"/>
<circle cx="694.3" cy="928.8" r="2.3" class="s9"/>
<circle cx="512.4" cy="1009.2" r="2.3" class="s3"/>
<circle cx="637.2" cy="930.6" r="2.3" class="s8"/>
<circle cx="375.1" cy="928.6" r="2.3" class="s9"/>
<circle cx="464.5" cy="1021.9" r="2.3" class="s7"/>
<circle cx="454.8" cy="1023.5" r="2.3" class="s1"/>
<circle cx="522.5" cy="991.5" r="2.3" class="s3"/>
<circle cx="502.8" cy="1018.5" r="2.3" class="s3"/>
<circle cx="414.0" cy="1000.4" r="2.3" class="s9"/>
<circle cx="541.5" cy="977.4" r="2.3" class="s9"/>
<circle cx="474.1" cy="1019.2" r="2.3" class="s0"/>
<circle cx="374.6" cy="944.8" r="2.3" class="s9"/>
<circle cx="617.1" cy="930.0" r="2.3" class="s1"/>
<circle cx="559.4" cy="951.8" r="2.3" class="s1"/>
<circle cx="426.1" cy="1029.3" r="2.3" class="s3"/>
<circle cx="348.2" cy="899.1" r="2.3" class="s9"/>
<circle cx="445.6" cy="1013.7" r="2.3" class="s9"/>
<circle cx="378.1" cy="920.7" r="2.3" class="s9"/>
<circle cx="474.1" cy="1014.4" r="2.3" class="s3"/>
<circle cx="541.7" cy="976.6" r="2.3" class="s1"/>
<circle cx="397.2" cy="980.4" r="2.3" class="s3"/>
<circle cx="645.5" cy="926.8" r="2.3" class="s9"/>
<circle cx="483.5" cy="1019.1" r="2.3" class="s6"/>
<circle cx="483.9" cy="1029.6" r="2.3" class="s3"/>
<circle cx="396.3" cy="967.7" r="2.3" class="s9"/>
<circle cx="507.5" cy="1011.5" r="2.3" class="s9"/>
<circle cx="394.4" cy="971.4" r="2.3" class="s5"/>
<circle cx="374.3" cy="922.2" r="2.3" class="s3"/>
<circle cx="632.1" cy="924.4" r="2.3" class="s9"/>
<circle cx="521.9" cy="980.9" r="2.3" class="s9"/>
<circle cx="364.9" cy="903.3" r="2.3" class="s3"/>
<circle cx="655.3" cy="927.2" r="2.3" class="s9"/>
<circle cx="368.0" cy="895.7" r="2.3" class="s0"/>
<circle cx="403.6" cy="991.5" r="2.3" class="s3"/>
<circle cx="521.1" cy="996.1" r="2.3" class="s3"/>
<circle cx="425.6" cy="1031.8" r="2.3" class="s3"/>
<circle cx="361.2" cy="876.1" r="2.3" class="s9"/>
<circle cx="554.0" cy="956.4" r="2.3" class="s6"/>
<circle cx="674.1" cy="929.0" r="2.3" class="s9"/>
<circle cx="709.2" cy="931.4" r="2.3" class="s9"/>
<circle cx="464.7" cy="1016.4" r="2.3" class="s9"/>
<circle cx="397.5" cy="988.5" r="2.3" class="s3"/>
<circle cx="369.1" cy="910.5" r="2.3" class="s3"/>
<circle cx="436.5" cy="1024.7" r="2.3" class="s9"/>
<circle cx="354.9" cy="830.6" r="2.3" class="s3"/>
<circle cx="503.0" cy="1018.5" r="2.3" class="s9"/>
<circle cx="476.8" cy="1019.2" r="2.3" class="s9"/>
<circle cx="359.9" cy="866.6" r="2.3" class="s3"/>
<circle cx="517.3" cy="984.7" r="2.3" class="s8"/>
<circle cx="416.3" cy="1002.8" r="2.3" class="s8"/>
<circle cx="360.0" cy="894.0" r="2.3" class="s3"/>
<circle cx="348.6" cy="821.7" r="2.3" class="s8"/>
<circle cx="455.7" cy="1015.2" r="2.3" class="s9"/>
<circle cx="350.9" cy="847.0" r="2.3" class="s9"/>
<circle cx="413.4" cy="1012.3" r="2.3" class="s3"/>
<circle cx="354.8" cy="829.9" r="2.3" class="s0"/>
<circle cx="699.0" cy="930.3" r="2.3" class="s9"/>
<circle cx="512.4" cy="1009.4" r="2.3" class="s9"/>
<circle cx="459.6" cy="1027.7" r="2.3" class="s7"/>
<circle cx="378.7" cy="928.4" r="2.3" class="s9"/>
<circle cx="348.8" cy="863.0" r="2.3" class="s5"/>
<circle cx="502.9" cy="1000.7" r="2.3" class="s3"/>
<circle cx="708.3" cy="930.1" r="2.3" class="s9"/>
<circle cx="503.0" cy="1001.2" r="2.3" class="s9"/>
<circle cx="353.5" cy="880.1" r="2.3" class="s9"/>
<circle cx="668.0" cy="929.7" r="2.3" class="s9"/>
<circle cx="690.7" cy="926.5" r="2.3" class="s9"/>
<circle cx="354.4" cy="854.4" r="2.3" class="s8"/>
<circle cx="407.2" cy="982.3" r="2.3" class="s8"/>
<circle cx="656.2" cy="927.3" r="2.3" class="s1"/>
<circle cx="368.8" cy="923.7" r="2.3" class="s9"/>
<circle cx="653.9" cy="928.3" r="2.3" class="s3"/>
<circle cx="494.4" cy="1015.4" r="2.3" class="s0"/>
<circle cx="455.2" cy="1026.8" r="2.3" class="s9"/>
<circle cx="388.2" cy="955.9" r="2.3" class="s9"/>
<circle cx="503.6" cy="1012.4" r="2.3" class="s6"/>
<circle cx="348.0" cy="835.0" r="2.3" class="s3"/>
<circle cx="542.9" cy="966.3" r="2.3" class="s3"/>
<circle cx="471.9" cy="1023.8" r="2.3" class="s2"/>
<circle cx="537.0" cy="953.8" r="2.3" class="s9"/>
<circle cx="447.1" cy="1030.8" r="2.3" class="s9"/>
<circle cx="464.7" cy="1030.6" r="2.3" class="s5"/>
<circle cx="396.9" cy="969.2" r="2.3" class="s3"/>
<circle cx="356.4" cy="859.7" r="2.3" class="s3"/>
<circle cx="406.1" cy="1012.4" r="2.3" class="s9"/>
<circle cx="544.2" cy="958.8" r="2.3" class="s9"/>
<circle cx="365.0" cy="887.2" r="2.3" class="s9"/>
<circle cx="491.6" cy="1017.9" r="2.3" class="s3"/>
<circle cx="526.4" cy="972.6" r="2.3" class="s0"/>
<circle cx="681.5" cy="931.0" r="2.3" class="s0"/>
<circle cx="347.8" cy="915.7" r="2.3" class="s6"/>
<circle cx="655.8" cy="926.5" r="2.3" class="s1"/>
<circle cx="619.3" cy="926.9" r="2.3" class="s9"/>
<circle cx="522.4" cy="984.3" r="2.3" class="s1"/>
<circle cx="567.5" cy="950.1" r="2.3" class="s3"/>
<circle cx="570.0" cy="946.2" r="2.3" class="s9"/>
<circle cx="397.7" cy="988.8" r="2.3" class="s9"/>
<circle cx="510.2" cy="1001.8" r="2.3" class="s4"/>
<circle cx="452.2" cy="1027.3" r="2.3" class="s8"/>
<circle cx="541.5" cy="964.1" r="2.3" class="s9"/>
<circle cx="434.2" cy="1014.0" r="2.3" class="s9"/>
<circle cx="436.5" cy="1023.2" r="2.3" class="s3"/>
<circle cx="359.5" cy="881.8" r="2.3" class="s1"/>
<circle cx="445.3" cy="1017.8" r="2.3" class="s9"/>
<circle cx="703.2" cy="928.6" r="2.3" class="s9"/>
<circle cx="425.8" cy="1009.4" r="2.3" class="s4"/>
<circle cx="512.2" cy="991.8" r="2.3" class="s5"/>
<circle cx="636.9" cy="923.9" r="2.3" class="s9"/>
<circle cx="694.6" cy="929.6" r="2.3" class="s9"/>
<circle cx="465.0" cy="1033.1" r="2.3" class="s6"/>
<circle cx="598.4" cy="924.5" r="2.3" class="s3"/>
<circle cx="350.0" cy="838.2" r="2.3" class="s0"/>
<circle cx="540.6" cy="974.1" r="2.3" class="s6"/>
<circle cx="417.1" cy="998.2" r="2.3" class="s9"/>
<circle cx="462.4" cy="1012.7" r="2.3" class="s7"/>
<circle cx="502.7" cy="1013.0" r="2.3" class="s3"/>
<circle cx="433.0" cy="1026.1" r="2.3" class="s1"/>
<circle cx="355.3" cy="843.9" r="2.3" class="s9"/>
<circle cx="464.7" cy="1031.6" r="2.3" class="s3"/>
<circle cx="709.8" cy="931.8" r="2.3" class="s3"/>
<circle cx="388.5" cy="968.6" r="2.3" class="s2"/>
<circle cx="369.0" cy="909.5" r="2.3" class="s1"/>
<circle cx="359.5" cy="900.1" r="2.3" class="s5"/>
<circle cx="636.9" cy="928.6" r="2.3" class="s1"/>
<circle cx="532.2" cy="969.6" r="2.3" class="s9"/>
<circle cx="579.7" cy="945.0" r="2.3" class="s9"/>
<circle cx="404.8" cy="983.3" r="2.3" class="s9"/>
<circle cx="542.2" cy="956.5" r="2.3" class="s9"/>
<circle cx="408.0" cy="1016.5" r="2.3" class="s0"/>
<circle cx="503.9" cy="1008.3" r="2.3" class="s1"/>
<circle cx="709.2" cy="927.1" r="2.3" class="s9"/>
<circle cx="503.6" cy="1005.6" r="2.3" class="s2"/>
<circle cx="392.8" cy="967.9" r="2.3" class="s7"/>
<circle cx="700.1" cy="930.0" r="2.3" class="s3"/>
<circle cx="483.8" cy="1013.9" r="2.3" class="s9"/>
<circle cx="513.1" cy="1003.5" r="2.3" class="s5"/>
<circle cx="347.8" cy="833.5" r="2.3" class="s9"/>
<circle cx="554.0" cy="955.8" r="2.3" class="s3"/>
<circle cx="484.0" cy="1008.7" r="2.3" class="s9"/>
<circle cx="407.2" cy="983.8" r="2.3" class="s9"/>
<circle cx="416.5" cy="997.0" r="2.3" class="s9"/>
<circle cx="360.2" cy="843.0" r="2.3" class="s8"/>
<circle cx="388.4" cy="956.1" r="2.3" class="s9"/>
<circle cx="537.1" cy="972.5" r="2.3" class="s9"/>
<circle cx="541.7" cy="965.9" r="2.3" class="s9"/>
<circle cx="711.3" cy="922.3" r="2.3" class="s9"/>
<circle cx="359.4" cy="855.9" r="2.3" class="s1"/>
<circle cx="347.9" cy="827.0" r="2.3" class="s9"/>
<circle cx="484.0" cy="1030.1" r="2.3" class="s9"/>
<circle cx="348.4" cy="828.8" r="2.3" class="s9"/>
<circle cx="349.8" cy="830.3" r="2.3" class="s3"/>
<circle cx="638.8" cy="932.6" r="2.3" class="s9"/>
<circle cx="500.4" cy="1010.2" r="2.3" class="s0"/>
<circle cx="353.9" cy="860.8" r="2.3" class="s9"/>
<circle cx="358.4" cy="864.3" r="2.3" class="s9"/>
<circle cx="382.8" cy="948.3" r="2.3" class="s9"/>
<circle cx="493.2" cy="1014.9" r="2.3" class="s3"/>
<circle cx="445.5" cy="1016.0" r="2.3" class="s1"/>
<circle cx="579.1" cy="949.5" r="2.3" class="s0"/>
<circle cx="470.4" cy="1029.2" r="2.3" class="s9"/>
<circle cx="618.0" cy="923.7" r="2.3" class="s9"/>
<circle cx="379.0" cy="948.2" r="2.3" class="s9"/>
<circle cx="407.0" cy="993.3" r="2.3" class="s0"/>
<circle cx="550.3" cy="955.4" r="2.3" class="s9"/>
<circle cx="388.1" cy="955.0" r="2.3" class="s1"/>
<circle cx="503.5" cy="1010.4" r="2.3" class="s9"/>
<circle cx="669.5" cy="922.0" r="2.3" class="s9"/>
<circle cx="372.5" cy="922.7" r="2.3" class="s3"/>
<circle cx="570.1" cy="941.7" r="2.3" class="s9"/>
<circle cx="653.7" cy="926.2" r="2.3" class="s9"/>
<circle cx="445.5" cy="1023.7" r="2.3" class="s9"/>
<circle cx="407.7" cy="981.2" r="2.3" class="s0"/>
<circle cx="675.3" cy="927.4" r="2.3" class="s9"/>
<circle cx="560.0" cy="948.9" r="2.3" class="s3"/>
<circle cx="693.7" cy="928.4" r="2.3" class="s8"/>
<circle cx="368.8" cy="904.2" r="2.3" class="s3"/>
<circle cx="541.6" cy="974.0" r="2.3" class="s9"/>
<circle cx="521.8" cy="991.3" r="2.3" class="s3"/>
<circle cx="483.5" cy="1028.5" r="2.3" class="s9"/>
<circle cx="387.3" cy="938.4" r="2.3" class="s6"/>
<circle cx="617.2" cy="932.1" r="2.3" class="s9"/>
<circle cx="354.4" cy="892.4" r="2.3" class="s9"/>
<circle cx="394.5" cy="977.3" r="2.3" class="s9"/>
<circle cx="675.1" cy="932.9" r="2.3" class="s3"/>
<circle cx="557.2" cy="949.5" r="2.3" class="s9"/>
<circle cx="347.3" cy="830.9" r="2.3" class="s9"/>
<circle cx="652.3" cy="928.0" r="2.3" class="s8"/>
<circle cx="675.7" cy="926.7" r="2.3" class="s6"/>
<circle cx="347.6" cy="868.1" r="2.3" class="s9"/>
<circle cx="540.6" cy="981.0" r="2.3" class="s4"/>
<circle cx="354.3" cy="849.9" r="2.3" class="s8"/>
<circle cx="483.7" cy="1013.0" r="2.3" class="s1"/>
<circle cx="540.8" cy="950.6" r="2.3" class="s9"/>
<circle cx="445.9" cy="1027.7" r="2.3" class="s1"/>
<circle cx="474.0" cy="1023.5" r="2.3" class="s7"/>
<circle cx="426.6" cy="997.8" r="2.3" class="s8"/>
<circle cx="445.8" cy="1028.9" r="2.3" class="s9"/>
<circle cx="474.5" cy="1028.2" r="2.3" class="s3"/>
<circle cx="468.1" cy="1027.4" r="2.3" class="s3"/>
<circle cx="658.8" cy="929.6" r="2.3" class="s6"/>
<circle cx="611.0" cy="931.9" r="2.3" class="s3"/>
<circle cx="502.2" cy="1013.3" r="2.3" class="s6"/>
<circle cx="397.9" cy="968.5" r="2.3" class="s0"/>
<circle cx="347.9" cy="830.8" r="2.3" class="s9"/>
<circle cx="610.6" cy="931.0" r="2.3" class="s9"/>
<circle cx="446.0" cy="1025.1" r="2.3" class="s3"/>
<circle cx="674.9" cy="929.4" r="2.3" class="s3"/>
<circle cx="396.9" cy="984.8" r="2.3" class="s9"/>
<circle cx="640.7" cy="926.5" r="2.3" class="s5"/>
<circle cx="349.7" cy="863.4" r="2.3" class="s9"/>
<circle cx="675.6" cy="925.3" r="2.3" class="s1"/>
<circle cx="535.7" cy="971.7" r="2.3" class="s3"/>
<circle cx="374.1" cy="930.2" r="2.3" class="s7"/>
<circle cx="445.7" cy="1020.8" r="2.3" class="s2"/>
<circle cx="398.3" cy="967.3" r="2.3" class="s9"/>
<circle cx="669.7" cy="926.7" r="2.3" class="s4"/>
<circle cx="368.2" cy="917.1" r="2.3" class="s9"/>
<circle cx="656.1" cy="928.7" r="2.3" class="s3"/>
<circle cx="597.9" cy="932.7" r="2.3" class="s9"/>
<circle cx="589.5" cy="934.0" r="2.3" class="s6"/>
<circle cx="609.7" cy="932.8" r="2.3" class="s7"/>
<circle cx="522.4" cy="990.4" r="2.3" class="s3"/>
<circle cx="357.3" cy="862.2" r="2.3" class="s3"/>
<circle cx="350.4" cy="813.9" r="2.3" class="s9"/>
<circle cx="550.6" cy="962.8" r="2.3" class="s1"/>
<circle cx="538.6" cy="964.5" r="2.3" class="s6"/>
<circle cx="560.1" cy="953.7" r="2.3" class="s9"/>
<circle cx="406.9" cy="990.7" r="2.3" class="s3"/>
<circle cx="364.4" cy="874.3" r="2.3" class="s3"/>
<circle cx="695.2" cy="930.3" r="2.3" class="s8"/>
<circle cx="388.5" cy="965.4" r="2.3" class="s9"/>
<circle cx="378.4" cy="949.2" r="2.3" class="s9"/>
<circle cx="484.3" cy="1010.3" r="2.3" class="s9"/>
<circle cx="694.4" cy="932.1" r="2.3" class="s9"/>
<circle cx="474.6" cy="1030.2" r="2.3" class="s6"/>
<circle cx="464.8" cy="1031.6" r="2.3" class="s3"/>
<circle cx="512.2" cy="996.9" r="2.3" class="s9"/>
<circle cx="388.1" cy="1006.0" r="2.3" class="s4"/>
<circle cx="418.7" cy="1012.9" r="2.3" class="s1"/>
<circle cx="474.0" cy="1021.1" r="2.3" class="s3"/>
<circle cx="579.6" cy="930.0" r="2.3" class="s3"/>
<circle cx="446.6" cy="1023.4" r="2.3" class="s3"/>
<circle cx="502.4" cy="1013.1" r="2.3" class="s3"/>
<circle cx="407.1" cy="1013.5" r="2.3" class="s9"/>
<circle cx="618.7" cy="924.1" r="2.3" class="s3"/>
<circle cx="425.8" cy="1018.4" r="2.3" class="s0"/>
<circle cx="454.7" cy="1033.7" r="2.3" class="s3"/>
<circle cx="363.6" cy="898.6" r="2.3" class="s3"/>
<circle cx="540.7" cy="979.6" r="2.3" class="s3"/>
<circle cx="483.7" cy="1024.6" r="2.3" class="s3"/>
<circle cx="617.4" cy="931.8" r="2.3" class="s0"/>
<circle cx="347.6" cy="798.2" r="2.3" class="s7"/>
<circle cx="388.1" cy="934.1" r="2.3" class="s3"/>
<circle cx="552.5" cy="970.2" r="2.3" class="s1"/>
<circle cx="597.3" cy="934.4" r="2.3" class="s2"/>
<circle cx="637.1" cy="924.1" r="2.3" class="s6"/>
<circle cx="349.6" cy="811.7" r="2.3" class="s9"/>
<circle cx="347.4" cy="823.5" r="2.3" class="s8"/>
<circle cx="425.9" cy="1001.1" r="2.3" class="s0"/>
<circle cx="354.7" cy="866.7" r="2.3" class="s9"/>
<circle cx="560.1" cy="950.9" r="2.3" class="s9"/>
<circle cx="513.0" cy="1006.3" r="2.3" class="s9"/>
<circle cx="501.9" cy="1018.2" r="2.3" class="s6"/>
<circle cx="359.5" cy="858.0" r="2.3" class="s1"/>
<circle cx="465.2" cy="1035.6" r="2.3" class="s9"/>
<circle cx="620.1" cy="934.5" r="2.3" class="s9"/>
<circle cx="577.3" cy="945.3" r="2.3" class="s5"/>
<circle cx="559.9" cy="957.0" r="2.3" class="s3"/>
<circle cx="445.6" cy="1029.6" r="2.3" class="s6"/>
<circle cx="522.5" cy="1001.4" r="2.3" class="s9"/>
<circle cx="484.1" cy="1012.6" r="2.3" class="s1"/>
<circle cx="465.1" cy="1034.0" r="2.3" class="s9"/>
<circle cx="413.6" cy="1011.1" r="2.3" class="s3"/>
<circle cx="589.1" cy="939.0" r="2.3" class="s0"/>
<circle cx="541.2" cy="954.0" r="2.3" class="s9"/>
<circle cx="454.4" cy="1033.0" r="2.3" class="s9"/>
<circle cx="464.5" cy="1010.8" r="2.3" class="s9"/>
<circle cx="474.3" cy="1023.4" r="2.3" class="s9"/>
<circle cx="561.2" cy="947.6" r="2.3" class="s3"/>
<circle cx="359.4" cy="866.0" r="2.3" class="s3"/>
<circle cx="656.8" cy="928.3" r="2.3" class="s9"/>
<circle cx="691.4" cy="931.0" r="2.3" class="s2"/>
<circle cx="580.3" cy="947.5" r="2.3" class="s6"/>
<circle cx="347.0" cy="857.4" r="2.3" class="s3"/>
<circle cx="402.7" cy="992.2" r="2.3" class="s3"/>
<circle cx="584.2" cy="937.7" r="2.3" class="s3"/>
<circle cx="497.2" cy="1015.0" r="2.3" class="s0"/>
<circle cx="388.8" cy="962.2" r="2.3" class="s1"/>
<circle cx="578.8" cy="940.9" r="2.3" class="s9"/>
<circle cx="347.1" cy="907.7" r="2.3" class="s9"/>
<circle cx="694.8" cy="927.9" r="2.3" class="s9"/>
<circle cx="579.6" cy="941.7" r="2.3" class="s9"/>
<circle cx="416.7" cy="1011.4" r="2.3" class="s6"/>
<circle cx="508.6" cy="991.4" r="2.3" class="s8"/>
<circle cx="451.7" cy="1034.3" r="2.3" class="s0"/>
<circle cx="378.8" cy="925.3" r="2.3" class="s3"/>
<circle cx="392.8" cy="984.9" r="2.3" class="s4"/>
<circle cx="373.0" cy="937.2" r="2.3" class="s9"/>
<circle cx="465.0" cy="1035.3" r="2.3" class="s0"/>
<circle cx="708.8" cy="931.0" r="2.3" class="s9"/>
<circle cx="560.1" cy="949.4" r="2.3" class="s9"/>
<circle cx="503.4" cy="1001.1" r="2.3" class="s9"/>
<circle cx="688.6" cy="924.7" r="2.3" class="s5"/>
<circle cx="364.0" cy="901.3" r="2.3" class="s5"/>
<circle cx="464.7" cy="1013.3" r="2.3" class="s1"/>
<circle cx="432.8" cy="1028.5" r="2.3" class="s3"/>
<circle cx="598.6" cy="930.5" r="2.3" class="s9"/>
<circle cx="512.4" cy="990.3" r="2.3" class="s3"/>
<circle cx="483.2" cy="1025.8" r="2.3" class="s3"/>
<circle cx="419.4" cy="1015.2" r="2.3" class="s3"/>
<circle cx="473.4" cy="1015.0" r="2.3" class="s3"/>
<circle cx="429.5" cy="1011.8" r="2.3" class="s9"/>
<circle cx="348.6" cy="905.1" r="2.3" class="s3"/>
<circle cx="517.4" cy="999.7" r="2.3" class="s0"/>
<circle cx="349.3" cy="871.4" r="2.3" class="s7"/>
<circle cx="560.3" cy="958.1" r="2.3" class="s3"/>
<circle cx="387.4" cy="933.9" r="2.3" class="s6"/>
<circle cx="483.5" cy="1026.0" r="2.3" class="s9"/>
<circle cx="400.3" cy="986.5" r="2.3" class="s6"/>
<circle cx="521.6" cy="993.5" r="2.3" class="s1"/>
<circle cx="433.3" cy="1020.7" r="2.3" class="s3"/>
<circle cx="347.7" cy="813.7" r="2.3" class="s3"/>
<circle cx="469.1" cy="1023.6" r="2.3" class="s8"/>
<circle cx="583.3" cy="935.3" r="2.3" class="s6"/>
<circle cx="636.8" cy="928.6" r="2.3" class="s3"/>
<circle cx="397.4" cy="997.9" r="2.3" class="s3"/>
<circle cx="606.6" cy="931.8" r="2.3" class="s9"/>
<circle cx="359.5" cy="901.2" r="2.3" class="s3"/>
<circle cx="388.1" cy="943.9" r="2.3" class="s9"/>
<circle cx="503.9" cy="1017.8" r="2.3" class="s9"/>
<circle cx="381.5" cy="937.2" r="2.3" class="s3"/>
<circle cx="503.3" cy="1005.8" r="2.3" class="s9"/>
<circle cx="435.8" cy="1028.4" r="2.3" class="s3"/>
<circle cx="550.6" cy="957.1" r="2.3" class="s8"/>
<circle cx="378.3" cy="951.6" r="2.3" class="s0"/>
<circle cx="521.3" cy="995.2" r="2.3" class="s3"/>
<circle cx="417.2" cy="1020.4" r="2.3" class="s9"/>
<circle cx="464.1" cy="1020.2" r="2.3" class="s3"/>
<circle cx="397.7" cy="983.9" r="2.3" class="s6"/>
<circle cx="675.8" cy="926.5" r="2.3" class="s7"/>
<circle cx="417.2" cy="1026.1" r="2.3" class="s1"/>
<circle cx="383.1" cy="945.2" r="2.3" class="s3"/>
<circle cx="417.4" cy="1005.2" r="2.3" class="s5"/>
<circle cx="655.7" cy="928.3" r="2.3" class="s9"/>
<circle cx="502.8" cy="993.0" r="2.3" class="s9"/>
<circle cx="426.0" cy="1021.4" r="2.3" class="s9"/>
<circle cx="598.2" cy="932.0" r="2.3" class="s1"/>
<circle cx="350.1" cy="812.8" r="2.3" class="s3"/>
<circle cx="407.8" cy="1017.3" r="2.3" class="s9"/>
<circle cx="573.1" cy="943.3" r="2.3" class="s9"/>
<circle cx="513.2" cy="1005.9" r="2.3" class="s9"/>
<circle cx="407.6" cy="1019.3" r="2.3" class="s6"/>
<circle cx="369.0" cy="888.7" r="2.3" class="s3"/>
<circle cx="570.6" cy="936.0" r="2.3" class="s3"/>
<circle cx="378.0" cy="931.8" r="2.3" class="s3"/>
<circle cx="592.3" cy="930.5" r="2.3" class="s3"/>
<circle cx="406.9" cy="982.7" r="2.3" class="s9"/>
<circle cx="436.1" cy="1027.6" r="2.3" class="s3"/>
<circle cx="476.1" cy="1022.7" r="2.3" class="s7"/>
<circle cx="364.7" cy="914.3" r="2.3" class="s7"/>
<circle cx="474.2" cy="1028.6" r="2.3" class="s3"/>
<circle cx="541.3" cy="950.8" r="2.3" class="s9"/>
<circle cx="493.3" cy="1020.7" r="2.3" class="s3"/>
<circle cx="413.6" cy="1002.4" r="2.3" class="s1"/>
<circle cx="381.4" cy="932.6" r="2.3" class="s3"/>
<circle cx="349.7" cy="860.5" r="2.3" class="s7"/>
<circle cx="446.5" cy="1023.4" r="2.3" class="s7"/>
<circle cx="465.0" cy="1021.3" r="2.3" class="s6"/>
<circle cx="358.4" cy="858.2" r="2.3" class="s9"/>
<circle cx="349.2" cy="815.7" r="2.3" class="s2"/>
<circle cx="538.1" cy="964.3" r="2.3" class="s9"/>
<circle cx="464.0" cy="1034.9" r="2.3" class="s0"/>
<circle cx="598.5" cy="934.2" r="2.3" class="s9"/>
<circle cx="464.1" cy="1032.1" r="2.3" class="s3"/>
<circle cx="359.6" cy="863.8" r="2.3" class="s5"/>
<circle cx="580.1" cy="942.0" r="2.3" class="s9"/>
<circle cx="445.8" cy="1034.1" r="2.3" class="s3"/>
<circle cx="417.1" cy="1020.8" r="2.3" class="s9"/>
<circle cx="650.5" cy="927.8" r="2.3" class="s9"/>
<circle cx="454.6" cy="1021.7" r="2.3" class="s3"/>
<circle cx="464.8" cy="1014.6" r="2.3" class="s0"/>
<circle cx="429.3" cy="1019.5" r="2.3" class="s9"/>
<circle cx="406.6" cy="1004.7" r="2.3" class="s7"/>
<circle cx="416.8" cy="1011.5" r="2.3" class="s6"/>
<circle cx="374.1" cy="910.1" r="2.3" class="s3"/>
<circle cx="347.9" cy="913.0" r="2.3" class="s6"/>
<circle cx="422.6" cy="1017.0" r="2.3" class="s9"/>
<circle cx="348.1" cy="814.7" r="2.3" class="s3"/>
<circle cx="388.1" cy="946.6" r="2.3" class="s8"/>
<circle cx="579.7" cy="940.9" r="2.3" class="s7"/>
<circle cx="368.0" cy="920.6" r="2.3" class="s9"/>
<circle cx="368.4" cy="938.6" r="2.3" class="s3"/>
<circle cx="350.8" cy="852.7" r="2.3" class="s9"/>
<circle cx="598.9" cy="931.4" r="2.3" class="s3"/>
<circle cx="408.7" cy="1001.3" r="2.3" class="s9"/>
<circle cx="449.6" cy="1026.5" r="2.3" class="s9"/>
<circle cx="683.6" cy="931.3" r="2.3" class="s5"/>
<circle cx="373.8" cy="917.9" r="2.3" class="s1"/>
<circle cx="422.1" cy="1015.4" r="2.3" class="s0"/>
<circle cx="531.7" cy="985.1" r="2.3" class="s9"/>
<circle cx="637.1" cy="923.4" r="2.3" class="s9"/>
<circle cx="347.0" cy="873.4" r="2.3" class="s6"/>
<circle cx="493.4" cy="1005.2" r="2.3" class="s9"/>
<circle cx="590.7" cy="938.3" r="2.3" class="s9"/>
<circle cx="620.0" cy="928.3" r="2.3" class="s3"/>
<circle cx="348.8" cy="881.2" r="2.3" class="s5"/>
<circle cx="522.1" cy="994.7" r="2.3" class="s7"/>
<circle cx="585.4" cy="935.9" r="2.3" class="s3"/>
<circle cx="569.5" cy="940.3" r="2.3" class="s3"/>
<circle cx="673.7" cy="927.7" r="2.3" class="s3"/>
<circle cx="361.6" cy="871.1" r="2.3" class="s1"/>
<circle cx="521.0" cy="998.4" r="2.3" class="s9"/>
<circle cx="347.5" cy="807.0" r="2.3" class="s3"/>
<circle cx="406.6" cy="996.1" r="2.3" class="s0"/>
<circle cx="443.9" cy="1029.7" r="2.3" class="s8"/>
<circle cx="406.6" cy="1012.1" r="2.3" class="s5"/>
<circle cx="397.8" cy="991.4" r="2.3" class="s9"/>
<circle cx="352.1" cy="834.5" r="2.3" class="s9"/>
<circle cx="494.9" cy="1001.9" r="2.3" class="s3"/>
<circle cx="473.9" cy="1020.5" r="2.3" class="s9"/>
<circle cx="579.5" cy="930.1" r="2.3" class="s3"/>
<circle cx="359.8" cy="841.1" r="2.3" class="s9"/>
<circle cx="483.7" cy="1026.3" r="2.3" class="s9"/>
<circle cx="348.8" cy="825.0" r="2.3" class="s0"/>
<circle cx="705.6" cy="933.2" r="2.3" class="s9"/>
<circle cx="493.0" cy="1016.4" r="2.3" class="s3"/>
<circle cx="350.2" cy="833.1" r="2.3" class="s3"/>
<circle cx="583.4" cy="938.6" r="2.3" class="s8"/>
<circle cx="439.6" cy="1029.9" r="2.3" class="s3"/>
<circle cx="398.2" cy="986.9" r="2.3" class="s3"/>
<circle cx="374.7" cy="912.3" r="2.3" class="s9"/>
<circle cx="583.2" cy="935.3" r="2.3" class="s9"/>
<circle cx="565.8" cy="947.3" r="2.3" class="s6"/>
<circle cx="581.8" cy="937.6" r="2.3" class="s9"/>
<circle cx="356.3" cy="852.7" r="2.3" class="s3"/>
<circle cx="521.6" cy="992.6" r="2.3" class="s9"/>
<circle cx="710.2" cy="928.4" r="2.3" class="s3"/>
<circle cx="369.4" cy="894.8" r="2.3" class="s9"/>
<circle cx="347.1" cy="807.9" r="2.3" class="s9"/>
<circle cx="580.2" cy="944.0" r="2.3" class="s9"/>
<circle cx="535.3" cy="976.4" r="2.3" class="s9"/>
<circle cx="454.8" cy="1017.2" r="2.3" class="s3"/>
<circle cx="709.2" cy="928.2" r="2.3" class="s9"/>
<circle cx="426.4" cy="1012.7" r="2.3" class="s9"/>
<circle cx="512.2" cy="995.3" r="2.3" class="s1"/>
<circle cx="416.3" cy="996.1" r="2.3" class="s3"/>
<circle cx="530.7" cy="973.5" r="2.3" class="s3"/>
<circle cx="534.6" cy="975.1" r="2.3" class="s9"/>
<circle cx="483.5" cy="1022.4" r="2.3" class="s5"/>
<circle cx="672.0" cy="926.8" r="2.3" class="s3"/>
<circle cx="397.5" cy="972.3" r="2.3" class="s9"/>
<circle cx="420.1" cy="1001.3" r="2.3" class="s3"/>
<circle cx="369.2" cy="937.9" r="2.3" class="s3"/>
<circle cx="407.4" cy="980.5" r="2.3" class="s9"/>
<circle cx="560.4" cy="944.7" r="2.3" class="s6"/>
<circle cx="436.6" cy="1036.5" r="2.3" class="s7"/>
<circle cx="368.3" cy="928.0" r="2.3" class="s9"/>
<circle cx="360.4" cy="881.8" r="2.3" class="s3"/>
<circle cx="473.8" cy="1023.6" r="2.3" class="s6"/>
<circle cx="407.7" cy="1004.7" r="2.3" class="s2"/>
<circle cx="502.6" cy="994.8" r="2.3" class="s9"/>
<circle cx="503.2" cy="1019.9" r="2.3" class="s0"/>
<circle cx="550.1" cy="952.2" r="2.3" class="s1"/>
<circle cx="653.1" cy="927.2" r="2.3" class="s5"/>
<circle cx="347.4" cy="916.9" r="2.3" class="s6"/>
<circle cx="701.4" cy="930.4" r="2.3" class="s9"/>
<circle cx="570.2" cy="947.3" r="2.3" class="s6"/>
<circle cx="456.0" cy="1013.8" r="2.3" class="s6"/>
<circle cx="521.6" cy="988.4" r="2.3" class="s3"/>
<circle cx="375.5" cy="921.5" r="2.3" class="s9"/>
<circle cx="445.1" cy="1032.8" r="2.3" class="s9"/>
<circle cx="618.3" cy="929.5" r="2.3" class="s0"/>
<circle cx="656.7" cy="928.3" r="2.3" class="s3"/>
<circle cx="636.2" cy="926.1" r="2.3" class="s6"/>
<circle cx="598.5" cy="933.1" r="2.3" class="s9"/>
<circle cx="613.6" cy="930.2" r="2.3" class="s9"/>
<circle cx="502.8" cy="1004.4" r="2.3" class="s9"/>
<circle cx="657.0" cy="930.7" r="2.3" class="s9"/>
<circle cx="505.7" cy="1009.7" r="2.3" class="s9"/>
<circle cx="464.8" cy="1030.5" r="2.3" class="s2"/>
<circle cx="365.5" cy="901.1" r="2.3" class="s5"/>
<circle cx="540.4" cy="968.8" r="2.3" class="s2"/>
<circle cx="436.8" cy="1024.2" r="2.3" class="s9"/>
<circle cx="472.3" cy="1023.7" r="2.3" class="s3"/>
<circle cx="507.5" cy="995.8" r="2.3" class="s1"/>
<circle cx="397.4" cy="971.0" r="2.3" class="s9"/>
<circle cx="374.7" cy="930.4" r="2.3" class="s6"/>
<circle cx="434.8" cy="1022.0" r="2.3" class="s9"/>
<circle cx="527.8" cy="996.9" r="2.3" class="s0"/>
<circle cx="569.8" cy="940.0" r="2.3" class="s1"/>
<circle cx="394.8" cy="952.7" r="2.3" class="s3"/>
<circle cx="641.4" cy="927.5" r="2.3" class="s7"/>
<circle cx="646.3" cy="929.8" r="2.3" class="s3"/>
<circle cx="367.4" cy="904.8" r="2.3" class="s9"/>
<circle cx="579.8" cy="941.0" r="2.3" class="s3"/>
<circle cx="560.8" cy="950.2" r="2.3" class="s3"/>
<circle cx="633.4" cy="929.3" r="2.3" class="s9"/>
<circle cx="369.2" cy="891.0" r="2.3" class="s3"/>
<circle cx="710.6" cy="932.4" r="2.3" class="s3"/>
<circle cx="379.3" cy="930.8" r="2.3" class="s9"/>
<circle cx="393.8" cy="972.6" r="2.3" class="s0"/>
<circle cx="491.1" cy="1010.4" r="2.3" class="s9"/>
<circle cx="426.5" cy="1032.5" r="2.3" class="s6"/>
<circle cx="396.9" cy="974.1" r="2.3" class="s9"/>
<circle cx="656.3" cy="929.0" r="2.3" class="s9"/>
<circle cx="704.8" cy="924.3" r="2.3" class="s3"/>
<circle cx="378.6" cy="935.3" r="2.3" class="s3"/>
<circle cx="512.3" cy="1000.0" r="2.3" class="s9"/>
<circle cx="570.1" cy="939.9" r="2.3" class="s7"/>
<circle cx="347.7" cy="906.6" r="2.3" class="s9"/>
<circle cx="636.6" cy="928.1" r="2.3" class="s3"/>
<circle cx="579.8" cy="950.5" r="2.3" class="s6"/>
<circle cx="589.0" cy="936.2" r="2.3" class="s9"/>
<circle cx="368.5" cy="929.4" r="2.3" class="s9"/>
<circle cx="445.4" cy="1013.4" r="2.3" class="s3"/>
<circle cx="350.7" cy="830.0" r="2.3" class="s9"/>
<circle cx="657.0" cy="926.5" r="2.3" class="s9"/>
<circle cx="388.6" cy="970.5" r="2.3" class="s3"/>
<circle cx="526.1" cy="984.1" r="2.3" class="s5"/>
<circle cx="368.7" cy="931.0" r="2.3" class="s9"/>
<circle cx="472.8" cy="1032.4" r="2.3" class="s3"/>
<circle cx="463.8" cy="1023.7" r="2.3" class="s9"/>
<circle cx="348.5" cy="856.9" r="2.3" class="s7"/>
<circle cx="432.7" cy="1018.9" r="2.3" class="s4"/>
<circle cx="558.7" cy="958.9" r="2.3" class="s7"/>
<circle cx="682.5" cy="927.3" r="2.3" class="s3"/>
<circle cx="694.6" cy="927.7" r="2.3" class="s1"/>
<circle cx="553.7" cy="940.0" r="2.3" class="s3"/>
<circle cx="618.0" cy="931.9" r="2.3" class="s1"/>
<circle cx="511.2" cy="994.4" r="2.3" class="s9"/>
<circle cx="621.2" cy="932.0" r="2.3" class="s9"/>
<circle cx="347.0" cy="891.0" r="2.3" class="s3"/>
<circle cx="531.9" cy="967.0" r="2.3" class="s9"/>
<circle cx="426.3" cy="999.2" r="2.3" class="s6"/>
<circle cx="369.4" cy="893.4" r="2.3" class="s3"/>
<circle cx="378.6" cy="950.8" r="2.3" class="s3"/>
<circle cx="359.2" cy="848.1" r="2.3" class="s1"/>
<circle cx="555.2" cy="948.7" r="2.3" class="s2"/>
<circle cx="473.4" cy="1026.3" r="2.3" class="s9"/>
<circle cx="455.3" cy="1027.9" r="2.3" class="s3"/>
<circle cx="710.4" cy="933.4" r="2.3" class="s9"/>
<circle cx="358.9" cy="879.4" r="2.3" class="s9"/>
<circle cx="579.5" cy="942.4" r="2.3" class="s5"/>
<circle cx="616.9" cy="929.6" r="2.3" class="s0"/>
<circle cx="348.6" cy="852.4" r="2.3" class="s3"/>
<circle cx="381.1" cy="940.5" r="2.3" class="s9"/>
<circle cx="503.8" cy="1020.1" r="2.3" class="s3"/>
<circle cx="675.3" cy="928.9" r="2.3" class="s3"/>
<circle cx="387.5" cy="960.9" r="2.3" class="s9"/>
<circle cx="353.8" cy="841.0" r="2.3" class="s5"/>
<circle cx="599.3" cy="931.6" r="2.3" class="s9"/>
<circle cx="416.2" cy="1013.3" r="2.3" class="s0"/>
<circle cx="460.3" cy="1033.4" r="2.3" class="s3"/>
<circle cx="349.9" cy="822.7" r="2.3" class="s2"/>
<circle cx="445.2" cy="1014.9" r="2.3" class="s3"/>
<circle cx="516.4" cy="1012.1" r="2.3" class="s9"/>
<circle cx="363.6" cy="911.5" r="2.3" class="s9"/>
<circle cx="414.2" cy="1004.1" r="2.3" class="s3"/>
<circle cx="660.6" cy="925.2" r="2.3" class="s3"/>
<circle cx="445.7" cy="1017.5" r="2.3" class="s8"/>
<circle cx="368.8" cy="907.7" r="2.3" class="s5"/>
<circle cx="691.7" cy="932.6" r="2.3" class="s5"/>
<circle cx="435.9" cy="1018.2" r="2.3" class="s3"/>
<circle cx="349.9" cy="841.8" r="2.3" class="s9"/>
<circle cx="595.8" cy="927.4" r="2.3" class="s0"/>
<circle cx="637.3" cy="931.2" r="2.3" class="s3"/>
<circle cx="347.8" cy="824.4" r="2.3" class="s4"/>
<circle cx="416.4" cy="1015.7" r="2.3" class="s8"/>
<circle cx="355.6" cy="846.1" r="2.3" class="s9"/>
<circle cx="694.2" cy="928.3" r="2.3" class="s7"/>
<circle cx="575.2" cy="947.8" r="2.3" class="s3"/>
<circle cx="567.5" cy="945.7" r="2.3" class="s2"/>
<circle cx="444.9" cy="1020.7" r="2.3" class="s3"/>
<circle cx="407.4" cy="976.9" r="2.3" class="s6"/>
<circle cx="348.3" cy="822.7" r="2.3" class="s9"/>
<circle cx="598.8" cy="930.5" r="2.3" class="s1"/>
<circle cx="347.8" cy="800.6" r="2.3" class="s1"/>
<circle cx="441.9" cy="1033.8" r="2.3" class="s3"/>
<circle cx="640.4" cy="928.3" r="2.3" class="s1"/>
<circle cx="407.6" cy="994.5" r="2.3" class="s9"/>
<circle cx="388.4" cy="941.1" r="2.3" class="s9"/>
<circle cx="349.4" cy="842.9" r="2.3" class="s9"/>
<circle cx="549.3" cy="963.6" r="2.3" class="s8"/>
<circle cx="426.4" cy="1014.6" r="2.3" class="s2"/>
<circle cx="650.1" cy="923.4" r="2.3" class="s9"/>
<circle cx="355.4" cy="892.7" r="2.3" class="s8"/>
<circle cx="588.9" cy="930.3" r="2.3" class="s9"/>
<circle cx="425.8" cy="1004.5" r="2.3" class="s1"/>
<circle cx="493.2" cy="1008.6" r="2.3" class="s5"/>
<circle cx="354.4" cy="894.7" r="2.3" class="s7"/>
<circle cx="576.2" cy="941.9" r="2.3" class="s1"/>
<circle cx="392.5" cy="960.9" r="2.3" class="s9"/>
<circle cx="598.5" cy="931.0" r="2.3" class="s9"/>
<circle cx="462.7" cy="1030.1" r="2.3" class="s3"/>
<circle cx="617.9" cy="925.1" r="2.3" class="s3"/>
<circle cx="548.9" cy="958.3" r="2.3" class="s1"/>
<circle cx="655.3" cy="932.1" r="2.3" class="s9"/>
<circle cx="348.7" cy="842.4" r="2.3" class="s9"/>
<circle cx="353.1" cy="834.9" r="2.3" class="s9"/>
<circle cx="598.4" cy="927.8" r="2.3" class="s9"/>
<circle cx="522.4" cy="998.1" r="2.3" class="s8"/>
<circle cx="658.0" cy="927.3" r="2.3" class="s3"/>
<circle cx="489.9" cy="1015.3" r="2.3" class="s9"/>
<circle cx="378.9" cy="935.1" r="2.3" class="s3"/>
<circle cx="593.1" cy="943.0" r="2.3" class="s0"/>
<circle cx="634.0" cy="931.6" r="2.3" class="s2"/>
<circle cx="351.8" cy="825.1" r="2.3" class="s5"/>
<circle cx="369.0" cy="938.6" r="2.3" class="s6"/>
<circle cx="654.3" cy="925.9" r="2.3" class="s9"/>
<circle cx="350.0" cy="819.0" r="2.3" class="s9"/>
<circle cx="397.5" cy="983.3" r="2.3" class="s9"/>
<circle cx="445.3" cy="1015.6" r="2.3" class="s1"/>
<circle cx="454.9" cy="1023.6" r="2.3" class="s9"/>
<circle cx="354.5" cy="855.8" r="2.3" class="s3"/>
<circle cx="426.6" cy="1026.7" r="2.3" class="s1"/>
<circle cx="512.6" cy="1002.1" r="2.3" class="s9"/>
<circle cx="393.0" cy="978.2" r="2.3" class="s3"/>
<circle cx="426.3" cy="1009.6" r="2.3" class="s9"/>
<circle cx="579.3" cy="930.7" r="2.3" class="s1"/>
<circle cx="435.6" cy="1021.6" r="2.3" class="s3"/>
<circle cx="520.9" cy="984.9" r="2.3" class="s9"/>
<circle cx="472.2" cy="1014.7" r="2.3" class="s6"/>
<circle cx="388.9" cy="965.7" r="2.3" class="s9"/>
<circle cx="364.3" cy="916.7" r="2.3" class="s4"/>
<circle cx="358.6" cy="853.7" r="2.3" class="s0"/>
<circle cx="361.3" cy="924.3" r="2.3" class="s9"/>
<circle cx="591.4" cy="933.3" r="2.3" class="s9"/>
<circle cx="408.1" cy="999.3" r="2.3" class="s8"/>
<circle cx="435.9" cy="1028.1" r="2.3" class="s9"/>
<circle cx="364.1" cy="883.0" r="2.3" class="s3"/>
<circle cx="349.7" cy="835.0" r="2.3" class="s5"/>
<circle cx="483.2" cy="1024.2" r="2.3" class="s6"/>
<circle cx="556.3" cy="946.7" r="2.3" class="s3"/>
<circle cx="503.5" cy="1014.2" r="2.3" class="s3"/>
<circle cx="410.9" cy="995.3" r="2.3" class="s0"/>
<circle cx="363.5" cy="887.5" r="2.3" class="s4"/>
<circle cx="634.4" cy="925.6" r="2.3" class="s5"/>
<circle cx="479.4" cy="1019.4" r="2.3" class="s7"/>
<circle cx="388.5" cy="963.1" r="2.3" class="s1"/>
<circle cx="435.9" cy="1015.3" r="2.3" class="s9"/>
<circle cx="484.3" cy="1022.1" r="2.3" class="s1"/>
<circle cx="603.8" cy="928.3" r="2.3" class="s9"/>
<circle cx="542.6" cy="967.2" r="2.3" class="s3"/>
<circle cx="397.6" cy="990.5" r="2.3" class="s9"/>
<circle cx="348.8" cy="834.5" r="2.3" class="s3"/>
<circle cx="675.1" cy="929.9" r="2.3" class="s9"/>
<circle cx="396.9" cy="968.6" r="2.3" class="s9"/>
<circle cx="693.8" cy="929.6" r="2.3" class="s9"/>
<circle cx="522.1" cy="998.5" r="2.3" class="s9"/>
<circle cx="483.2" cy="1021.9" r="2.3" class="s9"/>
<circle cx="505.6" cy="991.8" r="2.3" class="s1"/>
<circle cx="503.8" cy="999.8" r="2.3" class="s3"/>
<circle cx="457.6" cy="1015.9" r="2.3" class="s1"/>
<circle cx="425.1" cy="1028.0" r="2.3" class="s9"/>
<circle cx="387.9" cy="962.2" r="2.3" class="s3"/>
<circle cx="347.3" cy="852.7" r="2.3" class="s7"/>
<circle cx="388.3" cy="958.9" r="2.3" class="s3"/>
<circle cx="406.3" cy="1021.1" r="2.3" class="s8"/>
<circle cx="538.1" cy="970.5" r="2.3" class="s5"/>
<circle cx="579.8" cy="940.0" r="2.3" class="s9"/>
<circle cx="455.0" cy="1035.0" r="2.3" class="s0"/>
<circle cx="389.8" cy="963.5" r="2.3" class="s9"/>
<circle cx="359.9" cy="866.3" r="2.3" class="s9"/>
<circle cx="388.2" cy="944.6" r="2.3" class="s6"/>
<circle cx="435.0" cy="1022.9" r="2.3" class="s9"/>
<circle cx="347.7" cy="905.8" r="2.3" class="s2"/>
<circle cx="465.3" cy="1035.6" r="2.3" class="s3"/>
<circle cx="434.7" cy="1019.8" r="2.3" class="s2"/>
<circle cx="579.8" cy="940.5" r="2.3" class="s9"/>
<circle cx="523.2" cy="999.1" r="2.3" class="s3"/>
<circle cx="533.5" cy="987.8" r="2.3" class="s1"/>
<circle cx="358.9" cy="843.9" r="2.3" class="s8"/>
<circle cx="617.5" cy="924.4" r="2.3" class="s9"/>
<circle cx="369.0" cy="897.8" r="2.3" class="s9"/>
<circle cx="363.8" cy="902.0" r="2.3" class="s3"/>
<circle cx="378.5" cy="927.1" r="2.3" class="s1"/>
<circle cx="580.2" cy="936.5" r="2.3" class="s3"/>
<circle cx="445.5" cy="1025.0" r="2.3" class="s6"/>
<circle cx="627.3" cy="928.0" r="2.3" class="s8"/>
<circle cx="369.4" cy="917.0" r="2.3" class="s9"/>
<circle cx="709.3" cy="931.4" r="2.3" class="s9"/>
<circle cx="406.9" cy="999.2" r="2.3" class="s3"/>
<circle cx="473.7" cy="1026.2" r="2.3" class="s3"/>
<circle cx="675.5" cy="932.5" r="2.3" class="s9"/>
<circle cx="595.2" cy="934.3" r="2.3" class="s3"/>
<circle cx="364.5" cy="890.6" r="2.3" class="s3"/>
<circle cx="369.5" cy="889.0" r="2.3" class="s8"/>
<circle cx="464.4" cy="1022.6" r="2.3" class="s3"/>
<circle cx="440.0" cy="1034.0" r="2.3" class="s2"/>
<circle cx="397.3" cy="966.1" r="2.3" class="s9"/>
<circle cx="530.7" cy="970.9" r="2.3" class="s9"/>
<circle cx="415.7" cy="1023.0" r="2.3" class="s9"/>
<circle cx="464.7" cy="1034.7" r="2.3" class="s9"/>
<circle cx="453.8" cy="1031.8" r="2.3" class="s9"/>
<circle cx="454.5" cy="1021.0" r="2.3" class="s6"/>
<circle cx="541.3" cy="981.4" r="2.3" class="s9"/>
<circle cx="427.1" cy="1006.1" r="2.3" class="s8"/>
<circle cx="473.4" cy="1034.9" r="2.3" class="s2"/>
<circle cx="426.4" cy="1008.6" r="2.3" class="s3"/>
<circle cx="560.0" cy="951.3" r="2.3" class="s9"/>
<circle cx="397.7" cy="994.9" r="2.3" class="s3"/>
<circle cx="672.0" cy="931.4" r="2.3" class="s3"/>
<circle cx="379.0" cy="940.4" r="2.3" class="s3"/>
<circle cx="502.7" cy="995.7" r="2.3" class="s0"/>
<circle cx="369.3" cy="899.7" r="2.3" class="s8"/>
<circle cx="455.8" cy="1027.5" r="2.3" class="s3"/>
<circle cx="675.6" cy="930.1" r="2.3" class="s2"/>
<circle cx="383.1" cy="935.2" r="2.3" class="s9"/>
<circle cx="560.2" cy="945.1" r="2.3" class="s3"/>
<circle cx="560.5" cy="949.6" r="2.3" class="s3"/>
<circle cx="372.4" cy="927.2" r="2.3" class="s9"/>
<circle cx="615.0" cy="926.5" r="2.3" class="s5"/>
<circle cx="446.4" cy="1015.1" r="2.3" class="s5"/>
<circle cx="502.0" cy="997.0" r="2.3" class="s8"/>
<circle cx="541.6" cy="965.0" r="2.3" class="s3"/>
<circle cx="627.3" cy="925.5" r="2.3" class="s3"/>
<circle cx="655.7" cy="928.8" r="2.3" class="s9"/>
<circle cx="578.3" cy="945.0" r="2.3" class="s3"/>
<circle cx="492.4" cy="1012.1" r="2.3" class="s1"/>
<circle cx="388.8" cy="953.7" r="2.3" class="s2"/>
<circle cx="521.2" cy="992.9" r="2.3" class="s5"/>
<circle cx="350.3" cy="820.0" r="2.3" class="s3"/>
<circle cx="521.8" cy="987.9" r="2.3" class="s9"/>
<circle cx="446.0" cy="1021.8" r="2.3" class="s9"/>
<circle cx="693.5" cy="931.0" r="2.3" class="s3"/>
<circle cx="501.8" cy="1002.0" r="2.3" class="s9"/>
<circle cx="416.6" cy="998.4" r="2.3" class="s9"/>
<circle cx="578.6" cy="947.4" r="2.3" class="s6"/>
<circle cx="550.3" cy="952.2" r="2.3" class="s9"/>
<circle cx="349.8" cy="859.1" r="2.3" class="s9"/>
<circle cx="550.8" cy="959.4" r="2.3" class="s0"/>
<circle cx="426.4" cy="1010.4" r="2.3" class="s9"/>
<circle cx="560.5" cy="949.2" r="2.3" class="s9"/>
<circle cx="518.5" cy="991.3" r="2.3" class="s9"/>
<circle cx="388.8" cy="956.6" r="2.3" class="s6"/>
<circle cx="426.6" cy="1019.5" r="2.3" class="s9"/>
<circle cx="441.9" cy="1024.7" r="2.3" class="s9"/>
<circle cx="359.5" cy="873.1" r="2.3" class="s8"/>
<circle cx="493.9" cy="1004.4" r="2.3" class="s1"/>
<circle cx="487.1" cy="1009.3" r="2.3" class="s2"/>
<circle cx="637.3" cy="924.9" r="2.3" class="s9"/>
<circle cx="531.8" cy="982.0" r="2.3" class="s3"/>
<circle cx="655.7" cy="930.9" r="2.3" class="s3"/>
<circle cx="694.0" cy="929.4" r="2.3" class="s3"/>
<circle cx="348.8" cy="792.7" r="2.3" class="s9"/>
<circle cx="378.0" cy="941.4" r="2.3" class="s9"/>
<circle cx="675.3" cy="930.6" r="2.3" class="s9"/>
<circle cx="628.8" cy="933.5" r="2.3" class="s3"/>
<circle cx="474.5" cy="1014.9" r="2.3" class="s2"/>
<circle cx="457.9" cy="1031.1" r="2.3" class="s7"/>
<circle cx="591.2" cy="934.0" r="2.3" class="s9"/>
<circle cx="563.3" cy="950.3" r="2.3" class="s5"/>
<circle cx="354.4" cy="848.4" r="2.3" class="s9"/>
<circle cx="387.9" cy="944.8" r="2.3" class="s0"/>
<circle cx="636.9" cy="930.4" r="2.3" class="s9"/>
<circle cx="359.8" cy="897.4" r="2.3" class="s0"/>
<circle cx="349.6" cy="838.4" r="2.3" class="s8"/>
<circle cx="693.1" cy="927.3" r="2.3" class="s2"/>
<circle cx="637.3" cy="929.5" r="2.3" class="s9"/>
<circle cx="369.2" cy="924.9" r="2.3" class="s6"/>
<circle cx="566.4" cy="949.0" r="2.3" class="s8"/>
<circle cx="698.6" cy="925.7" r="2.3" class="s9"/>
<circle cx="397.8" cy="993.9" r="2.3" class="s9"/>
<circle cx="435.5" cy="1029.2" r="2.3" class="s9"/>
<circle cx="397.6" cy="967.5" r="2.3" class="s9"/>
<circle cx="384.4" cy="938.7" r="2.3" class="s3"/>
<circle cx="384.9" cy="952.8" r="2.3" class="s9"/>
<circle cx="514.0" cy="991.0" r="2.3" class="s3"/>
<circle cx="485.2" cy="1006.1" r="2.3" class="s3"/>
<circle cx="448.8" cy="1021.4" r="2.3" class="s3"/>
<circle cx="554.9" cy="949.3" r="2.3" class="s9"/>
<circle cx="350.5" cy="826.3" r="2.3" class="s0"/>
<circle cx="694.0" cy="927.9" r="2.3" class="s3"/>
<circle cx="709.5" cy="927.5" r="2.3" class="s1"/>
<circle cx="436.8" cy="1028.3" r="2.3" class="s3"/>
<circle cx="644.9" cy="924.6" r="2.3" class="s6"/>
<circle cx="365.1" cy="844.9" r="2.3" class="s1"/>
<circle cx="580.0" cy="940.7" r="2.3" class="s9"/>
<circle cx="597.6" cy="937.9" r="2.3" class="s3"/>
<circle cx="560.9" cy="945.6" r="2.3" class="s3"/>
<circle cx="416.6" cy="1022.4" r="2.3" class="s3"/>
<circle cx="532.3" cy="977.1" r="2.3" class="s2"/>
<circle cx="363.9" cy="914.8" r="2.3" class="s3"/>
<circle cx="541.2" cy="977.0" r="2.3" class="s3"/>
<circle cx="356.4" cy="864.3" r="2.3" class="s1"/>
<circle cx="358.7" cy="893.6" r="2.3" class="s9"/>
<circle cx="354.6" cy="836.8" r="2.3" class="s0"/>
<circle cx="359.0" cy="850.5" r="2.3" class="s1"/>
<circle cx="469.4" cy="1017.0" r="2.3" class="s1"/>
<circle cx="407.2" cy="962.9" r="2.3" class="s8"/>
<circle cx="502.5" cy="1004.1" r="2.3" class="s9"/>
<circle cx="427.0" cy="1017.3" r="2.3" class="s9"/>
<circle cx="588.9" cy="932.9" r="2.3" class="s9"/>
<circle cx="531.6" cy="982.1" r="2.3" class="s9"/>
<circle cx="358.9" cy="849.8" r="2.3" class="s3"/>
<circle cx="541.2" cy="954.9" r="2.3" class="s9"/>
<circle cx="416.4" cy="1007.2" r="2.3" class="s6"/>
<circle cx="481.7" cy="1014.2" r="2.3" class="s9"/>
<circle cx="509.5" cy="992.8" r="2.3" class="s5"/>
<circle cx="394.8" cy="968.8" r="2.3" class="s2"/>
<circle cx="583.8" cy="933.7" r="2.3" class="s6"/>
<rect x="420" y="776" width="72" height="186" fill="#fff"/>
<circle cx="427.4" cy="785.2" r="3.3" fill="#000000" stroke="#222" stroke-width="0.6"/>
<text x="454.1" y="789.9" style="font-family:'Liberation Sans',sans-serif;font-size:14.5px;fill:#222;letter-spacing:0.8px">1973</text>
<circle cx="427.4" cy="804.2" r="3.3" fill="#e0141c" stroke="#222" stroke-width="0.6"/>
<text x="454.1" y="808.9" style="font-family:'Liberation Sans',sans-serif;font-size:14.5px;fill:#222;letter-spacing:0.8px">1983</text>
<circle cx="427.4" cy="823.1" r="3.3" fill="#1414d2" stroke="#222" stroke-width="0.6"/>
<text x="454.1" y="827.8" style="font-family:'Liberation Sans',sans-serif;font-size:14.5px;fill:#222;letter-spacing:0.8px">1987</text>
<circle cx="427.4" cy="842.1" r="3.3" fill="#c3c21c" stroke="#222" stroke-width="0.6"/>
<text x="454.1" y="846.8" style="font-family:'Liberation Sans',sans-serif;font-size:14.5px;fill:#222;letter-spacing:0.8px">1988</text>
<circle cx="427.4" cy="861.0" r="3.3" fill="#e01ee0" stroke="#222" stroke-width="0.6"/>
<text x="454.1" y="865.7" style="font-family:'Liberation Sans',sans-serif;font-size:14.5px;fill:#222;letter-spacing:0.8px">1991</text>
<circle cx="427.4" cy="880.0" r="3.3" fill="#2ee2ea" stroke="#222" stroke-width="0.6"/>
<text x="454.1" y="884.7" style="font-family:'Liberation Sans',sans-serif;font-size:14.5px;fill:#222;letter-spacing:0.8px">1993</text>
<circle cx="427.4" cy="898.9" r="3.3" fill="#e8e8e8" stroke="#222" stroke-width="0.6"/>
<text x="454.1" y="903.6" style="font-family:'Liberation Sans',sans-serif;font-size:14.5px;fill:#222;letter-spacing:0.8px">1995</text>
<circle cx="427.4" cy="917.9" r="3.3" fill="#000000" stroke="#222" stroke-width="0.6"/>
<text x="454.1" y="922.6" style="font-family:'Liberation Sans',sans-serif;font-size:14.5px;fill:#222;letter-spacing:0.8px">1999</text>
<circle cx="427.4" cy="936.8" r="3.3" fill="#22e222" stroke="#222" stroke-width="0.6"/>
<text x="454.1" y="941.5" style="font-family:'Liberation Sans',sans-serif;font-size:14.5px;fill:#222;letter-spacing:0.8px">2000</text>
<circle cx="427.4" cy="955.8" r="3.3" fill="#f5861f" stroke="#222" stroke-width="0.6"/>
<text x="454.1" y="960.5" style="font-family:'Liberation Sans',sans-serif;font-size:14.5px;fill:#222;letter-spacing:0.8px">2010</text>
<line x1="794.5" y1="746.5" x2="794.5" y2="1056" stroke="#8a8a8a" stroke-width="1.3"/>
<line x1="794" y1="1055.4" x2="1231.5" y2="1055.4" stroke="#8a8a8a" stroke-width="1.3"/>
<line x1="791.5" y1="1055.4" x2="794.5" y2="1055.4" stroke="#8a8a8a" stroke-width="1.2"/>
<text x="785.5" y="1059.4" text-anchor="end" style="font-family:'Liberation Sans',sans-serif;font-size:11.5px;fill:#444">0</text>
<line x1="791.5" y1="1000.7" x2="794.5" y2="1000.7" stroke="#8a8a8a" stroke-width="1.2"/>
<text x="785.5" y="1004.7" text-anchor="end" style="font-family:'Liberation Sans',sans-serif;font-size:11.5px;fill:#444">50</text>
<line x1="791.5" y1="945.9" x2="794.5" y2="945.9" stroke="#8a8a8a" stroke-width="1.2"/>
<text x="785.5" y="949.9" text-anchor="end" style="font-family:'Liberation Sans',sans-serif;font-size:11.5px;fill:#444">100</text>
<line x1="791.5" y1="891.2" x2="794.5" y2="891.2" stroke="#8a8a8a" stroke-width="1.2"/>
<text x="785.5" y="895.2" text-anchor="end" style="font-family:'Liberation Sans',sans-serif;font-size:11.5px;fill:#444">150</text>
<line x1="791.5" y1="836.4" x2="794.5" y2="836.4" stroke="#8a8a8a" stroke-width="1.2"/>
<text x="785.5" y="840.4" text-anchor="end" style="font-family:'Liberation Sans',sans-serif;font-size:11.5px;fill:#444">200</text>
<line x1="791.5" y1="781.7" x2="794.5" y2="781.7" stroke="#8a8a8a" stroke-width="1.2"/>
<text x="785.5" y="785.7" text-anchor="end" style="font-family:'Liberation Sans',sans-serif;font-size:11.5px;fill:#444">250</text>
<line x1="794.5" y1="1055.4" x2="794.5" y2="1058.5" stroke="#8a8a8a" stroke-width="1.2"/>
<text x="794.5" y="1074" text-anchor="middle" style="font-family:'Liberation Sans',sans-serif;font-size:11.5px;fill:#444">0</text>
<line x1="892.9" y1="1055.4" x2="892.9" y2="1058.5" stroke="#8a8a8a" stroke-width="1.2"/>
<text x="892.9" y="1074" text-anchor="middle" style="font-family:'Liberation Sans',sans-serif;font-size:11.5px;fill:#444">500</text>
<line x1="991.3" y1="1055.4" x2="991.3" y2="1058.5" stroke="#8a8a8a" stroke-width="1.2"/>
<text x="991.3" y="1074" text-anchor="middle" style="font-family:'Liberation Sans',sans-serif;font-size:11.5px;fill:#444">1000</text>
<line x1="1089.7" y1="1055.4" x2="1089.7" y2="1058.5" stroke="#8a8a8a" stroke-width="1.2"/>
<text x="1089.7" y="1074" text-anchor="middle" style="font-family:'Liberation Sans',sans-serif;font-size:11.5px;fill:#444">1500</text>
<line x1="1188.1" y1="1055.4" x2="1188.1" y2="1058.5" stroke="#8a8a8a" stroke-width="1.2"/>
<text x="1188.1" y="1074" text-anchor="middle" style="font-family:'Liberation Sans',sans-serif;font-size:11.5px;fill:#444">2000</text>
<text x="1042.7" y="1096.5" text-anchor="middle" style="font-family:'Liberation Sans',sans-serif;font-weight:bold;font-size:14.4px;fill:#222">Depth (m)</text>
<text transform="translate(756.8,892.5) rotate(-90)" text-anchor="middle" style="font-family:'Liberation Sans',sans-serif;font-weight:bold;font-size:14.1px;fill:#222">DO (μmol kg<tspan dy="-5" font-size="9px">-1</tspan><tspan dy="5">)</tspan></text>
<circle cx="1128.0" cy="802.5" r="2.3" class="s9"/>
<circle cx="830.9" cy="935.6" r="2.3" class="s5"/>
<circle cx="1030.6" cy="837.5" r="2.3" class="s3"/>
<circle cx="1129.1" cy="787.0" r="2.3" class="s3"/>
<circle cx="1089.8" cy="803.9" r="2.3" class="s3"/>
<circle cx="893.5" cy="902.6" r="2.3" class="s5"/>
<circle cx="1011.1" cy="868.5" r="2.3" class="s3"/>
<circle cx="913.2" cy="901.5" r="2.3" class="s9"/>
<circle cx="1189.3" cy="791.9" r="2.3" class="s9"/>
<circle cx="1128.6" cy="795.7" r="2.3" class="s2"/>
<circle cx="1050.8" cy="847.8" r="2.3" class="s8"/>
<circle cx="971.8" cy="900.9" r="2.3" class="s9"/>
<circle cx="1087.5" cy="796.5" r="2.3" class="s9"/>
<circle cx="951.4" cy="903.3" r="2.3" class="s3"/>
<circle cx="831.8" cy="973.2" r="2.3" class="s9"/>
<circle cx="971.9" cy="905.2" r="2.3" class="s7"/>
<circle cx="1011.3" cy="884.4" r="2.3" class="s8"/>
<circle cx="1168.6" cy="783.0" r="2.3" class="s3"/>
<circle cx="892.8" cy="923.1" r="2.3" class="s3"/>
<circle cx="870.4" cy="965.2" r="2.3" class="s3"/>
<circle cx="1011.7" cy="862.9" r="2.3" class="s7"/>
<circle cx="1148.9" cy="794.2" r="2.3" class="s3"/>
<circle cx="911.9" cy="896.1" r="2.3" class="s1"/>
<circle cx="873.4" cy="986.9" r="2.3" class="s3"/>
<circle cx="1160.7" cy="798.2" r="2.3" class="s9"/>
<circle cx="865.7" cy="943.3" r="2.3" class="s3"/>
<circle cx="1069.4" cy="822.9" r="2.3" class="s9"/>
<circle cx="855.4" cy="973.8" r="2.3" class="s8"/>
<circle cx="1096.5" cy="813.4" r="2.3" class="s5"/>
<circle cx="1045.4" cy="850.0" r="2.3" class="s9"/>
<circle cx="1070.7" cy="814.0" r="2.3" class="s9"/>
<circle cx="899.6" cy="920.2" r="2.3" class="s9"/>
<circle cx="831.0" cy="937.0" r="2.3" class="s8"/>
<circle cx="831.7" cy="931.3" r="2.3" class="s3"/>
<circle cx="942.6" cy="897.2" r="2.3" class="s9"/>
<circle cx="1169.0" cy="782.5" r="2.3" class="s9"/>
<circle cx="1058.3" cy="839.5" r="2.3" class="s1"/>
<circle cx="1030.7" cy="857.1" r="2.3" class="s3"/>
<circle cx="1049.6" cy="847.8" r="2.3" class="s9"/>
<circle cx="1129.4" cy="796.9" r="2.3" class="s6"/>
<circle cx="852.9" cy="973.9" r="2.3" class="s9"/>
<circle cx="1069.3" cy="838.4" r="2.3" class="s9"/>
<circle cx="1189.0" cy="790.6" r="2.3" class="s3"/>
<circle cx="1168.1" cy="789.6" r="2.3" class="s9"/>
<circle cx="1077.1" cy="825.9" r="2.3" class="s1"/>
<circle cx="1096.3" cy="826.3" r="2.3" class="s2"/>
<circle cx="893.1" cy="914.3" r="2.3" class="s9"/>
<circle cx="1168.2" cy="784.5" r="2.3" class="s9"/>
<circle cx="836.5" cy="967.1" r="2.3" class="s3"/>
<circle cx="1192.7" cy="782.7" r="2.3" class="s3"/>
<circle cx="1109.4" cy="796.3" r="2.3" class="s9"/>
<circle cx="1108.8" cy="800.5" r="2.3" class="s9"/>
<circle cx="838.5" cy="962.3" r="2.3" class="s9"/>
<circle cx="1204.3" cy="784.8" r="2.3" class="s3"/>
<circle cx="882.9" cy="947.3" r="2.3" class="s3"/>
<circle cx="950.6" cy="915.2" r="2.3" class="s4"/>
<circle cx="1061.0" cy="835.4" r="2.3" class="s2"/>
<circle cx="1188.4" cy="784.0" r="2.3" class="s2"/>
<circle cx="1033.3" cy="860.5" r="2.3" class="s3"/>
<circle cx="1150.7" cy="789.9" r="2.3" class="s9"/>
<circle cx="864.4" cy="973.0" r="2.3" class="s7"/>
<circle cx="912.9" cy="906.9" r="2.3" class="s6"/>
<circle cx="932.2" cy="918.0" r="2.3" class="s9"/>
<circle cx="1070.3" cy="810.5" r="2.3" class="s9"/>
<circle cx="923.2" cy="925.8" r="2.3" class="s9"/>
<circle cx="1055.7" cy="833.4" r="2.3" class="s0"/>
<circle cx="883.3" cy="942.0" r="2.3" class="s8"/>
<circle cx="1021.2" cy="873.8" r="2.3" class="s9"/>
<circle cx="883.7" cy="967.1" r="2.3" class="s3"/>
<circle cx="831.9" cy="935.5" r="2.3" class="s9"/>
<circle cx="991.4" cy="883.9" r="2.3" class="s3"/>
<circle cx="1070.4" cy="838.9" r="2.3" class="s7"/>
<circle cx="889.5" cy="935.8" r="2.3" class="s7"/>
<circle cx="1089.8" cy="798.3" r="2.3" class="s9"/>
<circle cx="1109.9" cy="811.5" r="2.3" class="s3"/>
<circle cx="843.4" cy="977.5" r="2.3" class="s9"/>
<circle cx="838.3" cy="964.4" r="2.3" class="s9"/>
<circle cx="1051.1" cy="826.9" r="2.3" class="s9"/>
<circle cx="838.8" cy="950.3" r="2.3" class="s8"/>
<circle cx="885.5" cy="942.0" r="2.3" class="s9"/>
<circle cx="922.1" cy="894.6" r="2.3" class="s4"/>
<circle cx="971.9" cy="880.2" r="2.3" class="s3"/>
<circle cx="1070.1" cy="815.3" r="2.3" class="s3"/>
<circle cx="1013.8" cy="871.3" r="2.3" class="s9"/>
<circle cx="891.9" cy="965.9" r="2.3" class="s0"/>
<circle cx="863.3" cy="1004.1" r="2.3" class="s3"/>
<circle cx="831.5" cy="956.2" r="2.3" class="s6"/>
<circle cx="1011.6" cy="878.7" r="2.3" class="s0"/>
<circle cx="1029.1" cy="857.2" r="2.3" class="s9"/>
<circle cx="1070.3" cy="820.7" r="2.3" class="s3"/>
<circle cx="951.7" cy="902.8" r="2.3" class="s6"/>
<circle cx="1175.1" cy="796.6" r="2.3" class="s9"/>
<circle cx="1109.6" cy="810.2" r="2.3" class="s9"/>
<circle cx="873.4" cy="955.1" r="2.3" class="s3"/>
<circle cx="863.3" cy="949.3" r="2.3" class="s3"/>
<circle cx="882.7" cy="956.8" r="2.3" class="s0"/>
<circle cx="1200.9" cy="788.2" r="2.3" class="s9"/>
<circle cx="881.0" cy="958.2" r="2.3" class="s9"/>
<circle cx="1161.6" cy="795.7" r="2.3" class="s3"/>
<circle cx="971.7" cy="907.3" r="2.3" class="s9"/>
<circle cx="852.9" cy="997.7" r="2.3" class="s0"/>
<circle cx="926.5" cy="905.6" r="2.3" class="s9"/>
<circle cx="952.5" cy="919.4" r="2.3" class="s9"/>
<circle cx="910.7" cy="943.5" r="2.3" class="s7"/>
<circle cx="1203.2" cy="782.0" r="2.3" class="s9"/>
<circle cx="1080.2" cy="813.8" r="2.3" class="s9"/>
<circle cx="872.8" cy="972.9" r="2.3" class="s3"/>
<circle cx="1129.2" cy="795.0" r="2.3" class="s3"/>
<circle cx="963.9" cy="910.6" r="2.3" class="s7"/>
<circle cx="875.7" cy="939.3" r="2.3" class="s5"/>
<circle cx="853.9" cy="977.1" r="2.3" class="s9"/>
<circle cx="1030.1" cy="861.1" r="2.3" class="s9"/>
<circle cx="892.6" cy="967.2" r="2.3" class="s1"/>
<circle cx="1008.5" cy="890.6" r="2.3" class="s9"/>
<circle cx="1090.0" cy="805.5" r="2.3" class="s3"/>
<circle cx="838.4" cy="922.7" r="2.3" class="s3"/>
<circle cx="1108.7" cy="802.7" r="2.3" class="s9"/>
<circle cx="1049.6" cy="847.1" r="2.3" class="s0"/>
<circle cx="831.9" cy="953.5" r="2.3" class="s9"/>
<circle cx="1031.1" cy="834.0" r="2.3" class="s9"/>
<circle cx="950.8" cy="920.7" r="2.3" class="s9"/>
<circle cx="991.3" cy="876.3" r="2.3" class="s7"/>
<circle cx="1129.8" cy="802.2" r="2.3" class="s5"/>
<circle cx="843.8" cy="939.2" r="2.3" class="s5"/>
<circle cx="844.1" cy="1002.4" r="2.3" class="s9"/>
<circle cx="1168.6" cy="793.3" r="2.3" class="s9"/>
<circle cx="863.0" cy="991.1" r="2.3" class="s9"/>
<circle cx="919.4" cy="911.1" r="2.3" class="s8"/>
<circle cx="1120.6" cy="783.2" r="2.3" class="s9"/>
<circle cx="1030.5" cy="853.3" r="2.3" class="s5"/>
<circle cx="893.7" cy="910.1" r="2.3" class="s0"/>
<circle cx="1037.1" cy="846.7" r="2.3" class="s3"/>
<circle cx="994.3" cy="904.6" r="2.3" class="s1"/>
<circle cx="1148.8" cy="790.2" r="2.3" class="s9"/>
<circle cx="952.1" cy="896.3" r="2.3" class="s9"/>
<circle cx="922.7" cy="928.7" r="2.3" class="s3"/>
<circle cx="1179.8" cy="776.1" r="2.3" class="s6"/>
<circle cx="1109.1" cy="793.7" r="2.3" class="s7"/>
<circle cx="1168.6" cy="791.3" r="2.3" class="s9"/>
<circle cx="892.7" cy="896.5" r="2.3" class="s9"/>
<circle cx="1070.4" cy="834.8" r="2.3" class="s3"/>
<circle cx="843.7" cy="974.5" r="2.3" class="s7"/>
<circle cx="1041.8" cy="834.6" r="2.3" class="s3"/>
<circle cx="1203.5" cy="787.8" r="2.3" class="s6"/>
<circle cx="1202.8" cy="801.6" r="2.3" class="s3"/>
<circle cx="923.5" cy="929.5" r="2.3" class="s3"/>
<circle cx="888.0" cy="917.5" r="2.3" class="s5"/>
<circle cx="1103.5" cy="808.4" r="2.3" class="s3"/>
<circle cx="838.3" cy="930.1" r="2.3" class="s3"/>
<circle cx="922.5" cy="898.0" r="2.3" class="s3"/>
<circle cx="1030.6" cy="845.6" r="2.3" class="s9"/>
<circle cx="839.3" cy="916.7" r="2.3" class="s9"/>
<circle cx="873.3" cy="982.4" r="2.3" class="s9"/>
<circle cx="912.9" cy="906.3" r="2.3" class="s7"/>
<circle cx="1030.4" cy="828.9" r="2.3" class="s0"/>
<circle cx="913.7" cy="921.2" r="2.3" class="s1"/>
<circle cx="1203.6" cy="786.2" r="2.3" class="s3"/>
<circle cx="1014.4" cy="875.0" r="2.3" class="s3"/>
<circle cx="932.2" cy="906.5" r="2.3" class="s9"/>
<circle cx="1005.1" cy="886.1" r="2.3" class="s3"/>
<circle cx="1031.2" cy="836.5" r="2.3" class="s3"/>
<circle cx="1089.3" cy="796.4" r="2.3" class="s9"/>
<circle cx="905.3" cy="936.6" r="2.3" class="s8"/>
<circle cx="931.7" cy="899.3" r="2.3" class="s3"/>
<circle cx="1030.4" cy="855.0" r="2.3" class="s9"/>
<circle cx="842.0" cy="990.7" r="2.3" class="s6"/>
<circle cx="1084.8" cy="798.9" r="2.3" class="s4"/>
<circle cx="882.9" cy="953.0" r="2.3" class="s9"/>
<circle cx="972.1" cy="891.7" r="2.3" class="s3"/>
<circle cx="1149.1" cy="795.3" r="2.3" class="s0"/>
<circle cx="843.2" cy="975.0" r="2.3" class="s3"/>
<circle cx="1112.2" cy="791.0" r="2.3" class="s9"/>
<circle cx="984.6" cy="891.4" r="2.3" class="s8"/>
<circle cx="902.6" cy="951.1" r="2.3" class="s9"/>
<circle cx="951.7" cy="908.0" r="2.3" class="s9"/>
<circle cx="991.6" cy="890.0" r="2.3" class="s9"/>
<circle cx="843.3" cy="994.6" r="2.3" class="s0"/>
<circle cx="838.0" cy="986.8" r="2.3" class="s9"/>
<circle cx="873.4" cy="937.9" r="2.3" class="s9"/>
<circle cx="951.5" cy="917.6" r="2.3" class="s0"/>
<circle cx="1070.8" cy="818.6" r="2.3" class="s3"/>
<circle cx="990.0" cy="888.6" r="2.3" class="s9"/>
<circle cx="902.9" cy="912.6" r="2.3" class="s9"/>
<circle cx="853.6" cy="996.6" r="2.3" class="s9"/>
<circle cx="834.7" cy="957.7" r="2.3" class="s9"/>
<circle cx="863.5" cy="952.2" r="2.3" class="s5"/>
<circle cx="902.4" cy="917.9" r="2.3" class="s9"/>
<circle cx="1050.1" cy="849.0" r="2.3" class="s3"/>
<circle cx="999.2" cy="894.0" r="2.3" class="s8"/>
<circle cx="853.2" cy="1004.7" r="2.3" class="s3"/>
<circle cx="1148.7" cy="786.0" r="2.3" class="s9"/>
<circle cx="852.4" cy="976.9" r="2.3" class="s3"/>
<circle cx="831.5" cy="958.5" r="2.3" class="s3"/>
<circle cx="1049.9" cy="843.8" r="2.3" class="s3"/>
<circle cx="1011.5" cy="884.7" r="2.3" class="s9"/>
<circle cx="872.6" cy="961.9" r="2.3" class="s9"/>
<circle cx="855.8" cy="925.7" r="2.3" class="s3"/>
<circle cx="848.7" cy="950.9" r="2.3" class="s9"/>
<circle cx="1011.0" cy="884.2" r="2.3" class="s3"/>
<circle cx="850.2" cy="962.4" r="2.3" class="s6"/>
<circle cx="1140.7" cy="791.6" r="2.3" class="s3"/>
<circle cx="1089.9" cy="809.3" r="2.3" class="s3"/>
<circle cx="889.2" cy="941.9" r="2.3" class="s9"/>
<circle cx="1069.8" cy="836.2" r="2.3" class="s9"/>
<circle cx="1031.6" cy="839.0" r="2.3" class="s3"/>
<circle cx="853.8" cy="947.0" r="2.3" class="s6"/>
<circle cx="971.2" cy="901.0" r="2.3" class="s9"/>
<circle cx="1148.3" cy="795.1" r="2.3" class="s3"/>
<circle cx="972.0" cy="887.9" r="2.3" class="s9"/>
<circle cx="918.5" cy="917.3" r="2.3" class="s1"/>
<circle cx="882.5" cy="933.6" r="2.3" class="s0"/>
<circle cx="1128.6" cy="795.4" r="2.3" class="s4"/>
<circle cx="972.2" cy="898.1" r="2.3" class="s9"/>
<circle cx="1062.5" cy="834.3" r="2.3" class="s9"/>
<circle cx="981.8" cy="893.4" r="2.3" class="s3"/>
<circle cx="853.7" cy="1001.6" r="2.3" class="s9"/>
<circle cx="993.1" cy="884.9" r="2.3" class="s3"/>
<circle cx="893.0" cy="919.8" r="2.3" class="s7"/>
<circle cx="1050.0" cy="831.9" r="2.3" class="s8"/>
<circle cx="911.3" cy="904.5" r="2.3" class="s6"/>
<circle cx="892.3" cy="978.4" r="2.3" class="s9"/>
<circle cx="1148.8" cy="790.8" r="2.3" class="s9"/>
<circle cx="843.2" cy="990.0" r="2.3" class="s3"/>
<circle cx="1108.6" cy="808.3" r="2.3" class="s6"/>
<circle cx="872.2" cy="999.3" r="2.3" class="s9"/>
<circle cx="1040.3" cy="853.5" r="2.3" class="s8"/>
<circle cx="1109.7" cy="802.0" r="2.3" class="s7"/>
<circle cx="908.2" cy="917.8" r="2.3" class="s6"/>
<circle cx="1011.5" cy="874.1" r="2.3" class="s0"/>
<circle cx="883.5" cy="955.6" r="2.3" class="s9"/>
<circle cx="1149.7" cy="784.2" r="2.3" class="s9"/>
<circle cx="991.4" cy="898.1" r="2.3" class="s5"/>
<circle cx="853.8" cy="966.5" r="2.3" class="s9"/>
<circle cx="1094.9" cy="815.6" r="2.3" class="s7"/>
<circle cx="1011.1" cy="882.2" r="2.3" class="s0"/>
<circle cx="1176.4" cy="778.4" r="2.3" class="s6"/>
<circle cx="853.3" cy="997.3" r="2.3" class="s9"/>
<circle cx="952.0" cy="886.1" r="2.3" class="s9"/>
<circle cx="853.5" cy="972.6" r="2.3" class="s8"/>
<circle cx="831.8" cy="909.9" r="2.3" class="s3"/>
<circle cx="971.1" cy="891.4" r="2.3" class="s7"/>
<circle cx="887.0" cy="934.0" r="2.3" class="s9"/>
<circle cx="1070.0" cy="832.2" r="2.3" class="s9"/>
<circle cx="970.6" cy="889.2" r="2.3" class="s9"/>
<circle cx="854.0" cy="956.6" r="2.3" class="s4"/>
<circle cx="1141.1" cy="796.8" r="2.3" class="s6"/>
<circle cx="893.6" cy="954.4" r="2.3" class="s9"/>
<circle cx="938.2" cy="917.5" r="2.3" class="s9"/>
<circle cx="973.2" cy="891.0" r="2.3" class="s9"/>
<circle cx="1126.5" cy="798.6" r="2.3" class="s9"/>
<circle cx="1203.4" cy="779.5" r="2.3" class="s6"/>
<circle cx="1188.6" cy="793.3" r="2.3" class="s5"/>
<circle cx="882.8" cy="946.1" r="2.3" class="s9"/>
<circle cx="1010.7" cy="879.7" r="2.3" class="s9"/>
<circle cx="1201.4" cy="790.4" r="2.3" class="s1"/>
<circle cx="838.8" cy="981.4" r="2.3" class="s7"/>
<circle cx="843.2" cy="953.6" r="2.3" class="s6"/>
<circle cx="863.4" cy="954.6" r="2.3" class="s5"/>
<circle cx="1040.9" cy="858.0" r="2.3" class="s2"/>
<circle cx="1168.6" cy="786.0" r="2.3" class="s6"/>
<circle cx="952.3" cy="886.3" r="2.3" class="s6"/>
<circle cx="1109.5" cy="799.6" r="2.3" class="s6"/>
<circle cx="1129.2" cy="801.2" r="2.3" class="s9"/>
<circle cx="884.2" cy="968.7" r="2.3" class="s3"/>
<circle cx="840.2" cy="921.3" r="2.3" class="s9"/>
<circle cx="982.6" cy="904.6" r="2.3" class="s9"/>
<circle cx="952.4" cy="895.4" r="2.3" class="s9"/>
<circle cx="831.9" cy="942.1" r="2.3" class="s5"/>
<circle cx="1030.6" cy="853.3" r="2.3" class="s0"/>
<circle cx="1011.0" cy="905.4" r="2.3" class="s8"/>
<circle cx="863.3" cy="989.9" r="2.3" class="s3"/>
<circle cx="902.5" cy="951.8" r="2.3" class="s9"/>
<circle cx="1069.5" cy="815.2" r="2.3" class="s3"/>
<circle cx="1069.6" cy="813.2" r="2.3" class="s9"/>
<circle cx="952.2" cy="916.7" r="2.3" class="s3"/>
<circle cx="1029.0" cy="860.5" r="2.3" class="s9"/>
<circle cx="1092.8" cy="812.7" r="2.3" class="s9"/>
<circle cx="940.9" cy="900.2" r="2.3" class="s3"/>
<circle cx="1154.6" cy="777.3" r="2.3" class="s6"/>
<circle cx="1136.6" cy="787.9" r="2.3" class="s2"/>
<circle cx="1128.8" cy="792.3" r="2.3" class="s1"/>
<circle cx="844.4" cy="986.9" r="2.3" class="s0"/>
<circle cx="1058.8" cy="830.6" r="2.3" class="s3"/>
<circle cx="863.1" cy="968.8" r="2.3" class="s9"/>
<circle cx="991.7" cy="891.5" r="2.3" class="s9"/>
<circle cx="832.2" cy="973.1" r="2.3" class="s9"/>
<circle cx="833.3" cy="955.8" r="2.3" class="s7"/>
<circle cx="838.9" cy="931.3" r="2.3" class="s3"/>
<circle cx="950.1" cy="914.7" r="2.3" class="s1"/>
<circle cx="892.5" cy="943.6" r="2.3" class="s9"/>
<circle cx="1104.9" cy="799.5" r="2.3" class="s8"/>
<circle cx="1089.4" cy="797.2" r="2.3" class="s3"/>
<circle cx="992.1" cy="882.9" r="2.3" class="s1"/>
<circle cx="1129.2" cy="785.0" r="2.3" class="s9"/>
<circle cx="872.8" cy="999.8" r="2.3" class="s3"/>
<circle cx="1148.9" cy="792.1" r="2.3" class="s3"/>
<circle cx="892.3" cy="942.6" r="2.3" class="s9"/>
<circle cx="838.2" cy="939.9" r="2.3" class="s3"/>
<circle cx="893.4" cy="963.5" r="2.3" class="s9"/>
<circle cx="853.4" cy="1005.4" r="2.3" class="s6"/>
<circle cx="863.2" cy="982.3" r="2.3" class="s3"/>
<circle cx="1149.2" cy="792.9" r="2.3" class="s0"/>
<circle cx="1188.0" cy="787.8" r="2.3" class="s3"/>
<circle cx="912.9" cy="924.1" r="2.3" class="s9"/>
<circle cx="1089.9" cy="807.7" r="2.3" class="s9"/>
<circle cx="1070.0" cy="834.0" r="2.3" class="s9"/>
<circle cx="1033.2" cy="870.6" r="2.3" class="s9"/>
<circle cx="912.0" cy="950.2" r="2.3" class="s9"/>
<circle cx="1203.6" cy="782.2" r="2.3" class="s3"/>
<circle cx="1025.2" cy="867.7" r="2.3" class="s8"/>
<circle cx="952.1" cy="911.4" r="2.3" class="s7"/>
<circle cx="1143.8" cy="797.6" r="2.3" class="s2"/>
<circle cx="971.9" cy="897.0" r="2.3" class="s3"/>
<circle cx="1168.6" cy="794.7" r="2.3" class="s7"/>
<circle cx="1002.1" cy="881.7" r="2.3" class="s3"/>
<circle cx="918.9" cy="911.6" r="2.3" class="s3"/>
<circle cx="1149.3" cy="794.0" r="2.3" class="s9"/>
<circle cx="1030.4" cy="834.9" r="2.3" class="s3"/>
<circle cx="1089.8" cy="819.6" r="2.3" class="s7"/>
<circle cx="951.9" cy="924.0" r="2.3" class="s8"/>
<circle cx="863.7" cy="986.1" r="2.3" class="s9"/>
<circle cx="952.7" cy="910.5" r="2.3" class="s3"/>
<circle cx="832.3" cy="919.0" r="2.3" class="s9"/>
<circle cx="1069.8" cy="842.2" r="2.3" class="s3"/>
<circle cx="912.4" cy="941.6" r="2.3" class="s7"/>
<circle cx="903.1" cy="958.3" r="2.3" class="s3"/>
<circle cx="1031.0" cy="841.9" r="2.3" class="s5"/>
<circle cx="872.9" cy="980.9" r="2.3" class="s9"/>
<circle cx="1103.7" cy="810.4" r="2.3" class="s2"/>
<circle cx="936.2" cy="935.0" r="2.3" class="s6"/>
<circle cx="903.3" cy="956.1" r="2.3" class="s1"/>
<circle cx="1149.0" cy="796.4" r="2.3" class="s8"/>
<circle cx="893.3" cy="940.6" r="2.3" class="s6"/>
<circle cx="931.8" cy="919.6" r="2.3" class="s3"/>
<circle cx="912.5" cy="899.4" r="2.3" class="s3"/>
<circle cx="1050.5" cy="843.5" r="2.3" class="s3"/>
<circle cx="956.0" cy="884.1" r="2.3" class="s9"/>
<circle cx="882.7" cy="954.8" r="2.3" class="s3"/>
<circle cx="1095.3" cy="791.5" r="2.3" class="s8"/>
<circle cx="989.3" cy="884.3" r="2.3" class="s3"/>
<circle cx="1188.8" cy="792.7" r="2.3" class="s1"/>
<circle cx="863.8" cy="997.8" r="2.3" class="s5"/>
<circle cx="873.3" cy="947.4" r="2.3" class="s5"/>
<circle cx="969.8" cy="879.6" r="2.3" class="s3"/>
<circle cx="1001.0" cy="883.7" r="2.3" class="s1"/>
<circle cx="1096.1" cy="806.8" r="2.3" class="s9"/>
<circle cx="1148.5" cy="783.4" r="2.3" class="s6"/>
<circle cx="1200.9" cy="788.7" r="2.3" class="s3"/>
<circle cx="839.1" cy="909.7" r="2.3" class="s9"/>
<circle cx="1203.9" cy="786.4" r="2.3" class="s3"/>
<circle cx="951.5" cy="914.0" r="2.3" class="s9"/>
<circle cx="1169.0" cy="786.1" r="2.3" class="s9"/>
<circle cx="1089.7" cy="803.6" r="2.3" class="s3"/>
<circle cx="1010.2" cy="884.0" r="2.3" class="s9"/>
<circle cx="931.6" cy="917.0" r="2.3" class="s9"/>
<circle cx="1054.7" cy="853.7" r="2.3" class="s9"/>
<circle cx="920.2" cy="923.1" r="2.3" class="s9"/>
<circle cx="912.9" cy="936.8" r="2.3" class="s0"/>
<circle cx="853.5" cy="916.4" r="2.3" class="s8"/>
<circle cx="1148.6" cy="784.6" r="2.3" class="s9"/>
<circle cx="832.3" cy="916.8" r="2.3" class="s9"/>
<circle cx="912.7" cy="914.4" r="2.3" class="s8"/>
<circle cx="832.0" cy="960.1" r="2.3" class="s6"/>
<circle cx="833.1" cy="931.8" r="2.3" class="s7"/>
<circle cx="862.6" cy="975.4" r="2.3" class="s9"/>
<circle cx="854.2" cy="948.0" r="2.3" class="s9"/>
<circle cx="892.3" cy="893.4" r="2.3" class="s9"/>
<circle cx="902.7" cy="902.7" r="2.3" class="s9"/>
<circle cx="872.7" cy="1000.5" r="2.3" class="s3"/>
<circle cx="917.1" cy="916.1" r="2.3" class="s3"/>
<circle cx="913.0" cy="925.7" r="2.3" class="s9"/>
<circle cx="883.1" cy="992.9" r="2.3" class="s9"/>
<circle cx="1167.6" cy="792.5" r="2.3" class="s3"/>
<circle cx="845.5" cy="992.2" r="2.3" class="s9"/>
<circle cx="843.9" cy="977.8" r="2.3" class="s2"/>
<circle cx="1148.0" cy="794.8" r="2.3" class="s6"/>
<circle cx="941.7" cy="909.0" r="2.3" class="s1"/>
<circle cx="874.1" cy="953.9" r="2.3" class="s9"/>
<circle cx="1010.7" cy="876.1" r="2.3" class="s1"/>
<circle cx="872.4" cy="936.1" r="2.3" class="s1"/>
<circle cx="1089.1" cy="798.3" r="2.3" class="s3"/>
<circle cx="1203.4" cy="790.2" r="2.3" class="s3"/>
<circle cx="882.8" cy="929.6" r="2.3" class="s3"/>
<circle cx="1149.0" cy="782.9" r="2.3" class="s3"/>
<circle cx="1128.7" cy="795.4" r="2.3" class="s0"/>
<circle cx="912.7" cy="928.5" r="2.3" class="s3"/>
<circle cx="854.0" cy="954.3" r="2.3" class="s9"/>
<circle cx="844.1" cy="975.6" r="2.3" class="s9"/>
<circle cx="883.0" cy="973.6" r="2.3" class="s3"/>
<circle cx="1061.8" cy="840.3" r="2.3" class="s4"/>
<circle cx="912.2" cy="893.1" r="2.3" class="s2"/>
<circle cx="863.2" cy="967.9" r="2.3" class="s3"/>
<circle cx="991.3" cy="905.4" r="2.3" class="s8"/>
<circle cx="1125.4" cy="795.0" r="2.3" class="s7"/>
<circle cx="851.8" cy="963.6" r="2.3" class="s9"/>
<circle cx="1204.1" cy="786.6" r="2.3" class="s6"/>
<circle cx="1101.0" cy="800.4" r="2.3" class="s6"/>
<circle cx="842.8" cy="979.6" r="2.3" class="s7"/>
<circle cx="1068.9" cy="830.2" r="2.3" class="s3"/>
<circle cx="838.3" cy="946.8" r="2.3" class="s9"/>
<circle cx="871.4" cy="969.1" r="2.3" class="s3"/>
<circle cx="991.4" cy="884.6" r="2.3" class="s3"/>
<circle cx="1149.1" cy="793.2" r="2.3" class="s9"/>
<circle cx="1188.4" cy="790.6" r="2.3" class="s9"/>
<circle cx="857.6" cy="991.3" r="2.3" class="s7"/>
<circle cx="991.7" cy="885.3" r="2.3" class="s3"/>
<circle cx="903.4" cy="919.7" r="2.3" class="s3"/>
<circle cx="1188.5" cy="780.7" r="2.3" class="s3"/>
<circle cx="1128.7" cy="800.5" r="2.3" class="s9"/>
<circle cx="949.2" cy="899.9" r="2.3" class="s3"/>
<circle cx="932.5" cy="933.5" r="2.3" class="s3"/>
<circle cx="1070.4" cy="841.4" r="2.3" class="s3"/>
<circle cx="873.6" cy="959.4" r="2.3" class="s3"/>
<circle cx="890.2" cy="912.7" r="2.3" class="s9"/>
<circle cx="839.2" cy="922.8" r="2.3" class="s9"/>
<circle cx="838.9" cy="941.1" r="2.3" class="s9"/>
<circle cx="1070.2" cy="817.9" r="2.3" class="s9"/>
<circle cx="1203.8" cy="784.3" r="2.3" class="s9"/>
<circle cx="1204.3" cy="788.9" r="2.3" class="s5"/>
<circle cx="1168.2" cy="783.7" r="2.3" class="s1"/>
<circle cx="1096.7" cy="814.1" r="2.3" class="s9"/>
<circle cx="1109.0" cy="809.3" r="2.3" class="s6"/>
<circle cx="1076.6" cy="832.1" r="2.3" class="s3"/>
<circle cx="1139.9" cy="791.1" r="2.3" class="s3"/>
<circle cx="848.9" cy="973.3" r="2.3" class="s6"/>
<circle cx="1070.5" cy="814.1" r="2.3" class="s3"/>
<circle cx="971.3" cy="889.6" r="2.3" class="s0"/>
<circle cx="952.3" cy="914.4" r="2.3" class="s9"/>
<circle cx="844.3" cy="993.0" r="2.3" class="s3"/>
<circle cx="933.4" cy="929.8" r="2.3" class="s9"/>
<circle cx="932.9" cy="916.7" r="2.3" class="s6"/>
<circle cx="1109.4" cy="806.7" r="2.3" class="s3"/>
<circle cx="1011.6" cy="877.4" r="2.3" class="s3"/>
<circle cx="845.9" cy="965.6" r="2.3" class="s6"/>
<circle cx="832.2" cy="953.3" r="2.3" class="s3"/>
<circle cx="854.5" cy="971.9" r="2.3" class="s9"/>
<circle cx="882.6" cy="953.2" r="2.3" class="s3"/>
<circle cx="954.1" cy="903.2" r="2.3" class="s1"/>
<circle cx="1088.0" cy="817.2" r="2.3" class="s9"/>
<circle cx="1094.1" cy="806.4" r="2.3" class="s1"/>
<circle cx="892.7" cy="935.6" r="2.3" class="s3"/>
<circle cx="932.2" cy="931.1" r="2.3" class="s3"/>
<circle cx="1069.8" cy="823.3" r="2.3" class="s9"/>
<circle cx="1183.0" cy="795.5" r="2.3" class="s3"/>
<circle cx="888.3" cy="930.9" r="2.3" class="s3"/>
<circle cx="853.2" cy="970.8" r="2.3" class="s5"/>
<circle cx="902.9" cy="945.2" r="2.3" class="s5"/>
<circle cx="844.4" cy="968.8" r="2.3" class="s6"/>
<circle cx="1011.1" cy="886.4" r="2.3" class="s2"/>
<circle cx="1193.4" cy="793.1" r="2.3" class="s9"/>
<circle cx="922.2" cy="914.9" r="2.3" class="s3"/>
<circle cx="1149.5" cy="796.6" r="2.3" class="s0"/>
<circle cx="1130.0" cy="786.1" r="2.3" class="s3"/>
<circle cx="966.6" cy="907.3" r="2.3" class="s9"/>
<circle cx="873.1" cy="993.9" r="2.3" class="s7"/>
<circle cx="882.7" cy="954.6" r="2.3" class="s3"/>
<circle cx="852.9" cy="957.2" r="2.3" class="s1"/>
<circle cx="867.3" cy="990.1" r="2.3" class="s1"/>
<circle cx="844.9" cy="970.8" r="2.3" class="s3"/>
<circle cx="1031.0" cy="856.3" r="2.3" class="s9"/>
<circle cx="1189.5" cy="777.8" r="2.3" class="s8"/>
<circle cx="1069.5" cy="819.2" r="2.3" class="s9"/>
<circle cx="838.5" cy="973.9" r="2.3" class="s1"/>
<circle cx="1122.0" cy="798.2" r="2.3" class="s2"/>
<circle cx="1052.3" cy="845.4" r="2.3" class="s5"/>
<circle cx="951.5" cy="899.0" r="2.3" class="s7"/>
<circle cx="1147.6" cy="790.5" r="2.3" class="s9"/>
<circle cx="843.4" cy="954.9" r="2.3" class="s1"/>
<circle cx="870.7" cy="976.9" r="2.3" class="s9"/>
<circle cx="867.1" cy="956.9" r="2.3" class="s3"/>
<circle cx="1203.9" cy="778.5" r="2.3" class="s9"/>
<circle cx="1070.3" cy="836.4" r="2.3" class="s9"/>
<circle cx="991.0" cy="880.8" r="2.3" class="s9"/>
<circle cx="894.5" cy="936.4" r="2.3" class="s3"/>
<circle cx="1169.5" cy="782.4" r="2.3" class="s3"/>
<circle cx="853.7" cy="990.9" r="2.3" class="s2"/>
<circle cx="1028.1" cy="868.8" r="2.3" class="s0"/>
<circle cx="882.7" cy="942.1" r="2.3" class="s7"/>
<circle cx="837.1" cy="934.0" r="2.3" class="s9"/>
<circle cx="1202.8" cy="781.3" r="2.3" class="s1"/>
<circle cx="892.9" cy="906.8" r="2.3" class="s3"/>
<circle cx="1148.8" cy="787.2" r="2.3" class="s3"/>
<circle cx="926.7" cy="892.6" r="2.3" class="s9"/>
<circle cx="952.5" cy="891.6" r="2.3" class="s7"/>
<circle cx="950.2" cy="901.2" r="2.3" class="s6"/>
<circle cx="1050.9" cy="840.5" r="2.3" class="s8"/>
<circle cx="867.2" cy="967.8" r="2.3" class="s7"/>
<circle cx="1150.1" cy="777.9" r="2.3" class="s3"/>
<circle cx="911.9" cy="948.5" r="2.3" class="s6"/>
<circle cx="864.1" cy="963.0" r="2.3" class="s9"/>
<circle cx="912.1" cy="910.8" r="2.3" class="s9"/>
<circle cx="1186.9" cy="794.1" r="2.3" class="s9"/>
<circle cx="1057.1" cy="843.6" r="2.3" class="s0"/>
<circle cx="873.2" cy="910.9" r="2.3" class="s4"/>
<circle cx="1089.6" cy="811.3" r="2.3" class="s0"/>
<circle cx="899.3" cy="920.0" r="2.3" class="s5"/>
<circle cx="952.4" cy="888.7" r="2.3" class="s3"/>
<circle cx="838.7" cy="946.0" r="2.3" class="s9"/>
<circle cx="968.1" cy="882.8" r="2.3" class="s9"/>
<circle cx="1164.6" cy="788.7" r="2.3" class="s0"/>
<circle cx="892.4" cy="965.3" r="2.3" class="s9"/>
<circle cx="911.7" cy="909.2" r="2.3" class="s3"/>
<circle cx="892.5" cy="907.4" r="2.3" class="s6"/>
<circle cx="1187.2" cy="780.7" r="2.3" class="s5"/>
<circle cx="1173.9" cy="786.6" r="2.3" class="s9"/>
<circle cx="831.3" cy="927.6" r="2.3" class="s1"/>
<circle cx="965.1" cy="892.5" r="2.3" class="s1"/>
<circle cx="950.7" cy="902.4" r="2.3" class="s9"/>
<circle cx="854.1" cy="1004.4" r="2.3" class="s2"/>
<circle cx="971.5" cy="894.9" r="2.3" class="s9"/>
<circle cx="886.3" cy="973.4" r="2.3" class="s9"/>
<circle cx="853.0" cy="975.3" r="2.3" class="s0"/>
<circle cx="873.0" cy="999.2" r="2.3" class="s2"/>
<circle cx="957.7" cy="928.1" r="2.3" class="s5"/>
<circle cx="1129.6" cy="800.9" r="2.3" class="s9"/>
<circle cx="901.2" cy="938.5" r="2.3" class="s3"/>
<circle cx="989.9" cy="892.0" r="2.3" class="s3"/>
<circle cx="1055.8" cy="835.3" r="2.3" class="s9"/>
<circle cx="854.1" cy="969.7" r="2.3" class="s9"/>
<circle cx="864.0" cy="980.0" r="2.3" class="s3"/>
<circle cx="1111.7" cy="796.9" r="2.3" class="s1"/>
<circle cx="1047.5" cy="838.4" r="2.3" class="s3"/>
<circle cx="1188.1" cy="793.7" r="2.3" class="s7"/>
<circle cx="892.7" cy="918.8" r="2.3" class="s3"/>
<circle cx="1012.9" cy="866.6" r="2.3" class="s8"/>
<circle cx="998.8" cy="895.6" r="2.3" class="s9"/>
<circle cx="1108.9" cy="801.4" r="2.3" class="s3"/>
<circle cx="991.4" cy="892.0" r="2.3" class="s9"/>
<circle cx="902.2" cy="931.1" r="2.3" class="s1"/>
<circle cx="920.7" cy="902.8" r="2.3" class="s9"/>
<circle cx="1030.7" cy="834.7" r="2.3" class="s3"/>
<circle cx="838.3" cy="927.7" r="2.3" class="s3"/>
<circle cx="922.0" cy="913.3" r="2.3" class="s3"/>
<circle cx="863.6" cy="972.1" r="2.3" class="s9"/>
<circle cx="998.1" cy="883.6" r="2.3" class="s9"/>
<circle cx="1148.9" cy="795.6" r="2.3" class="s3"/>
<circle cx="1030.0" cy="833.0" r="2.3" class="s1"/>
<circle cx="861.9" cy="998.3" r="2.3" class="s2"/>
<circle cx="920.5" cy="923.5" r="2.3" class="s9"/>
<circle cx="971.0" cy="884.3" r="2.3" class="s0"/>
<circle cx="1188.4" cy="788.7" r="2.3" class="s3"/>
<circle cx="839.2" cy="966.7" r="2.3" class="s3"/>
<circle cx="923.6" cy="900.6" r="2.3" class="s3"/>
<circle cx="1004.4" cy="877.2" r="2.3" class="s1"/>
<circle cx="958.3" cy="902.1" r="2.3" class="s8"/>
<circle cx="832.5" cy="903.2" r="2.3" class="s9"/>
<circle cx="922.4" cy="935.9" r="2.3" class="s7"/>
<circle cx="1109.1" cy="804.6" r="2.3" class="s3"/>
<circle cx="863.5" cy="1010.1" r="2.3" class="s7"/>
<circle cx="1050.7" cy="839.2" r="2.3" class="s6"/>
<circle cx="932.3" cy="931.3" r="2.3" class="s3"/>
<circle cx="952.5" cy="885.9" r="2.3" class="s6"/>
<circle cx="831.1" cy="908.3" r="2.3" class="s0"/>
<circle cx="922.6" cy="940.9" r="2.3" class="s8"/>
<circle cx="892.6" cy="970.2" r="2.3" class="s3"/>
<circle cx="1163.0" cy="778.3" r="2.3" class="s3"/>
<circle cx="990.1" cy="871.2" r="2.3" class="s3"/>
<circle cx="1030.3" cy="849.4" r="2.3" class="s9"/>
<circle cx="1074.3" cy="823.3" r="2.3" class="s3"/>
<circle cx="1006.0" cy="878.9" r="2.3" class="s5"/>
<circle cx="864.1" cy="997.6" r="2.3" class="s9"/>
<circle cx="862.6" cy="946.0" r="2.3" class="s9"/>
<circle cx="991.8" cy="885.3" r="2.3" class="s9"/>
<circle cx="952.3" cy="912.5" r="2.3" class="s9"/>
<circle cx="938.4" cy="911.2" r="2.3" class="s1"/>
<circle cx="951.9" cy="932.8" r="2.3" class="s8"/>
<circle cx="863.2" cy="962.1" r="2.3" class="s3"/>
<circle cx="991.2" cy="894.4" r="2.3" class="s2"/>
<circle cx="863.2" cy="984.7" r="2.3" class="s1"/>
<circle cx="1090.7" cy="800.3" r="2.3" class="s3"/>
<circle cx="891.9" cy="918.7" r="2.3" class="s3"/>
<circle cx="864.0" cy="984.7" r="2.3" class="s8"/>
<circle cx="837.4" cy="953.4" r="2.3" class="s8"/>
<circle cx="893.0" cy="914.1" r="2.3" class="s3"/>
<circle cx="1050.5" cy="838.5" r="2.3" class="s3"/>
<circle cx="991.6" cy="893.9" r="2.3" class="s1"/>
<circle cx="1149.0" cy="782.8" r="2.3" class="s8"/>
<circle cx="939.2" cy="910.8" r="2.3" class="s5"/>
<circle cx="873.3" cy="953.2" r="2.3" class="s8"/>
<circle cx="1108.7" cy="808.4" r="2.3" class="s0"/>
<circle cx="860.1" cy="1008.3" r="2.3" class="s0"/>
<circle cx="1064.7" cy="841.6" r="2.3" class="s9"/>
<circle cx="999.0" cy="877.0" r="2.3" class="s1"/>
<circle cx="1128.7" cy="793.1" r="2.3" class="s3"/>
<circle cx="919.7" cy="908.1" r="2.3" class="s3"/>
<circle cx="992.0" cy="899.8" r="2.3" class="s9"/>
<circle cx="872.8" cy="976.2" r="2.3" class="s9"/>
<circle cx="1109.5" cy="794.4" r="2.3" class="s8"/>
<circle cx="932.3" cy="914.9" r="2.3" class="s3"/>
<circle cx="843.2" cy="950.9" r="2.3" class="s1"/>
<circle cx="833.0" cy="910.8" r="2.3" class="s6"/>
<circle cx="1204.1" cy="789.7" r="2.3" class="s5"/>
<circle cx="863.8" cy="977.9" r="2.3" class="s6"/>
<circle cx="853.3" cy="985.2" r="2.3" class="s3"/>
<circle cx="971.6" cy="904.5" r="2.3" class="s3"/>
<circle cx="912.3" cy="944.0" r="2.3" class="s6"/>
<circle cx="1001.2" cy="870.3" r="2.3" class="s9"/>
<circle cx="1078.8" cy="809.8" r="2.3" class="s9"/>
<circle cx="1169.5" cy="783.2" r="2.3" class="s3"/>
<circle cx="1056.8" cy="851.8" r="2.3" class="s3"/>
<circle cx="1195.2" cy="796.0" r="2.3" class="s9"/>
<circle cx="932.2" cy="920.6" r="2.3" class="s8"/>
<circle cx="1188.2" cy="787.6" r="2.3" class="s1"/>
<circle cx="852.5" cy="955.0" r="2.3" class="s3"/>
<circle cx="883.3" cy="973.3" r="2.3" class="s7"/>
<circle cx="832.1" cy="901.0" r="2.3" class="s3"/>
<circle cx="912.3" cy="916.3" r="2.3" class="s2"/>
<circle cx="1204.0" cy="786.3" r="2.3" class="s9"/>
<circle cx="1136.7" cy="807.4" r="2.3" class="s9"/>
<circle cx="863.4" cy="966.8" r="2.3" class="s9"/>
<circle cx="831.9" cy="899.4" r="2.3" class="s6"/>
<circle cx="1170.8" cy="782.8" r="2.3" class="s6"/>
<circle cx="972.0" cy="889.1" r="2.3" class="s9"/>
<circle cx="1072.4" cy="818.7" r="2.3" class="s1"/>
<circle cx="1168.3" cy="773.6" r="2.3" class="s9"/>
<circle cx="951.7" cy="882.5" r="2.3" class="s9"/>
<circle cx="1128.7" cy="792.9" r="2.3" class="s9"/>
<circle cx="1031.3" cy="831.4" r="2.3" class="s3"/>
<circle cx="984.7" cy="892.2" r="2.3" class="s7"/>
<circle cx="893.1" cy="959.8" r="2.3" class="s4"/>
<circle cx="1191.7" cy="792.4" r="2.3" class="s8"/>
<circle cx="1011.7" cy="871.0" r="2.3" class="s3"/>
<circle cx="951.9" cy="888.6" r="2.3" class="s3"/>
<circle cx="1107.8" cy="807.9" r="2.3" class="s0"/>
<circle cx="1010.8" cy="879.2" r="2.3" class="s9"/>
<circle cx="990.9" cy="896.5" r="2.3" class="s9"/>
<circle cx="1057.6" cy="849.4" r="2.3" class="s0"/>
<circle cx="893.4" cy="916.4" r="2.3" class="s9"/>
<circle cx="882.6" cy="946.2" r="2.3" class="s0"/>
<circle cx="1050.2" cy="833.6" r="2.3" class="s9"/>
<circle cx="932.7" cy="925.1" r="2.3" class="s5"/>
<circle cx="971.0" cy="888.8" r="2.3" class="s3"/>
<circle cx="1168.1" cy="790.7" r="2.3" class="s3"/>
<circle cx="831.1" cy="924.8" r="2.3" class="s9"/>
<circle cx="917.8" cy="922.2" r="2.3" class="s0"/>
<circle cx="843.4" cy="1001.9" r="2.3" class="s1"/>
<circle cx="1129.5" cy="787.8" r="2.3" class="s3"/>
<circle cx="926.8" cy="904.1" r="2.3" class="s7"/>
<circle cx="853.3" cy="956.9" r="2.3" class="s3"/>
<circle cx="1050.1" cy="829.9" r="2.3" class="s8"/>
<circle cx="1030.6" cy="833.7" r="2.3" class="s3"/>
<circle cx="1030.7" cy="848.0" r="2.3" class="s2"/>
<circle cx="839.3" cy="948.7" r="2.3" class="s3"/>
<circle cx="844.3" cy="942.5" r="2.3" class="s3"/>
<circle cx="932.4" cy="932.5" r="2.3" class="s0"/>
<circle cx="854.2" cy="949.7" r="2.3" class="s3"/>
<circle cx="883.4" cy="927.0" r="2.3" class="s5"/>
<circle cx="873.3" cy="966.2" r="2.3" class="s9"/>
<circle cx="882.0" cy="971.0" r="2.3" class="s9"/>
<circle cx="1087.0" cy="813.5" r="2.3" class="s9"/>
<circle cx="832.5" cy="938.9" r="2.3" class="s3"/>
<circle cx="838.4" cy="997.0" r="2.3" class="s3"/>
<circle cx="1072.3" cy="830.2" r="2.3" class="s6"/>
<circle cx="1172.5" cy="797.2" r="2.3" class="s3"/>
<circle cx="986.0" cy="892.4" r="2.3" class="s3"/>
<circle cx="963.6" cy="882.6" r="2.3" class="s9"/>
<circle cx="1148.8" cy="794.4" r="2.3" class="s9"/>
<circle cx="1089.6" cy="800.2" r="2.3" class="s9"/>
<circle cx="932.6" cy="892.3" r="2.3" class="s3"/>
<circle cx="1025.2" cy="876.0" r="2.3" class="s8"/>
<circle cx="1169.5" cy="785.6" r="2.3" class="s3"/>
<circle cx="1069.3" cy="822.0" r="2.3" class="s9"/>
<circle cx="971.2" cy="884.3" r="2.3" class="s9"/>
<circle cx="841.6" cy="955.3" r="2.3" class="s1"/>
<circle cx="854.0" cy="958.5" r="2.3" class="s3"/>
<circle cx="832.1" cy="921.5" r="2.3" class="s9"/>
<circle cx="971.8" cy="892.0" r="2.3" class="s9"/>
<circle cx="1089.9" cy="799.1" r="2.3" class="s3"/>
<circle cx="878.0" cy="947.1" r="2.3" class="s9"/>
<circle cx="951.8" cy="903.0" r="2.3" class="s3"/>
<circle cx="853.3" cy="970.3" r="2.3" class="s3"/>
<circle cx="1184.9" cy="797.8" r="2.3" class="s9"/>
<circle cx="877.3" cy="928.6" r="2.3" class="s3"/>
<circle cx="893.5" cy="922.4" r="2.3" class="s9"/>
<circle cx="837.6" cy="941.3" r="2.3" class="s3"/>
<circle cx="1153.5" cy="781.4" r="2.3" class="s9"/>
<circle cx="873.6" cy="978.0" r="2.3" class="s1"/>
<circle cx="953.0" cy="883.9" r="2.3" class="s5"/>
<circle cx="1062.8" cy="842.9" r="2.3" class="s6"/>
<circle cx="836.5" cy="959.6" r="2.3" class="s9"/>
<circle cx="919.7" cy="912.0" r="2.3" class="s9"/>
<circle cx="831.9" cy="964.7" r="2.3" class="s4"/>
<circle cx="1173.5" cy="792.6" r="2.3" class="s7"/>
<circle cx="952.8" cy="921.0" r="2.3" class="s9"/>
<circle cx="892.8" cy="971.7" r="2.3" class="s3"/>
<circle cx="931.6" cy="901.9" r="2.3" class="s3"/>
<circle cx="1089.3" cy="814.2" r="2.3" class="s9"/>
<circle cx="985.2" cy="905.3" r="2.3" class="s8"/>
<circle cx="1107.5" cy="784.0" r="2.3" class="s9"/>
<circle cx="931.9" cy="929.7" r="2.3" class="s9"/>
<circle cx="971.6" cy="905.5" r="2.3" class="s3"/>
<circle cx="961.2" cy="884.4" r="2.3" class="s3"/>
<circle cx="1168.9" cy="780.8" r="2.3" class="s7"/>
<circle cx="972.1" cy="895.9" r="2.3" class="s3"/>
<circle cx="832.0" cy="949.9" r="2.3" class="s9"/>
<circle cx="1083.6" cy="808.7" r="2.3" class="s9"/>
<circle cx="972.4" cy="896.8" r="2.3" class="s7"/>
<circle cx="881.5" cy="963.9" r="2.3" class="s1"/>
<circle cx="843.7" cy="961.8" r="2.3" class="s5"/>
<circle cx="1194.7" cy="781.7" r="2.3" class="s0"/>
<circle cx="913.8" cy="942.1" r="2.3" class="s7"/>
<circle cx="961.4" cy="899.9" r="2.3" class="s3"/>
<circle cx="831.4" cy="955.5" r="2.3" class="s1"/>
<circle cx="1030.7" cy="883.5" r="2.3" class="s8"/>
<circle cx="952.1" cy="901.9" r="2.3" class="s6"/>
<circle cx="952.2" cy="894.0" r="2.3" class="s3"/>
<circle cx="1030.8" cy="849.2" r="2.3" class="s3"/>
<circle cx="1010.0" cy="877.2" r="2.3" class="s6"/>
<circle cx="931.7" cy="927.1" r="2.3" class="s3"/>
<circle cx="1089.8" cy="797.5" r="2.3" class="s9"/>
<circle cx="932.2" cy="917.4" r="2.3" class="s6"/>
<circle cx="1077.7" cy="826.5" r="2.3" class="s3"/>
<circle cx="1204.6" cy="793.9" r="2.3" class="s9"/>
<circle cx="912.5" cy="896.9" r="2.3" class="s9"/>
<circle cx="1061.6" cy="826.6" r="2.3" class="s8"/>
<circle cx="1040.6" cy="851.0" r="2.3" class="s5"/>
<circle cx="991.0" cy="893.5" r="2.3" class="s9"/>
<circle cx="853.5" cy="947.6" r="2.3" class="s9"/>
<circle cx="1127.8" cy="784.9" r="2.3" class="s6"/>
<circle cx="951.9" cy="899.1" r="2.3" class="s9"/>
<circle cx="842.9" cy="957.3" r="2.3" class="s7"/>
<circle cx="892.8" cy="957.0" r="2.3" class="s3"/>
<circle cx="991.0" cy="880.4" r="2.3" class="s3"/>
<circle cx="1187.1" cy="792.1" r="2.3" class="s5"/>
<circle cx="886.6" cy="953.8" r="2.3" class="s2"/>
<circle cx="903.8" cy="953.5" r="2.3" class="s3"/>
<circle cx="1186.9" cy="781.1" r="2.3" class="s3"/>
<circle cx="861.1" cy="980.6" r="2.3" class="s3"/>
<circle cx="1126.0" cy="800.4" r="2.3" class="s2"/>
<circle cx="1069.9" cy="821.2" r="2.3" class="s8"/>
<circle cx="911.6" cy="892.4" r="2.3" class="s3"/>
<circle cx="1169.1" cy="787.7" r="2.3" class="s3"/>
<circle cx="843.6" cy="935.2" r="2.3" class="s3"/>
<circle cx="991.0" cy="887.3" r="2.3" class="s9"/>
<circle cx="893.3" cy="928.5" r="2.3" class="s8"/>
<circle cx="1041.6" cy="834.7" r="2.3" class="s9"/>
<circle cx="1090.3" cy="798.4" r="2.3" class="s9"/>
<circle cx="1090.5" cy="800.4" r="2.3" class="s9"/>
<circle cx="832.0" cy="957.9" r="2.3" class="s6"/>
<circle cx="912.5" cy="915.8" r="2.3" class="s9"/>
<circle cx="1022.9" cy="861.2" r="2.3" class="s9"/>
<circle cx="832.6" cy="903.6" r="2.3" class="s3"/>
<circle cx="1204.1" cy="782.2" r="2.3" class="s0"/>
<circle cx="867.7" cy="966.3" r="2.3" class="s6"/>
<circle cx="902.1" cy="935.4" r="2.3" class="s7"/>
<circle cx="854.0" cy="978.2" r="2.3" class="s9"/>
<circle cx="912.8" cy="933.6" r="2.3" class="s9"/>
<circle cx="1106.2" cy="792.1" r="2.3" class="s0"/>
<circle cx="987.9" cy="888.0" r="2.3" class="s0"/>
<circle cx="872.9" cy="975.8" r="2.3" class="s3"/>
<circle cx="1168.9" cy="784.3" r="2.3" class="s9"/>
<circle cx="922.1" cy="922.2" r="2.3" class="s3"/>
<circle cx="893.9" cy="917.1" r="2.3" class="s6"/>
<circle cx="892.7" cy="946.7" r="2.3" class="s9"/>
<circle cx="1031.1" cy="829.5" r="2.3" class="s2"/>
<circle cx="843.7" cy="963.6" r="2.3" class="s9"/>
<circle cx="883.3" cy="967.8" r="2.3" class="s3"/>
<circle cx="1029.5" cy="862.4" r="2.3" class="s3"/>
<circle cx="832.4" cy="912.1" r="2.3" class="s3"/>
<circle cx="1089.6" cy="800.9" r="2.3" class="s3"/>
<circle cx="831.1" cy="945.9" r="2.3" class="s9"/>
<circle cx="898.7" cy="948.2" r="2.3" class="s9"/>
<circle cx="839.2" cy="974.9" r="2.3" class="s4"/>
<circle cx="878.8" cy="960.0" r="2.3" class="s9"/>
<circle cx="883.7" cy="922.0" r="2.3" class="s3"/>
<circle cx="1129.1" cy="794.7" r="2.3" class="s0"/>
<circle cx="1168.6" cy="781.5" r="2.3" class="s9"/>
<circle cx="893.0" cy="907.2" r="2.3" class="s3"/>
<circle cx="837.4" cy="967.6" r="2.3" class="s3"/>
<circle cx="912.4" cy="936.0" r="2.3" class="s3"/>
<circle cx="1157.0" cy="800.9" r="2.3" class="s3"/>
<circle cx="934.6" cy="894.0" r="2.3" class="s8"/>
<circle cx="902.4" cy="919.7" r="2.3" class="s9"/>
<circle cx="872.2" cy="951.6" r="2.3" class="s2"/>
<circle cx="1122.4" cy="793.2" r="2.3" class="s9"/>
<circle cx="991.1" cy="888.0" r="2.3" class="s3"/>
<circle cx="1193.2" cy="783.2" r="2.3" class="s8"/>
<circle cx="1186.6" cy="791.5" r="2.3" class="s0"/>
<circle cx="933.1" cy="898.3" r="2.3" class="s9"/>
<circle cx="843.6" cy="974.5" r="2.3" class="s3"/>
<circle cx="833.0" cy="967.8" r="2.3" class="s3"/>
<circle cx="1050.6" cy="850.6" r="2.3" class="s6"/>
<circle cx="892.9" cy="928.1" r="2.3" class="s3"/>
<circle cx="1011.2" cy="873.8" r="2.3" class="s9"/>
<circle cx="843.5" cy="985.1" r="2.3" class="s9"/>
<circle cx="971.5" cy="893.9" r="2.3" class="s9"/>
<circle cx="892.8" cy="974.0" r="2.3" class="s1"/>
<circle cx="831.9" cy="896.7" r="2.3" class="s5"/>
<circle cx="913.7" cy="902.9" r="2.3" class="s9"/>
<circle cx="1033.2" cy="848.7" r="2.3" class="s8"/>
<circle cx="913.5" cy="942.9" r="2.3" class="s6"/>
<circle cx="902.4" cy="920.1" r="2.3" class="s3"/>
<circle cx="834.9" cy="940.6" r="2.3" class="s9"/>
<circle cx="1187.8" cy="788.1" r="2.3" class="s0"/>
<circle cx="921.9" cy="916.1" r="2.3" class="s9"/>
<circle cx="852.7" cy="975.7" r="2.3" class="s6"/>
<circle cx="1022.4" cy="864.2" r="2.3" class="s1"/>
<circle cx="931.5" cy="911.2" r="2.3" class="s2"/>
<circle cx="1090.7" cy="802.9" r="2.3" class="s3"/>
<circle cx="991.4" cy="887.8" r="2.3" class="s9"/>
<circle cx="853.9" cy="986.1" r="2.3" class="s3"/>
<circle cx="1050.6" cy="835.9" r="2.3" class="s1"/>
<circle cx="1181.2" cy="786.2" r="2.3" class="s3"/>
<circle cx="971.8" cy="889.0" r="2.3" class="s3"/>
<circle cx="894.7" cy="929.2" r="2.3" class="s3"/>
<circle cx="990.7" cy="884.5" r="2.3" class="s3"/>
<circle cx="972.2" cy="901.9" r="2.3" class="s9"/>
<circle cx="1169.6" cy="785.2" r="2.3" class="s9"/>
<circle cx="902.0" cy="949.3" r="2.3" class="s0"/>
<circle cx="913.3" cy="925.2" r="2.3" class="s2"/>
<circle cx="1089.9" cy="814.4" r="2.3" class="s0"/>
<circle cx="1160.9" cy="790.4" r="2.3" class="s8"/>
<circle cx="832.1" cy="927.3" r="2.3" class="s0"/>
<circle cx="863.9" cy="999.3" r="2.3" class="s9"/>
<circle cx="1089.7" cy="815.6" r="2.3" class="s1"/>
<circle cx="874.5" cy="941.6" r="2.3" class="s3"/>
<circle cx="1131.7" cy="809.3" r="2.3" class="s3"/>
<circle cx="873.1" cy="951.3" r="2.3" class="s3"/>
<circle cx="862.9" cy="958.8" r="2.3" class="s9"/>
<circle cx="952.0" cy="896.9" r="2.3" class="s1"/>
<circle cx="971.3" cy="887.5" r="2.3" class="s9"/>
<circle cx="839.3" cy="947.2" r="2.3" class="s8"/>
<circle cx="1125.2" cy="793.6" r="2.3" class="s9"/>
<circle cx="832.2" cy="928.6" r="2.3" class="s9"/>
<circle cx="932.0" cy="905.2" r="2.3" class="s9"/>
<circle cx="883.7" cy="948.7" r="2.3" class="s9"/>
<circle cx="869.0" cy="969.7" r="2.3" class="s9"/>
<circle cx="1088.2" cy="811.9" r="2.3" class="s0"/>
<circle cx="1156.9" cy="800.0" r="2.3" class="s9"/>
<circle cx="1030.1" cy="832.1" r="2.3" class="s3"/>
<circle cx="893.3" cy="940.0" r="2.3" class="s2"/>
<circle cx="852.7" cy="951.1" r="2.3" class="s0"/>
<circle cx="902.4" cy="941.0" r="2.3" class="s9"/>
<circle cx="893.5" cy="939.0" r="2.3" class="s9"/>
<circle cx="863.3" cy="969.8" r="2.3" class="s3"/>
<circle cx="937.2" cy="906.4" r="2.3" class="s9"/>
<circle cx="976.4" cy="897.1" r="2.3" class="s8"/>
<circle cx="1109.2" cy="809.5" r="2.3" class="s3"/>
<circle cx="831.6" cy="929.0" r="2.3" class="s9"/>
<circle cx="892.5" cy="961.3" r="2.3" class="s3"/>
<circle cx="921.8" cy="945.8" r="2.3" class="s1"/>
<circle cx="1203.8" cy="785.7" r="2.3" class="s6"/>
<circle cx="832.2" cy="919.0" r="2.3" class="s9"/>
<circle cx="952.3" cy="886.9" r="2.3" class="s9"/>
<circle cx="882.3" cy="941.8" r="2.3" class="s3"/>
<circle cx="832.6" cy="940.2" r="2.3" class="s9"/>
<circle cx="847.1" cy="962.4" r="2.3" class="s9"/>
<circle cx="850.3" cy="993.6" r="2.3" class="s9"/>
<circle cx="844.5" cy="979.2" r="2.3" class="s9"/>
<circle cx="1054.2" cy="827.8" r="2.3" class="s3"/>
<circle cx="1010.9" cy="871.8" r="2.3" class="s9"/>
<circle cx="852.9" cy="949.2" r="2.3" class="s9"/>
<circle cx="873.1" cy="961.8" r="2.3" class="s3"/>
<circle cx="1149.8" cy="788.3" r="2.3" class="s9"/>
<circle cx="975.4" cy="884.9" r="2.3" class="s3"/>
<circle cx="883.2" cy="919.2" r="2.3" class="s9"/>
<circle cx="912.8" cy="899.5" r="2.3" class="s3"/>
<circle cx="856.8" cy="982.1" r="2.3" class="s9"/>
<circle cx="991.1" cy="888.3" r="2.3" class="s6"/>
<circle cx="978.4" cy="877.9" r="2.3" class="s1"/>
<circle cx="863.2" cy="974.6" r="2.3" class="s9"/>
<circle cx="1161.4" cy="775.9" r="2.3" class="s9"/>
<circle cx="1050.4" cy="844.0" r="2.3" class="s0"/>
<circle cx="1168.5" cy="781.8" r="2.3" class="s3"/>
<circle cx="1167.9" cy="782.9" r="2.3" class="s9"/>
<circle cx="902.5" cy="906.9" r="2.3" class="s9"/>
<circle cx="1008.1" cy="879.2" r="2.3" class="s3"/>
<circle cx="1000.7" cy="886.0" r="2.3" class="s7"/>
<circle cx="952.3" cy="917.0" r="2.3" class="s5"/>
<circle cx="1028.5" cy="852.5" r="2.3" class="s8"/>
<circle cx="1030.6" cy="857.2" r="2.3" class="s9"/>
<circle cx="1205.4" cy="777.6" r="2.3" class="s6"/>
<circle cx="1069.8" cy="812.8" r="2.3" class="s9"/>
<circle cx="932.2" cy="894.2" r="2.3" class="s0"/>
<circle cx="893.7" cy="931.9" r="2.3" class="s9"/>
<circle cx="843.8" cy="954.2" r="2.3" class="s3"/>
<circle cx="992.4" cy="898.0" r="2.3" class="s9"/>
<circle cx="932.8" cy="910.6" r="2.3" class="s8"/>
<circle cx="860.2" cy="987.4" r="2.3" class="s7"/>
<circle cx="991.6" cy="884.1" r="2.3" class="s0"/>
<circle cx="1069.2" cy="822.2" r="2.3" class="s0"/>
<circle cx="873.5" cy="949.2" r="2.3" class="s9"/>
<circle cx="1106.8" cy="803.8" r="2.3" class="s4"/>
<circle cx="884.2" cy="958.8" r="2.3" class="s9"/>
<circle cx="1053.8" cy="852.4" r="2.3" class="s9"/>
<circle cx="991.1" cy="891.6" r="2.3" class="s9"/>
<circle cx="951.6" cy="910.3" r="2.3" class="s5"/>
<circle cx="1070.7" cy="837.1" r="2.3" class="s4"/>
<circle cx="1061.1" cy="850.0" r="2.3" class="s1"/>
<circle cx="1137.6" cy="796.4" r="2.3" class="s3"/>
<circle cx="932.1" cy="930.6" r="2.3" class="s7"/>
<circle cx="872.8" cy="965.1" r="2.3" class="s9"/>
<circle cx="839.5" cy="1000.5" r="2.3" class="s7"/>
<circle cx="892.9" cy="941.3" r="2.3" class="s9"/>
<circle cx="883.5" cy="942.1" r="2.3" class="s5"/>
<circle cx="892.4" cy="903.0" r="2.3" class="s3"/>
<circle cx="869.1" cy="985.2" r="2.3" class="s9"/>
<circle cx="831.7" cy="978.5" r="2.3" class="s8"/>
<circle cx="932.2" cy="921.9" r="2.3" class="s3"/>
<circle cx="1129.4" cy="795.4" r="2.3" class="s2"/>
<circle cx="831.8" cy="913.5" r="2.3" class="s3"/>
<circle cx="1069.8" cy="834.6" r="2.3" class="s9"/>
<circle cx="831.3" cy="946.9" r="2.3" class="s0"/>
<circle cx="1026.3" cy="857.8" r="2.3" class="s1"/>
<circle cx="892.8" cy="912.7" r="2.3" class="s2"/>
<circle cx="863.5" cy="960.3" r="2.3" class="s3"/>
<circle cx="925.7" cy="917.3" r="2.3" class="s3"/>
<circle cx="1187.3" cy="791.6" r="2.3" class="s6"/>
<circle cx="916.8" cy="935.4" r="2.3" class="s3"/>
<circle cx="873.5" cy="980.4" r="2.3" class="s3"/>
<circle cx="843.2" cy="990.7" r="2.3" class="s5"/>
<circle cx="951.5" cy="885.0" r="2.3" class="s3"/>
<circle cx="969.8" cy="910.6" r="2.3" class="s1"/>
<circle cx="1168.4" cy="790.3" r="2.3" class="s9"/>
<circle cx="874.2" cy="962.7" r="2.3" class="s2"/>
<circle cx="1090.0" cy="819.3" r="2.3" class="s9"/>
<circle cx="892.1" cy="924.8" r="2.3" class="s7"/>
<circle cx="1187.9" cy="791.5" r="2.3" class="s1"/>
<circle cx="895.8" cy="934.9" r="2.3" class="s0"/>
<circle cx="991.6" cy="878.2" r="2.3" class="s1"/>
<circle cx="987.9" cy="875.7" r="2.3" class="s3"/>
<circle cx="853.5" cy="1006.1" r="2.3" class="s8"/>
<circle cx="1203.6" cy="791.9" r="2.3" class="s1"/>
<circle cx="875.8" cy="955.8" r="2.3" class="s9"/>
<circle cx="1089.7" cy="813.6" r="2.3" class="s3"/>
<circle cx="853.1" cy="973.3" r="2.3" class="s9"/>
<circle cx="1050.1" cy="829.1" r="2.3" class="s1"/>
<circle cx="863.1" cy="991.5" r="2.3" class="s5"/>
<circle cx="951.9" cy="923.6" r="2.3" class="s1"/>
<circle cx="1157.3" cy="789.0" r="2.3" class="s9"/>
<circle cx="1188.0" cy="779.8" r="2.3" class="s8"/>
<circle cx="917.4" cy="932.1" r="2.3" class="s7"/>
<circle cx="1031.1" cy="849.4" r="2.3" class="s5"/>
<circle cx="839.1" cy="943.1" r="2.3" class="s0"/>
<circle cx="950.5" cy="902.2" r="2.3" class="s2"/>
<circle cx="883.9" cy="948.7" r="2.3" class="s1"/>
<circle cx="865.6" cy="973.9" r="2.3" class="s3"/>
<circle cx="1046.4" cy="849.9" r="2.3" class="s9"/>
<circle cx="853.3" cy="962.3" r="2.3" class="s9"/>
<circle cx="1070.0" cy="815.4" r="2.3" class="s3"/>
<circle cx="1148.8" cy="789.2" r="2.3" class="s9"/>
<circle cx="903.2" cy="929.1" r="2.3" class="s8"/>
<circle cx="838.7" cy="918.6" r="2.3" class="s6"/>
<circle cx="1162.8" cy="794.4" r="2.3" class="s1"/>
<circle cx="1108.9" cy="807.2" r="2.3" class="s9"/>
<circle cx="932.2" cy="926.9" r="2.3" class="s3"/>
<circle cx="843.7" cy="1007.2" r="2.3" class="s8"/>
<circle cx="1075.2" cy="823.0" r="2.3" class="s9"/>
<circle cx="862.9" cy="968.5" r="2.3" class="s9"/>
<circle cx="843.6" cy="998.0" r="2.3" class="s9"/>
<circle cx="919.9" cy="894.7" r="2.3" class="s9"/>
<circle cx="991.6" cy="897.2" r="2.3" class="s7"/>
<circle cx="880.9" cy="934.7" r="2.3" class="s9"/>
<circle cx="932.0" cy="930.6" r="2.3" class="s3"/>
<circle cx="903.4" cy="958.7" r="2.3" class="s9"/>
<circle cx="864.1" cy="957.5" r="2.3" class="s5"/>
<circle cx="869.5" cy="976.8" r="2.3" class="s9"/>
<circle cx="838.9" cy="970.5" r="2.3" class="s3"/>
<circle cx="934.2" cy="916.4" r="2.3" class="s2"/>
<circle cx="1088.6" cy="814.8" r="2.3" class="s3"/>
<circle cx="1109.9" cy="806.3" r="2.3" class="s1"/>
<circle cx="883.1" cy="967.2" r="2.3" class="s9"/>
<circle cx="932.3" cy="907.8" r="2.3" class="s9"/>
<circle cx="932.9" cy="893.3" r="2.3" class="s3"/>
<circle cx="1038.1" cy="845.7" r="2.3" class="s9"/>
<circle cx="925.7" cy="917.4" r="2.3" class="s8"/>
<circle cx="991.4" cy="885.8" r="2.3" class="s9"/>
<circle cx="872.8" cy="973.5" r="2.3" class="s3"/>
<circle cx="882.5" cy="984.5" r="2.3" class="s9"/>
<circle cx="944.7" cy="887.2" r="2.3" class="s3"/>
<circle cx="966.5" cy="930.3" r="2.3" class="s1"/>
<circle cx="863.4" cy="955.3" r="2.3" class="s9"/>
<circle cx="1149.3" cy="782.9" r="2.3" class="s9"/>
<circle cx="893.2" cy="924.5" r="2.3" class="s6"/>
<circle cx="1092.9" cy="808.3" r="2.3" class="s3"/>
<circle cx="872.9" cy="930.3" r="2.3" class="s9"/>
<circle cx="880.1" cy="950.5" r="2.3" class="s0"/>
<circle cx="1083.7" cy="813.2" r="2.3" class="s3"/>
<circle cx="864.1" cy="963.8" r="2.3" class="s0"/>
<circle cx="912.3" cy="924.1" r="2.3" class="s2"/>
<circle cx="883.0" cy="945.5" r="2.3" class="s3"/>
<circle cx="1144.6" cy="787.7" r="2.3" class="s9"/>
<circle cx="991.1" cy="880.8" r="2.3" class="s1"/>
<circle cx="893.7" cy="944.0" r="2.3" class="s5"/>
<circle cx="1031.9" cy="858.5" r="2.3" class="s5"/>
<circle cx="1153.7" cy="789.1" r="2.3" class="s5"/>
<circle cx="1011.0" cy="871.0" r="2.3" class="s9"/>
<circle cx="845.0" cy="936.6" r="2.3" class="s8"/>
<circle cx="1116.3" cy="802.7" r="2.3" class="s3"/>
<circle cx="872.8" cy="982.4" r="2.3" class="s9"/>
<circle cx="991.6" cy="879.4" r="2.3" class="s3"/>
<circle cx="1011.1" cy="873.9" r="2.3" class="s9"/>
<circle cx="997.3" cy="882.9" r="2.3" class="s9"/>
<circle cx="867.4" cy="969.1" r="2.3" class="s1"/>
<circle cx="858.0" cy="979.3" r="2.3" class="s9"/>
<circle cx="912.2" cy="922.4" r="2.3" class="s8"/>
<circle cx="853.6" cy="982.0" r="2.3" class="s2"/>
<circle cx="1033.4" cy="850.4" r="2.3" class="s9"/>
<circle cx="921.9" cy="930.3" r="2.3" class="s1"/>
<circle cx="930.0" cy="893.8" r="2.3" class="s0"/>
<circle cx="895.4" cy="931.9" r="2.3" class="s9"/>
<circle cx="1183.5" cy="789.7" r="2.3" class="s3"/>
<circle cx="1030.5" cy="848.0" r="2.3" class="s2"/>
<circle cx="865.0" cy="989.1" r="2.3" class="s9"/>
<circle cx="853.4" cy="950.4" r="2.3" class="s9"/>
<circle cx="972.4" cy="888.3" r="2.3" class="s8"/>
<circle cx="1077.5" cy="812.7" r="2.3" class="s2"/>
<circle cx="1052.6" cy="837.8" r="2.3" class="s9"/>
<circle cx="1049.5" cy="836.9" r="2.3" class="s3"/>
<circle cx="1069.6" cy="815.4" r="2.3" class="s3"/>
<circle cx="1188.4" cy="779.5" r="2.3" class="s1"/>
<circle cx="1110.0" cy="808.9" r="2.3" class="s9"/>
<circle cx="844.1" cy="933.3" r="2.3" class="s3"/>
<circle cx="844.3" cy="997.1" r="2.3" class="s5"/>
<circle cx="1203.9" cy="784.9" r="2.3" class="s7"/>
<circle cx="904.1" cy="936.7" r="2.3" class="s9"/>
<circle cx="934.5" cy="911.3" r="2.3" class="s0"/>
<circle cx="1012.1" cy="873.2" r="2.3" class="s3"/>
<circle cx="1140.8" cy="793.2" r="2.3" class="s7"/>
<circle cx="952.5" cy="887.1" r="2.3" class="s9"/>
<circle cx="1187.5" cy="792.1" r="2.3" class="s8"/>
<circle cx="991.6" cy="886.3" r="2.3" class="s3"/>
<circle cx="922.9" cy="929.0" r="2.3" class="s9"/>
<circle cx="872.8" cy="953.0" r="2.3" class="s3"/>
<circle cx="928.4" cy="917.2" r="2.3" class="s0"/>
<circle cx="1056.3" cy="844.0" r="2.3" class="s7"/>
<circle cx="932.3" cy="911.3" r="2.3" class="s3"/>
<circle cx="892.3" cy="912.5" r="2.3" class="s9"/>
<circle cx="903.0" cy="904.3" r="2.3" class="s9"/>
<circle cx="1030.7" cy="849.6" r="2.3" class="s9"/>
<circle cx="862.2" cy="974.8" r="2.3" class="s9"/>
<circle cx="831.7" cy="927.0" r="2.3" class="s3"/>
<circle cx="862.2" cy="962.9" r="2.3" class="s9"/>
<circle cx="913.2" cy="936.1" r="2.3" class="s7"/>
<circle cx="853.4" cy="1003.4" r="2.3" class="s1"/>
<circle cx="949.3" cy="891.8" r="2.3" class="s9"/>
<circle cx="903.2" cy="937.5" r="2.3" class="s9"/>
<circle cx="1148.6" cy="786.8" r="2.3" class="s2"/>
<circle cx="831.8" cy="896.9" r="2.3" class="s3"/>
<circle cx="877.4" cy="971.0" r="2.3" class="s5"/>
<circle cx="1168.0" cy="790.3" r="2.3" class="s9"/>
<circle cx="883.0" cy="938.9" r="2.3" class="s6"/>
<circle cx="1010.8" cy="874.8" r="2.3" class="s6"/>
<circle cx="1129.4" cy="791.7" r="2.3" class="s9"/>
<circle cx="1148.8" cy="782.4" r="2.3" class="s3"/>
<circle cx="1049.9" cy="848.9" r="2.3" class="s4"/>
<circle cx="1078.6" cy="816.3" r="2.3" class="s7"/>
<circle cx="932.1" cy="892.4" r="2.3" class="s3"/>
<circle cx="883.5" cy="945.4" r="2.3" class="s9"/>
<circle cx="1127.8" cy="812.9" r="2.3" class="s7"/>
<circle cx="990.8" cy="883.2" r="2.3" class="s3"/>
<circle cx="1158.4" cy="787.1" r="2.3" class="s8"/>
<circle cx="1058.2" cy="850.8" r="2.3" class="s9"/>
<circle cx="875.4" cy="922.3" r="2.3" class="s9"/>
<circle cx="845.6" cy="978.2" r="2.3" class="s5"/>
<circle cx="1188.2" cy="781.3" r="2.3" class="s1"/>
<circle cx="1030.6" cy="841.2" r="2.3" class="s7"/>
<circle cx="832.3" cy="956.6" r="2.3" class="s3"/>
<circle cx="863.2" cy="992.7" r="2.3" class="s3"/>
<circle cx="837.8" cy="952.6" r="2.3" class="s3"/>
<circle cx="830.9" cy="903.9" r="2.3" class="s3"/>
<circle cx="1089.6" cy="813.0" r="2.3" class="s9"/>
<circle cx="838.4" cy="927.6" r="2.3" class="s3"/>
<circle cx="1104.0" cy="799.5" r="2.3" class="s9"/>
<circle cx="1046.5" cy="833.6" r="2.3" class="s9"/>
<circle cx="843.5" cy="991.8" r="2.3" class="s8"/>
<circle cx="1128.3" cy="789.4" r="2.3" class="s9"/>
<circle cx="1096.4" cy="801.0" r="2.3" class="s0"/>
<circle cx="922.0" cy="926.7" r="2.3" class="s9"/>
<circle cx="994.6" cy="884.9" r="2.3" class="s9"/>
<circle cx="883.1" cy="963.7" r="2.3" class="s9"/>
<circle cx="1193.7" cy="783.4" r="2.3" class="s9"/>
<circle cx="966.3" cy="895.2" r="2.3" class="s3"/>
<circle cx="892.8" cy="909.2" r="2.3" class="s9"/>
<circle cx="1053.9" cy="831.5" r="2.3" class="s9"/>
<circle cx="1070.2" cy="841.1" r="2.3" class="s3"/>
<circle cx="1150.0" cy="795.2" r="2.3" class="s3"/>
<circle cx="852.8" cy="1000.4" r="2.3" class="s1"/>
<circle cx="854.0" cy="949.3" r="2.3" class="s9"/>
<circle cx="911.5" cy="914.9" r="2.3" class="s3"/>
<circle cx="910.3" cy="931.0" r="2.3" class="s8"/>
<circle cx="905.7" cy="929.5" r="2.3" class="s9"/>
<circle cx="892.9" cy="936.7" r="2.3" class="s6"/>
<circle cx="853.5" cy="952.4" r="2.3" class="s9"/>
<circle cx="1156.9" cy="781.3" r="2.3" class="s7"/>
<circle cx="1050.3" cy="876.9" r="2.3" class="s8"/>
<circle cx="1176.1" cy="774.1" r="2.3" class="s7"/>
<circle cx="1168.6" cy="788.4" r="2.3" class="s9"/>
<circle cx="873.1" cy="965.9" r="2.3" class="s3"/>
<circle cx="991.1" cy="890.6" r="2.3" class="s5"/>
<circle cx="929.7" cy="913.8" r="2.3" class="s3"/>
<circle cx="1050.3" cy="849.6" r="2.3" class="s9"/>
<circle cx="932.4" cy="909.9" r="2.3" class="s1"/>
<circle cx="1119.3" cy="777.2" r="2.3" class="s9"/>
<circle cx="1030.6" cy="856.7" r="2.3" class="s9"/>
<circle cx="1187.6" cy="791.5" r="2.3" class="s1"/>
<circle cx="1050.7" cy="841.9" r="2.3" class="s9"/>
<circle cx="1198.8" cy="786.1" r="2.3" class="s9"/>
<circle cx="1011.5" cy="884.5" r="2.3" class="s3"/>
<circle cx="1178.1" cy="774.3" r="2.3" class="s6"/>
<circle cx="912.4" cy="937.7" r="2.3" class="s8"/>
<circle cx="904.0" cy="955.6" r="2.3" class="s9"/>
<circle cx="919.9" cy="894.4" r="2.3" class="s9"/>
<circle cx="1137.0" cy="794.6" r="2.3" class="s6"/>
<circle cx="863.3" cy="972.6" r="2.3" class="s1"/>
<circle cx="902.3" cy="912.6" r="2.3" class="s6"/>
<circle cx="981.4" cy="902.3" r="2.3" class="s3"/>
<circle cx="862.7" cy="966.3" r="2.3" class="s3"/>
<circle cx="1020.6" cy="860.9" r="2.3" class="s1"/>
<circle cx="1069.4" cy="815.2" r="2.3" class="s9"/>
<circle cx="840.2" cy="944.6" r="2.3" class="s9"/>
<circle cx="859.2" cy="990.0" r="2.3" class="s3"/>
<circle cx="1082.1" cy="809.1" r="2.3" class="s3"/>
<circle cx="1109.6" cy="802.6" r="2.3" class="s3"/>
<circle cx="1036.6" cy="859.3" r="2.3" class="s3"/>
<circle cx="1149.2" cy="781.8" r="2.3" class="s5"/>
<circle cx="922.5" cy="941.1" r="2.3" class="s9"/>
<circle cx="832.6" cy="941.1" r="2.3" class="s0"/>
<circle cx="985.1" cy="879.0" r="2.3" class="s3"/>
<circle cx="952.7" cy="912.0" r="2.3" class="s9"/>
<circle cx="854.3" cy="986.6" r="2.3" class="s9"/>
<circle cx="942.8" cy="918.3" r="2.3" class="s6"/>
<circle cx="873.7" cy="993.6" r="2.3" class="s9"/>
<circle cx="1026.4" cy="875.0" r="2.3" class="s3"/>
<circle cx="921.7" cy="895.9" r="2.3" class="s9"/>
<circle cx="990.9" cy="883.2" r="2.3" class="s5"/>
<circle cx="832.0" cy="952.4" r="2.3" class="s2"/>
<circle cx="970.8" cy="896.0" r="2.3" class="s7"/>
<circle cx="831.9" cy="959.9" r="2.3" class="s9"/>
<circle cx="843.2" cy="942.0" r="2.3" class="s3"/>
<circle cx="932.3" cy="910.8" r="2.3" class="s0"/>
<circle cx="831.4" cy="914.5" r="2.3" class="s0"/>
<circle cx="1032.2" cy="859.6" r="2.3" class="s0"/>
<circle cx="1109.0" cy="809.2" r="2.3" class="s6"/>
<circle cx="1031.3" cy="852.8" r="2.3" class="s3"/>
<circle cx="893.3" cy="966.6" r="2.3" class="s9"/>
<circle cx="863.3" cy="959.3" r="2.3" class="s2"/>
<circle cx="902.6" cy="923.9" r="2.3" class="s3"/>
<circle cx="912.0" cy="896.9" r="2.3" class="s9"/>
<circle cx="945.0" cy="897.3" r="2.3" class="s9"/>
<circle cx="990.9" cy="892.0" r="2.3" class="s3"/>
<circle cx="1050.2" cy="850.6" r="2.3" class="s2"/>
<circle cx="932.2" cy="896.6" r="2.3" class="s0"/>
<circle cx="856.6" cy="982.0" r="2.3" class="s9"/>
<circle cx="931.6" cy="930.8" r="2.3" class="s9"/>
<circle cx="892.7" cy="923.9" r="2.3" class="s9"/>
<circle cx="1129.0" cy="789.0" r="2.3" class="s9"/>
<circle cx="1004.3" cy="873.5" r="2.3" class="s3"/>
<circle cx="839.4" cy="937.0" r="2.3" class="s5"/>
<circle cx="933.3" cy="917.5" r="2.3" class="s1"/>
<circle cx="1070.1" cy="841.7" r="2.3" class="s3"/>
<circle cx="1011.2" cy="867.8" r="2.3" class="s3"/>
<circle cx="850.8" cy="951.8" r="2.3" class="s0"/>
<circle cx="844.1" cy="981.0" r="2.3" class="s9"/>
<circle cx="843.4" cy="967.0" r="2.3" class="s3"/>
<circle cx="892.6" cy="933.1" r="2.3" class="s5"/>
<circle cx="873.7" cy="964.8" r="2.3" class="s0"/>
<circle cx="922.4" cy="901.1" r="2.3" class="s9"/>
<circle cx="1169.4" cy="781.3" r="2.3" class="s9"/>
<circle cx="1128.0" cy="787.2" r="2.3" class="s3"/>
<circle cx="885.3" cy="947.0" r="2.3" class="s9"/>
<circle cx="898.1" cy="903.7" r="2.3" class="s3"/>
<circle cx="1123.3" cy="797.7" r="2.3" class="s9"/>
<circle cx="932.9" cy="913.0" r="2.3" class="s9"/>
<circle cx="912.8" cy="916.5" r="2.3" class="s3"/>
<circle cx="932.5" cy="900.2" r="2.3" class="s9"/>
<circle cx="1080.7" cy="829.5" r="2.3" class="s9"/>
<circle cx="893.1" cy="951.4" r="2.3" class="s0"/>
<circle cx="991.4" cy="894.2" r="2.3" class="s3"/>
<circle cx="854.3" cy="996.2" r="2.3" class="s9"/>
<circle cx="1088.8" cy="818.0" r="2.3" class="s0"/>
<circle cx="871.3" cy="1008.3" r="2.3" class="s1"/>
<circle cx="955.4" cy="896.7" r="2.3" class="s3"/>
<circle cx="922.3" cy="907.6" r="2.3" class="s1"/>
<circle cx="1030.3" cy="835.3" r="2.3" class="s9"/>
<circle cx="1103.7" cy="807.8" r="2.3" class="s0"/>
<circle cx="1188.1" cy="785.9" r="2.3" class="s3"/>
<circle cx="1013.9" cy="880.0" r="2.3" class="s9"/>
<circle cx="1049.5" cy="833.4" r="2.3" class="s9"/>
<circle cx="853.6" cy="967.2" r="2.3" class="s9"/>
<circle cx="866.5" cy="943.4" r="2.3" class="s6"/>
<circle cx="903.1" cy="930.7" r="2.3" class="s9"/>
<circle cx="832.3" cy="925.2" r="2.3" class="s2"/>
<circle cx="925.7" cy="931.2" r="2.3" class="s9"/>
<circle cx="1129.5" cy="799.0" r="2.3" class="s3"/>
<circle cx="1160.3" cy="780.9" r="2.3" class="s3"/>
<circle cx="853.4" cy="947.5" r="2.3" class="s9"/>
<circle cx="891.9" cy="963.6" r="2.3" class="s8"/>
<circle cx="1070.4" cy="811.9" r="2.3" class="s3"/>
<circle cx="1163.9" cy="788.2" r="2.3" class="s6"/>
<circle cx="844.4" cy="969.5" r="2.3" class="s3"/>
<circle cx="977.9" cy="899.8" r="2.3" class="s7"/>
<circle cx="873.3" cy="987.6" r="2.3" class="s9"/>
<circle cx="971.6" cy="897.0" r="2.3" class="s6"/>
<circle cx="834.3" cy="942.0" r="2.3" class="s9"/>
<circle cx="1110.0" cy="810.0" r="2.3" class="s6"/>
<circle cx="888.3" cy="940.2" r="2.3" class="s7"/>
<circle cx="1089.9" cy="816.2" r="2.3" class="s9"/>
<circle cx="924.4" cy="922.4" r="2.3" class="s1"/>
<circle cx="1187.8" cy="782.7" r="2.3" class="s0"/>
<circle cx="1156.5" cy="788.8" r="2.3" class="s7"/>
<circle cx="1202.5" cy="792.0" r="2.3" class="s5"/>
<circle cx="1188.1" cy="789.3" r="2.3" class="s3"/>
<circle cx="912.0" cy="941.4" r="2.3" class="s5"/>
<circle cx="1100.1" cy="823.2" r="2.3" class="s8"/>
<circle cx="912.7" cy="907.1" r="2.3" class="s3"/>
<circle cx="1069.7" cy="829.4" r="2.3" class="s2"/>
<circle cx="853.8" cy="949.0" r="2.3" class="s3"/>
<circle cx="873.1" cy="960.8" r="2.3" class="s3"/>
<circle cx="843.9" cy="944.8" r="2.3" class="s9"/>
<circle cx="873.7" cy="940.2" r="2.3" class="s3"/>
<circle cx="1109.6" cy="804.2" r="2.3" class="s3"/>
<circle cx="1110.2" cy="804.4" r="2.3" class="s9"/>
<circle cx="971.9" cy="888.8" r="2.3" class="s3"/>
<circle cx="1050.2" cy="849.0" r="2.3" class="s5"/>
<circle cx="922.5" cy="895.7" r="2.3" class="s9"/>
<circle cx="1174.7" cy="773.7" r="2.3" class="s3"/>
<circle cx="991.4" cy="886.4" r="2.3" class="s3"/>
<circle cx="995.7" cy="882.1" r="2.3" class="s7"/>
<circle cx="1178.1" cy="787.0" r="2.3" class="s3"/>
<circle cx="1168.0" cy="786.4" r="2.3" class="s3"/>
<circle cx="913.0" cy="899.9" r="2.3" class="s3"/>
<circle cx="1168.3" cy="780.2" r="2.3" class="s8"/>
<circle cx="1187.5" cy="785.7" r="2.3" class="s9"/>
<circle cx="1089.9" cy="809.1" r="2.3" class="s9"/>
<circle cx="912.6" cy="921.5" r="2.3" class="s9"/>
<circle cx="988.5" cy="865.9" r="2.3" class="s6"/>
<circle cx="1074.5" cy="818.4" r="2.3" class="s3"/>
<circle cx="1153.1" cy="790.2" r="2.3" class="s3"/>
<circle cx="1197.0" cy="798.8" r="2.3" class="s9"/>
<circle cx="839.1" cy="994.5" r="2.3" class="s7"/>
<circle cx="844.1" cy="960.7" r="2.3" class="s3"/>
<circle cx="975.2" cy="887.8" r="2.3" class="s9"/>
<circle cx="1011.2" cy="873.5" r="2.3" class="s3"/>
<circle cx="922.6" cy="896.9" r="2.3" class="s3"/>
<circle cx="831.7" cy="901.5" r="2.3" class="s9"/>
<circle cx="831.3" cy="977.5" r="2.3" class="s9"/>
<circle cx="1116.1" cy="798.6" r="2.3" class="s3"/>
<circle cx="854.4" cy="971.0" r="2.3" class="s4"/>
<circle cx="831.3" cy="898.5" r="2.3" class="s2"/>
<circle cx="981.0" cy="881.3" r="2.3" class="s3"/>
<circle cx="1089.9" cy="815.3" r="2.3" class="s9"/>
<circle cx="1081.8" cy="820.2" r="2.3" class="s1"/>
<circle cx="1059.3" cy="837.7" r="2.3" class="s3"/>
<circle cx="1168.7" cy="788.1" r="2.3" class="s6"/>
<circle cx="986.7" cy="895.1" r="2.3" class="s6"/>
<circle cx="970.8" cy="884.9" r="2.3" class="s9"/>
<circle cx="1090.7" cy="811.6" r="2.3" class="s9"/>
<circle cx="830.1" cy="948.7" r="2.3" class="s3"/>
<circle cx="832.3" cy="954.6" r="2.3" class="s1"/>
<circle cx="1098.8" cy="803.8" r="2.3" class="s3"/>
<circle cx="1078.5" cy="825.8" r="2.3" class="s9"/>
<circle cx="1089.9" cy="804.6" r="2.3" class="s9"/>
<circle cx="873.7" cy="952.8" r="2.3" class="s9"/>
<circle cx="1011.3" cy="875.9" r="2.3" class="s0"/>
<circle cx="951.8" cy="931.6" r="2.3" class="s8"/>
<circle cx="1089.1" cy="795.6" r="2.3" class="s0"/>
<circle cx="1169.3" cy="794.1" r="2.3" class="s3"/>
<circle cx="1050.8" cy="831.0" r="2.3" class="s9"/>
<circle cx="892.9" cy="941.9" r="2.3" class="s9"/>
<circle cx="1115.5" cy="809.4" r="2.3" class="s9"/>
<circle cx="1128.4" cy="801.1" r="2.3" class="s7"/>
<circle cx="838.8" cy="907.9" r="2.3" class="s9"/>
<circle cx="1129.2" cy="784.3" r="2.3" class="s3"/>
<circle cx="1089.4" cy="796.5" r="2.3" class="s9"/>
<circle cx="842.6" cy="972.9" r="2.3" class="s3"/>
<circle cx="832.2" cy="897.1" r="2.3" class="s9"/>
<circle cx="944.8" cy="900.7" r="2.3" class="s3"/>
<circle cx="863.5" cy="995.2" r="2.3" class="s9"/>
<circle cx="853.8" cy="975.3" r="2.3" class="s3"/>
<circle cx="1109.5" cy="793.2" r="2.3" class="s8"/>
<circle cx="912.8" cy="941.9" r="2.3" class="s3"/>
<circle cx="862.5" cy="975.4" r="2.3" class="s1"/>
<circle cx="904.2" cy="902.8" r="2.3" class="s1"/>
<circle cx="936.1" cy="912.8" r="2.3" class="s9"/>
<circle cx="867.3" cy="968.5" r="2.3" class="s9"/>
<circle cx="838.4" cy="951.2" r="2.3" class="s3"/>
<circle cx="912.9" cy="903.8" r="2.3" class="s3"/>
<circle cx="873.2" cy="938.0" r="2.3" class="s9"/>
<circle cx="983.5" cy="885.5" r="2.3" class="s7"/>
<circle cx="1089.0" cy="803.7" r="2.3" class="s6"/>
<circle cx="1011.5" cy="870.8" r="2.3" class="s4"/>
<circle cx="951.1" cy="891.3" r="2.3" class="s9"/>
<circle cx="882.8" cy="974.5" r="2.3" class="s9"/>
<circle cx="853.0" cy="995.6" r="2.3" class="s5"/>
<circle cx="1050.3" cy="830.5" r="2.3" class="s9"/>
<circle cx="904.1" cy="940.2" r="2.3" class="s7"/>
<circle cx="1150.4" cy="783.3" r="2.3" class="s3"/>
<circle cx="858.9" cy="996.2" r="2.3" class="s3"/>
<circle cx="863.3" cy="965.4" r="2.3" class="s3"/>
<circle cx="910.3" cy="934.2" r="2.3" class="s7"/>
<circle cx="1025.7" cy="874.1" r="2.3" class="s3"/>
<circle cx="1190.9" cy="792.6" r="2.3" class="s6"/>
<circle cx="878.6" cy="973.7" r="2.3" class="s3"/>
<circle cx="905.1" cy="920.0" r="2.3" class="s6"/>
<circle cx="1149.0" cy="791.3" r="2.3" class="s3"/>
<circle cx="912.8" cy="899.4" r="2.3" class="s3"/>
<circle cx="1168.2" cy="792.6" r="2.3" class="s3"/>
<circle cx="838.6" cy="970.4" r="2.3" class="s9"/>
<circle cx="1203.8" cy="792.5" r="2.3" class="s5"/>
<circle cx="893.0" cy="945.9" r="2.3" class="s9"/>
<circle cx="848.4" cy="1007.7" r="2.3" class="s3"/>
<circle cx="1129.0" cy="800.2" r="2.3" class="s3"/>
<circle cx="853.2" cy="985.5" r="2.3" class="s3"/>
<circle cx="888.5" cy="942.8" r="2.3" class="s9"/>
<circle cx="1062.6" cy="821.8" r="2.3" class="s9"/>
<circle cx="1109.8" cy="789.4" r="2.3" class="s5"/>
<circle cx="1188.5" cy="787.8" r="2.3" class="s7"/>
<circle cx="879.0" cy="977.7" r="2.3" class="s2"/>
<circle cx="1070.0" cy="816.8" r="2.3" class="s8"/>
<circle cx="899.8" cy="943.5" r="2.3" class="s6"/>
<circle cx="1054.7" cy="851.0" r="2.3" class="s6"/>
<circle cx="1189.2" cy="783.9" r="2.3" class="s8"/>
<circle cx="873.1" cy="935.7" r="2.3" class="s9"/>
<circle cx="853.1" cy="1004.2" r="2.3" class="s3"/>
<circle cx="1167.4" cy="784.5" r="2.3" class="s7"/>
<circle cx="853.4" cy="992.9" r="2.3" class="s8"/>
<circle cx="971.1" cy="891.1" r="2.3" class="s9"/>
<circle cx="1083.0" cy="816.1" r="2.3" class="s3"/>
<circle cx="870.4" cy="950.7" r="2.3" class="s3"/>
<circle cx="882.9" cy="967.0" r="2.3" class="s6"/>
<circle cx="1129.2" cy="800.7" r="2.3" class="s3"/>
<circle cx="1108.9" cy="805.4" r="2.3" class="s1"/>
<circle cx="854.5" cy="946.9" r="2.3" class="s7"/>
<circle cx="1010.8" cy="882.9" r="2.3" class="s2"/>
<circle cx="922.9" cy="914.5" r="2.3" class="s9"/>
<circle cx="883.1" cy="991.6" r="2.3" class="s3"/>
<circle cx="873.0" cy="969.2" r="2.3" class="s1"/>
<circle cx="1167.9" cy="790.6" r="2.3" class="s9"/>
<circle cx="976.9" cy="881.2" r="2.3" class="s6"/>
<circle cx="1022.3" cy="855.7" r="2.3" class="s8"/>
<circle cx="922.3" cy="892.7" r="2.3" class="s9"/>
<circle cx="838.4" cy="953.1" r="2.3" class="s8"/>
<circle cx="854.3" cy="973.4" r="2.3" class="s3"/>
<circle cx="1186.7" cy="783.3" r="2.3" class="s9"/>
<circle cx="1128.6" cy="786.0" r="2.3" class="s8"/>
<circle cx="905.9" cy="906.8" r="2.3" class="s3"/>
<circle cx="1009.8" cy="868.8" r="2.3" class="s0"/>
<circle cx="1090.2" cy="797.4" r="2.3" class="s2"/>
<circle cx="1030.3" cy="839.2" r="2.3" class="s3"/>
<circle cx="883.1" cy="959.3" r="2.3" class="s4"/>
<circle cx="893.4" cy="901.4" r="2.3" class="s2"/>
<circle cx="844.0" cy="941.4" r="2.3" class="s3"/>
<circle cx="1092.0" cy="801.0" r="2.3" class="s9"/>
<circle cx="831.9" cy="976.5" r="2.3" class="s3"/>
<circle cx="1109.5" cy="802.7" r="2.3" class="s6"/>
<circle cx="883.4" cy="958.4" r="2.3" class="s1"/>
<circle cx="1128.7" cy="795.8" r="2.3" class="s9"/>
<circle cx="1203.8" cy="788.0" r="2.3" class="s6"/>
<circle cx="1167.8" cy="793.6" r="2.3" class="s3"/>
<circle cx="847.3" cy="975.5" r="2.3" class="s9"/>
<circle cx="990.8" cy="900.1" r="2.3" class="s3"/>
<circle cx="893.3" cy="916.2" r="2.3" class="s7"/>
<circle cx="863.7" cy="977.9" r="2.3" class="s6"/>
<circle cx="912.9" cy="914.5" r="2.3" class="s3"/>
<circle cx="1063.3" cy="851.4" r="2.3" class="s3"/>
<circle cx="1055.0" cy="816.1" r="2.3" class="s3"/>
<circle cx="1144.3" cy="794.2" r="2.3" class="s9"/>
<circle cx="883.6" cy="968.8" r="2.3" class="s9"/>
<circle cx="883.1" cy="964.5" r="2.3" class="s3"/>
<circle cx="854.1" cy="946.2" r="2.3" class="s9"/>
<circle cx="1168.3" cy="791.0" r="2.3" class="s1"/>
<circle cx="1123.6" cy="801.7" r="2.3" class="s9"/>
<circle cx="873.3" cy="964.8" r="2.3" class="s9"/>
<circle cx="1030.3" cy="859.2" r="2.3" class="s9"/>
<circle cx="843.8" cy="974.9" r="2.3" class="s9"/>
<circle cx="1089.4" cy="794.8" r="2.3" class="s1"/>
<circle cx="952.4" cy="910.4" r="2.3" class="s3"/>
<circle cx="1071.9" cy="817.6" r="2.3" class="s7"/>
<circle cx="908.6" cy="924.3" r="2.3" class="s1"/>
<circle cx="934.8" cy="889.6" r="2.3" class="s3"/>
<circle cx="831.2" cy="934.5" r="2.3" class="s3"/>
<circle cx="934.2" cy="932.8" r="2.3" class="s6"/>
<circle cx="1116.6" cy="793.1" r="2.3" class="s3"/>
<circle cx="1012.3" cy="862.5" r="2.3" class="s3"/>
<circle cx="913.0" cy="911.9" r="2.3" class="s9"/>
<circle cx="1010.8" cy="876.5" r="2.3" class="s3"/>
<circle cx="923.4" cy="930.9" r="2.3" class="s9"/>
<circle cx="838.9" cy="948.4" r="2.3" class="s9"/>
<circle cx="893.0" cy="972.7" r="2.3" class="s9"/>
<circle cx="971.4" cy="892.2" r="2.3" class="s3"/>
<circle cx="1199.1" cy="777.2" r="2.3" class="s4"/>
<circle cx="882.1" cy="968.0" r="2.3" class="s9"/>
<circle cx="832.1" cy="906.1" r="2.3" class="s9"/>
<circle cx="872.9" cy="971.8" r="2.3" class="s9"/>
<circle cx="932.0" cy="913.7" r="2.3" class="s3"/>
<circle cx="831.4" cy="947.4" r="2.3" class="s3"/>
<circle cx="911.6" cy="948.1" r="2.3" class="s2"/>
<circle cx="1064.3" cy="829.8" r="2.3" class="s4"/>
<circle cx="1050.0" cy="839.4" r="2.3" class="s5"/>
<circle cx="853.9" cy="980.0" r="2.3" class="s3"/>
<circle cx="1011.4" cy="880.0" r="2.3" class="s3"/>
<circle cx="1011.3" cy="884.1" r="2.3" class="s7"/>
<circle cx="1031.3" cy="843.4" r="2.3" class="s9"/>
<circle cx="1069.1" cy="836.1" r="2.3" class="s4"/>
<circle cx="1109.0" cy="815.7" r="2.3" class="s3"/>
<circle cx="841.1" cy="958.7" r="2.3" class="s3"/>
<circle cx="1050.8" cy="834.9" r="2.3" class="s3"/>
<circle cx="873.3" cy="958.0" r="2.3" class="s3"/>
<circle cx="1178.8" cy="792.5" r="2.3" class="s9"/>
<circle cx="1153.9" cy="798.6" r="2.3" class="s9"/>
<circle cx="949.3" cy="907.5" r="2.3" class="s8"/>
<circle cx="971.6" cy="892.0" r="2.3" class="s9"/>
<circle cx="883.3" cy="989.0" r="2.3" class="s3"/>
<circle cx="862.8" cy="978.4" r="2.3" class="s1"/>
<circle cx="1069.9" cy="822.2" r="2.3" class="s9"/>
<circle cx="883.2" cy="957.6" r="2.3" class="s7"/>
<circle cx="833.1" cy="978.5" r="2.3" class="s9"/>
<circle cx="1111.8" cy="807.7" r="2.3" class="s9"/>
<circle cx="932.7" cy="911.1" r="2.3" class="s0"/>
<circle cx="893.1" cy="961.2" r="2.3" class="s0"/>
<circle cx="1148.9" cy="794.0" r="2.3" class="s3"/>
<circle cx="1109.0" cy="805.5" r="2.3" class="s5"/>
<circle cx="922.4" cy="915.8" r="2.3" class="s0"/>
<circle cx="1050.0" cy="852.6" r="2.3" class="s3"/>
<circle cx="838.2" cy="953.0" r="2.3" class="s9"/>
<circle cx="1030.4" cy="844.9" r="2.3" class="s0"/>
<circle cx="1070.0" cy="851.8" r="2.3" class="s8"/>
<circle cx="843.6" cy="937.5" r="2.3" class="s8"/>
<circle cx="831.0" cy="976.6" r="2.3" class="s1"/>
<circle cx="831.7" cy="932.4" r="2.3" class="s9"/>
<circle cx="1091.1" cy="795.2" r="2.3" class="s9"/>
<circle cx="1090.2" cy="814.0" r="2.3" class="s9"/>
<circle cx="892.5" cy="970.1" r="2.3" class="s9"/>
<circle cx="1109.7" cy="792.4" r="2.3" class="s3"/>
<circle cx="1113.3" cy="807.4" r="2.3" class="s0"/>
<circle cx="937.2" cy="908.6" r="2.3" class="s9"/>
<circle cx="1109.8" cy="792.9" r="2.3" class="s3"/>
<circle cx="1050.2" cy="835.5" r="2.3" class="s9"/>
<circle cx="892.6" cy="938.4" r="2.3" class="s8"/>
<circle cx="1188.8" cy="793.7" r="2.3" class="s3"/>
<circle cx="831.1" cy="898.4" r="2.3" class="s3"/>
<circle cx="831.6" cy="937.9" r="2.3" class="s9"/>
<circle cx="1011.2" cy="877.4" r="2.3" class="s9"/>
<circle cx="1168.2" cy="792.2" r="2.3" class="s8"/>
<circle cx="838.8" cy="973.8" r="2.3" class="s9"/>
<circle cx="1030.5" cy="829.9" r="2.3" class="s3"/>
<circle cx="1204.2" cy="783.6" r="2.3" class="s3"/>
<circle cx="1099.0" cy="791.3" r="2.3" class="s9"/>
<circle cx="839.5" cy="980.3" r="2.3" class="s3"/>
<circle cx="922.7" cy="930.3" r="2.3" class="s9"/>
<circle cx="965.1" cy="894.5" r="2.3" class="s9"/>
<circle cx="854.2" cy="986.6" r="2.3" class="s1"/>
<circle cx="903.3" cy="952.3" r="2.3" class="s9"/>
<circle cx="1100.2" cy="804.1" r="2.3" class="s9"/>
<circle cx="1187.6" cy="791.5" r="2.3" class="s2"/>
<circle cx="873.7" cy="986.4" r="2.3" class="s9"/>
<circle cx="991.7" cy="896.2" r="2.3" class="s9"/>
<circle cx="951.8" cy="896.7" r="2.3" class="s3"/>
<circle cx="1024.2" cy="867.7" r="2.3" class="s9"/>
<circle cx="1149.2" cy="796.7" r="2.3" class="s5"/>
<circle cx="1187.5" cy="788.9" r="2.3" class="s9"/>
<circle cx="1188.6" cy="780.3" r="2.3" class="s1"/>
<circle cx="839.2" cy="989.2" r="2.3" class="s5"/>
<circle cx="853.9" cy="1000.4" r="2.3" class="s3"/>
<circle cx="912.7" cy="907.9" r="2.3" class="s3"/>
<circle cx="951.9" cy="909.7" r="2.3" class="s8"/>
<circle cx="970.7" cy="896.4" r="2.3" class="s7"/>
<circle cx="1157.3" cy="780.8" r="2.3" class="s9"/>
<circle cx="1080.4" cy="821.1" r="2.3" class="s9"/>
<circle cx="1089.6" cy="793.9" r="2.3" class="s9"/>
<circle cx="873.4" cy="972.5" r="2.3" class="s9"/>
<circle cx="1109.2" cy="811.0" r="2.3" class="s9"/>
<circle cx="1148.8" cy="785.1" r="2.3" class="s9"/>
<circle cx="1030.9" cy="833.3" r="2.3" class="s9"/>
<circle cx="991.0" cy="878.1" r="2.3" class="s3"/>
<circle cx="843.7" cy="949.1" r="2.3" class="s7"/>
<circle cx="893.4" cy="958.3" r="2.3" class="s9"/>
<circle cx="1029.5" cy="853.2" r="2.3" class="s1"/>
<circle cx="1148.8" cy="789.4" r="2.3" class="s9"/>
<circle cx="971.3" cy="889.3" r="2.3" class="s3"/>
<circle cx="913.1" cy="925.4" r="2.3" class="s3"/>
<circle cx="853.8" cy="980.3" r="2.3" class="s8"/>
<circle cx="1010.8" cy="877.3" r="2.3" class="s9"/>
<circle cx="1036.7" cy="849.5" r="2.3" class="s9"/>
<circle cx="912.7" cy="938.2" r="2.3" class="s3"/>
<circle cx="1128.8" cy="791.1" r="2.3" class="s6"/>
<circle cx="902.4" cy="922.6" r="2.3" class="s9"/>
<circle cx="1201.1" cy="769.6" r="2.3" class="s9"/>
<circle cx="1129.1" cy="801.0" r="2.3" class="s5"/>
<circle cx="1108.7" cy="805.8" r="2.3" class="s3"/>
<circle cx="1010.4" cy="870.6" r="2.3" class="s0"/>
<circle cx="836.2" cy="948.2" r="2.3" class="s3"/>
<circle cx="1109.4" cy="806.4" r="2.3" class="s8"/>
<circle cx="912.8" cy="903.2" r="2.3" class="s0"/>
<circle cx="912.4" cy="917.6" r="2.3" class="s0"/>
<circle cx="1202.9" cy="787.2" r="2.3" class="s9"/>
<circle cx="1045.0" cy="834.0" r="2.3" class="s9"/>
<circle cx="951.8" cy="927.5" r="2.3" class="s9"/>
<circle cx="1171.2" cy="790.8" r="2.3" class="s6"/>
<circle cx="844.3" cy="966.9" r="2.3" class="s9"/>
<circle cx="831.6" cy="942.4" r="2.3" class="s9"/>
<circle cx="1167.7" cy="782.5" r="2.3" class="s9"/>
<circle cx="1141.9" cy="790.1" r="2.3" class="s3"/>
<circle cx="1133.5" cy="797.2" r="2.3" class="s9"/>
<circle cx="1157.0" cy="775.6" r="2.3" class="s7"/>
<circle cx="1182.1" cy="787.0" r="2.3" class="s9"/>
<circle cx="902.4" cy="952.6" r="2.3" class="s9"/>
<circle cx="838.1" cy="946.9" r="2.3" class="s9"/>
<circle cx="1069.6" cy="826.0" r="2.3" class="s9"/>
<circle cx="1128.4" cy="799.7" r="2.3" class="s9"/>
<circle cx="853.9" cy="997.7" r="2.3" class="s3"/>
<circle cx="1128.8" cy="796.7" r="2.3" class="s9"/>
<circle cx="971.6" cy="892.6" r="2.3" class="s3"/>
<circle cx="932.1" cy="918.7" r="2.3" class="s3"/>
<circle cx="1176.5" cy="790.1" r="2.3" class="s1"/>
<circle cx="843.7" cy="961.7" r="2.3" class="s0"/>
<circle cx="1205.0" cy="794.3" r="2.3" class="s3"/>
<circle cx="1155.2" cy="798.0" r="2.3" class="s1"/>
<circle cx="832.5" cy="968.2" r="2.3" class="s6"/>
<circle cx="889.8" cy="941.5" r="2.3" class="s9"/>
<circle cx="838.6" cy="932.5" r="2.3" class="s3"/>
<circle cx="863.6" cy="989.0" r="2.3" class="s8"/>
<circle cx="991.4" cy="888.2" r="2.3" class="s9"/>
<circle cx="853.2" cy="973.3" r="2.3" class="s0"/>
<circle cx="1030.7" cy="829.3" r="2.3" class="s8"/>
<circle cx="1148.6" cy="788.0" r="2.3" class="s3"/>
<circle cx="1015.6" cy="877.7" r="2.3" class="s1"/>
<circle cx="979.8" cy="888.7" r="2.3" class="s3"/>
<circle cx="1070.7" cy="810.6" r="2.3" class="s3"/>
<circle cx="1129.2" cy="793.9" r="2.3" class="s7"/>
<circle cx="893.1" cy="941.3" r="2.3" class="s9"/>
<circle cx="1109.3" cy="800.3" r="2.3" class="s6"/>
<circle cx="952.6" cy="918.7" r="2.3" class="s9"/>
<rect x="1125" y="841" width="78" height="190" fill="#fff"/>
<circle cx="1133" cy="851.0" r="3.3" fill="#000000" stroke="#222" stroke-width="0.6"/>
<text x="1160" y="855.7" style="font-family:'Liberation Sans',sans-serif;font-size:14.5px;fill:#222;letter-spacing:0.8px">1973</text>
<circle cx="1133" cy="870.1" r="3.3" fill="#e0141c" stroke="#222" stroke-width="0.6"/>
<text x="1160" y="874.8" style="font-family:'Liberation Sans',sans-serif;font-size:14.5px;fill:#222;letter-spacing:0.8px">1983</text>
<circle cx="1133" cy="889.2" r="3.3" fill="#1414d2" stroke="#222" stroke-width="0.6"/>
<text x="1160" y="893.9" style="font-family:'Liberation Sans',sans-serif;font-size:14.5px;fill:#222;letter-spacing:0.8px">1987</text>
<circle cx="1133" cy="908.3" r="3.3" fill="#c3c21c" stroke="#222" stroke-width="0.6"/>
<text x="1160" y="913.0" style="font-family:'Liberation Sans',sans-serif;font-size:14.5px;fill:#222;letter-spacing:0.8px">1988</text>
<circle cx="1133" cy="927.4" r="3.3" fill="#e01ee0" stroke="#222" stroke-width="0.6"/>
<text x="1160" y="932.1" style="font-family:'Liberation Sans',sans-serif;font-size:14.5px;fill:#222;letter-spacing:0.8px">1991</text>
<circle cx="1133" cy="946.5" r="3.3" fill="#2ee2ea" stroke="#222" stroke-width="0.6"/>
<text x="1160" y="951.2" style="font-family:'Liberation Sans',sans-serif;font-size:14.5px;fill:#222;letter-spacing:0.8px">1993</text>
<circle cx="1133" cy="965.6" r="3.3" fill="#e8e8e8" stroke="#222" stroke-width="0.6"/>
<text x="1160" y="970.3" style="font-family:'Liberation Sans',sans-serif;font-size:14.5px;fill:#222;letter-spacing:0.8px">1995</text>
<circle cx="1133" cy="984.7" r="3.3" fill="#000000" stroke="#222" stroke-width="0.6"/>
<text x="1160" y="989.4" style="font-family:'Liberation Sans',sans-serif;font-size:14.5px;fill:#222;letter-spacing:0.8px">1999</text>
<circle cx="1133" cy="1003.8" r="3.3" fill="#22e222" stroke="#222" stroke-width="0.6"/>
<text x="1160" y="1008.5" style="font-family:'Liberation Sans',sans-serif;font-size:14.5px;fill:#222;letter-spacing:0.8px">2000</text>
<circle cx="1133" cy="1022.9" r="3.3" fill="#f5861f" stroke="#222" stroke-width="0.6"/>
<text x="1160" y="1027.6" style="font-family:'Liberation Sans',sans-serif;font-size:14.5px;fill:#222;letter-spacing:0.8px">2010</text>
<text x="-0.5" y="741.5" style="font-family:'Liberation Sans',sans-serif;font-weight:bold;font-size:29.5px;fill:#000">B</text>
</svg>
</body></html>
